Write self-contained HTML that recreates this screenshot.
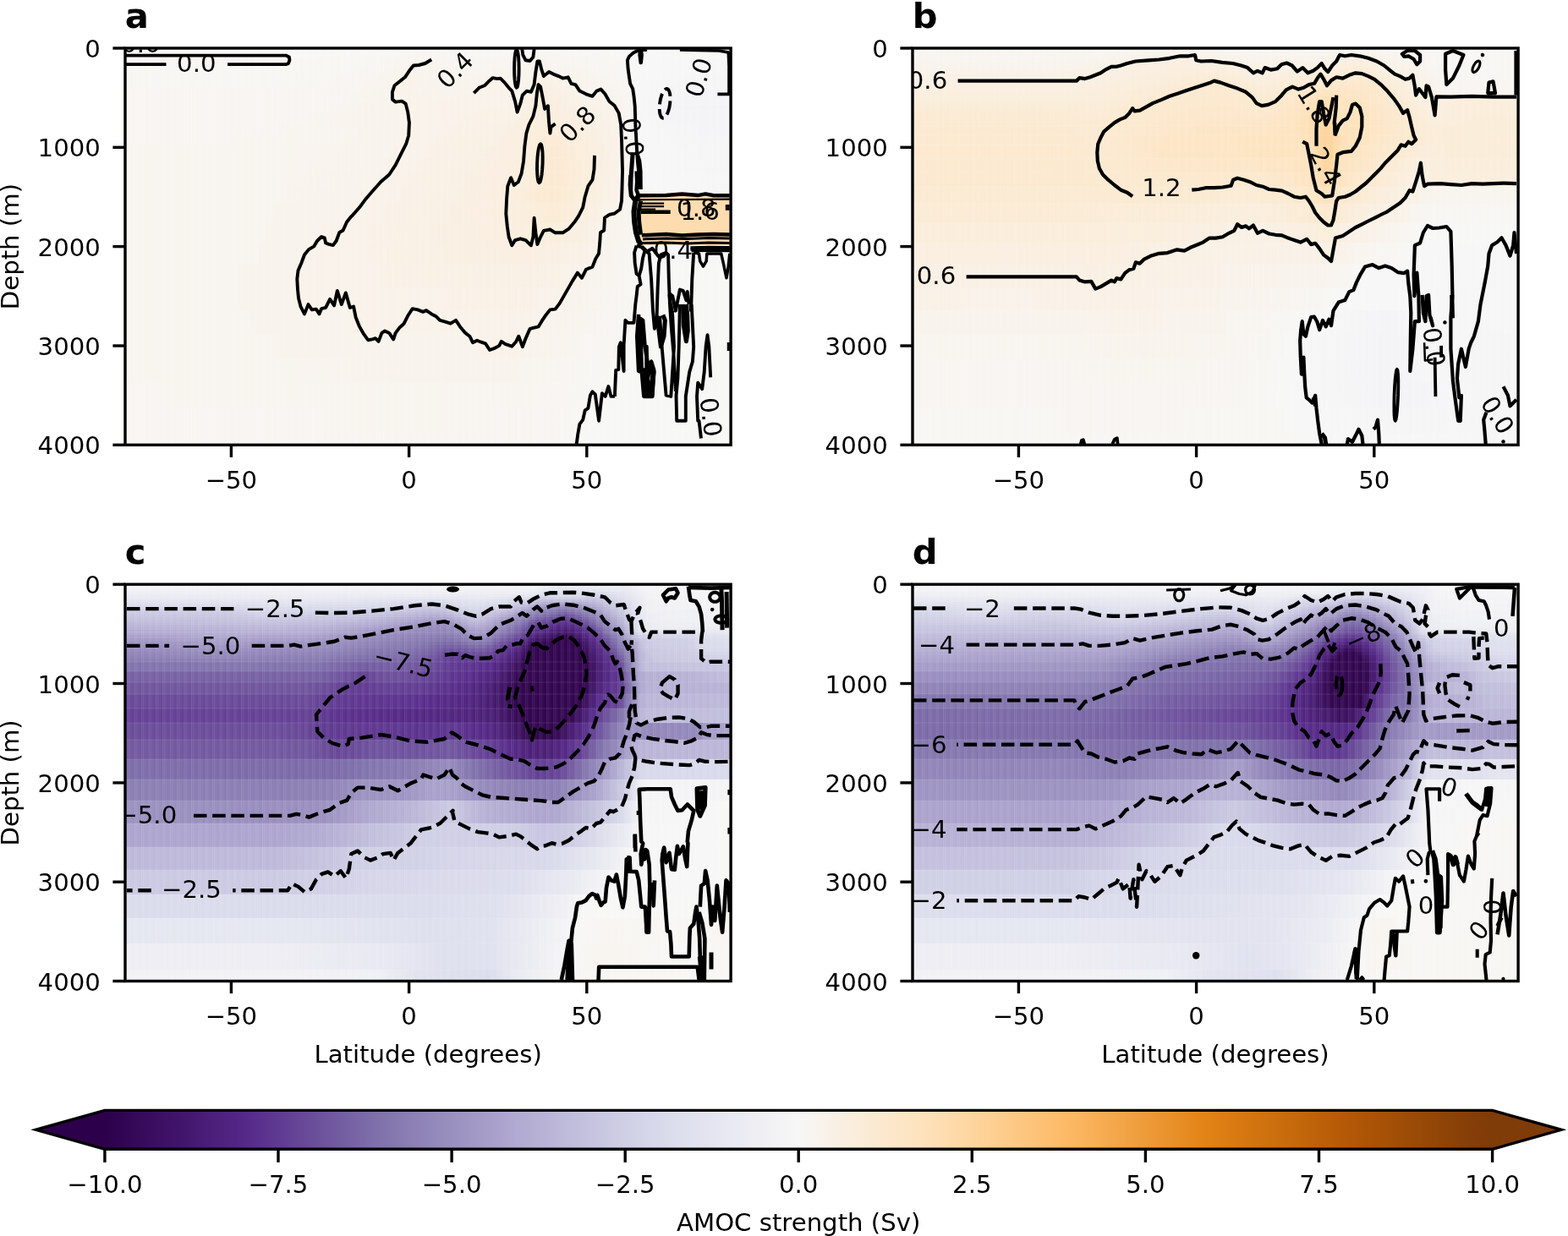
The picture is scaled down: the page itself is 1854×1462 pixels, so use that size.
<!DOCTYPE html>
<html lang="en"><head><meta charset="utf-8"><title>AMOC strength</title>
<style>html,body{margin:0;padding:0;background:#fff;}body{width:1854px;height:1462px;overflow:hidden;}svg{display:block;}svg text{font-family:'DejaVu Sans','Liberation Sans',sans-serif;fill:#000;}</style>
</head><body>
<svg width="1854" height="1462" viewBox="0 0 1854 1462">
<rect x="0" y="0" width="1854" height="1462" fill="#fff"/>
<g id="panel-a">
<clipPath id="clip-a"><rect x="148" y="57" width="716.1" height="469.3"/></clipPath>
<g clip-path="url(#clip-a)">
<defs><linearGradient id="ga0" gradientUnits="userSpaceOnUse" x1="148" y1="0" x2="864.1" y2="0"><stop offset=".000" stop-color="#f7f7f6"/><stop offset=".251" stop-color="#f7f7f6"/><stop offset=".457" stop-color="#f7f7f6"/><stop offset=".461" stop-color="#f7f6f3"/><stop offset=".524" stop-color="#f7f6f3"/><stop offset=".528" stop-color="#f7f7f6"/><stop offset=".654" stop-color="#f7f7f6"/><stop offset=".658" stop-color="#f7f6f3"/><stop offset=".712" stop-color="#f7f6f3"/><stop offset=".716" stop-color="#f7f7f6"/><stop offset=".968" stop-color="#f7f7f6"/><stop offset="1.000" stop-color="#f7f7f6"/></linearGradient><linearGradient id="ga1" gradientUnits="userSpaceOnUse" x1="148" y1="0" x2="864.1" y2="0"><stop offset=".000" stop-color="#f7f7f6"/><stop offset=".251" stop-color="#f7f7f6"/><stop offset=".415" stop-color="#f7f7f6"/><stop offset=".419" stop-color="#f7f6f3"/><stop offset=".670" stop-color="#f7f6f3"/><stop offset=".775" stop-color="#f7f6f3"/><stop offset=".779" stop-color="#f7f7f6"/><stop offset="1.000" stop-color="#f7f7f6"/></linearGradient><linearGradient id="ga2" gradientUnits="userSpaceOnUse" x1="148" y1="0" x2="864.1" y2="0"><stop offset=".000" stop-color="#f7f7f6"/><stop offset=".251" stop-color="#f7f7f6"/><stop offset=".369" stop-color="#f7f7f6"/><stop offset=".373" stop-color="#f7f6f3"/><stop offset=".469" stop-color="#f7f6f3"/><stop offset=".478" stop-color="#f8f5f1"/><stop offset=".582" stop-color="#f7f6f3"/><stop offset=".662" stop-color="#f7f6f3"/><stop offset=".670" stop-color="#f8f5f1"/><stop offset=".754" stop-color="#f7f6f3"/><stop offset=".800" stop-color="#f7f6f3"/><stop offset=".804" stop-color="#f7f7f6"/><stop offset="1.000" stop-color="#f7f7f6"/></linearGradient><linearGradient id="ga3" gradientUnits="userSpaceOnUse" x1="148" y1="0" x2="864.1" y2="0"><stop offset=".000" stop-color="#f7f7f6"/><stop offset=".251" stop-color="#f7f7f6"/><stop offset=".318" stop-color="#f7f7f6"/><stop offset=".323" stop-color="#f7f6f3"/><stop offset=".448" stop-color="#f7f6f3"/><stop offset=".457" stop-color="#f8f5f1"/><stop offset=".482" stop-color="#f8f5f1"/><stop offset=".486" stop-color="#f8f4ee"/><stop offset=".507" stop-color="#f8f4ee"/><stop offset=".511" stop-color="#f8f5f1"/><stop offset=".561" stop-color="#f7f6f3"/><stop offset=".641" stop-color="#f7f6f3"/><stop offset=".649" stop-color="#f8f5f1"/><stop offset=".670" stop-color="#f8f5f1"/><stop offset=".674" stop-color="#f8f4ee"/><stop offset=".687" stop-color="#f8f4ee"/><stop offset=".691" stop-color="#f8f5f1"/><stop offset=".783" stop-color="#f7f6f3"/><stop offset=".809" stop-color="#f7f6f3"/><stop offset=".813" stop-color="#f7f7f6"/><stop offset="1.000" stop-color="#f7f7f6"/></linearGradient><linearGradient id="ga4" gradientUnits="userSpaceOnUse" x1="148" y1="0" x2="864.1" y2="0"><stop offset=".000" stop-color="#f7f6f3"/><stop offset=".251" stop-color="#f7f6f3"/><stop offset=".432" stop-color="#f7f6f3"/><stop offset=".440" stop-color="#f8f5f1"/><stop offset=".465" stop-color="#f8f5f1"/><stop offset=".469" stop-color="#f8f4ee"/><stop offset=".490" stop-color="#f8f4ee"/><stop offset=".499" stop-color="#f8f3ec"/><stop offset=".515" stop-color="#f8f4ee"/><stop offset=".519" stop-color="#f8f5f1"/><stop offset=".561" stop-color="#f8f5f1"/><stop offset=".566" stop-color="#f7f6f3"/><stop offset=".574" stop-color="#f8f5f1"/><stop offset=".662" stop-color="#f8f5f1"/><stop offset=".666" stop-color="#f8f4ee"/><stop offset=".679" stop-color="#f8f4ee"/><stop offset=".683" stop-color="#f8f3ec"/><stop offset=".691" stop-color="#f8f4ee"/><stop offset=".712" stop-color="#f8f5f1"/><stop offset=".813" stop-color="#f7f6f3"/><stop offset=".817" stop-color="#f7f7f6"/><stop offset="1.000" stop-color="#f6f6f7"/></linearGradient><linearGradient id="ga5" gradientUnits="userSpaceOnUse" x1="148" y1="0" x2="864.1" y2="0"><stop offset=".000" stop-color="#f7f6f3"/><stop offset=".251" stop-color="#f7f6f3"/><stop offset=".419" stop-color="#f7f6f3"/><stop offset=".427" stop-color="#f8f5f1"/><stop offset=".452" stop-color="#f8f5f1"/><stop offset=".457" stop-color="#f8f4ee"/><stop offset=".507" stop-color="#f8f3ec"/><stop offset=".515" stop-color="#f8f4ee"/><stop offset=".536" stop-color="#f8f5f1"/><stop offset=".654" stop-color="#f8f5f1"/><stop offset=".658" stop-color="#f8f4ee"/><stop offset=".691" stop-color="#f8f3ec"/><stop offset=".700" stop-color="#f8f4ee"/><stop offset=".716" stop-color="#f8f4ee"/><stop offset=".721" stop-color="#f8f5f1"/><stop offset=".817" stop-color="#f7f6f3"/><stop offset=".821" stop-color="#f7f7f6"/><stop offset="1.000" stop-color="#f6f6f7"/></linearGradient><linearGradient id="ga6" gradientUnits="userSpaceOnUse" x1="148" y1="0" x2="864.1" y2="0"><stop offset=".000" stop-color="#f7f6f3"/><stop offset=".251" stop-color="#f7f6f3"/><stop offset=".406" stop-color="#f7f6f3"/><stop offset=".415" stop-color="#f8f5f1"/><stop offset=".444" stop-color="#f8f5f1"/><stop offset=".448" stop-color="#f8f4ee"/><stop offset=".499" stop-color="#f8f3ec"/><stop offset=".528" stop-color="#f8f4ee"/><stop offset=".532" stop-color="#f8f5f1"/><stop offset=".637" stop-color="#f8f5f1"/><stop offset=".641" stop-color="#f8f4ee"/><stop offset=".700" stop-color="#f8f3ec"/><stop offset=".708" stop-color="#f8f4ee"/><stop offset=".733" stop-color="#f8f4ee"/><stop offset=".737" stop-color="#f8f5f1"/><stop offset=".821" stop-color="#f7f6f3"/><stop offset=".825" stop-color="#f7f7f6"/><stop offset="1.000" stop-color="#f6f6f7"/></linearGradient><linearGradient id="ga7" gradientUnits="userSpaceOnUse" x1="148" y1="0" x2="864.1" y2="0"><stop offset=".000" stop-color="#f7f6f3"/><stop offset=".251" stop-color="#f7f6f3"/><stop offset=".394" stop-color="#f7f6f3"/><stop offset=".402" stop-color="#f8f5f1"/><stop offset=".436" stop-color="#f8f5f1"/><stop offset=".440" stop-color="#f8f4ee"/><stop offset=".490" stop-color="#f8f3ec"/><stop offset=".540" stop-color="#f8f4ee"/><stop offset=".545" stop-color="#f8f5f1"/><stop offset=".582" stop-color="#f8f5f1"/><stop offset=".587" stop-color="#f8f4ee"/><stop offset=".662" stop-color="#f8f4ee"/><stop offset=".670" stop-color="#f8f3ec"/><stop offset=".679" stop-color="#f8f3ec"/><stop offset=".683" stop-color="#f9f2e9"/><stop offset=".687" stop-color="#f8f3ec"/><stop offset=".750" stop-color="#f8f4ee"/><stop offset=".754" stop-color="#f8f5f1"/><stop offset=".821" stop-color="#f7f6f3"/><stop offset=".825" stop-color="#f7f7f6"/><stop offset="1.000" stop-color="#f6f6f7"/></linearGradient><linearGradient id="ga8" gradientUnits="userSpaceOnUse" x1="148" y1="0" x2="864.1" y2="0"><stop offset=".000" stop-color="#f7f6f3"/><stop offset=".251" stop-color="#f7f6f3"/><stop offset=".385" stop-color="#f7f6f3"/><stop offset=".394" stop-color="#f8f5f1"/><stop offset=".427" stop-color="#f8f5f1"/><stop offset=".432" stop-color="#f8f4ee"/><stop offset=".473" stop-color="#f8f3ec"/><stop offset=".478" stop-color="#f9f2e9"/><stop offset=".490" stop-color="#f8f3ec"/><stop offset=".561" stop-color="#f8f4ee"/><stop offset=".658" stop-color="#f8f4ee"/><stop offset=".666" stop-color="#f8f3ec"/><stop offset=".679" stop-color="#f8f3ec"/><stop offset=".683" stop-color="#f9f2e9"/><stop offset=".695" stop-color="#f8f3ec"/><stop offset=".762" stop-color="#f8f4ee"/><stop offset=".767" stop-color="#f8f5f1"/><stop offset=".825" stop-color="#f7f6f3"/><stop offset=".829" stop-color="#f7f7f6"/><stop offset="1.000" stop-color="#f6f6f7"/></linearGradient><linearGradient id="ga9" gradientUnits="userSpaceOnUse" x1="148" y1="0" x2="864.1" y2="0"><stop offset=".000" stop-color="#f7f6f3"/><stop offset=".251" stop-color="#f7f6f3"/><stop offset=".373" stop-color="#f7f6f3"/><stop offset=".381" stop-color="#f8f5f1"/><stop offset=".423" stop-color="#f8f5f1"/><stop offset=".427" stop-color="#f8f4ee"/><stop offset=".469" stop-color="#f8f3ec"/><stop offset=".473" stop-color="#f9f2e9"/><stop offset=".494" stop-color="#f8f3ec"/><stop offset=".566" stop-color="#f8f4ee"/><stop offset=".607" stop-color="#f8f4ee"/><stop offset=".616" stop-color="#f8f3ec"/><stop offset=".637" stop-color="#f8f4ee"/><stop offset=".674" stop-color="#f8f3ec"/><stop offset=".679" stop-color="#f9f2e9"/><stop offset=".700" stop-color="#f9f2e9"/><stop offset=".704" stop-color="#f8f3ec"/><stop offset=".771" stop-color="#f8f4ee"/><stop offset=".775" stop-color="#f8f5f1"/><stop offset=".825" stop-color="#f7f6f3"/><stop offset=".829" stop-color="#f7f7f6"/><stop offset="1.000" stop-color="#f6f6f7"/></linearGradient><linearGradient id="ga10" gradientUnits="userSpaceOnUse" x1="148" y1="0" x2="864.1" y2="0"><stop offset=".000" stop-color="#f7f6f3"/><stop offset=".251" stop-color="#f7f6f3"/><stop offset=".360" stop-color="#f7f6f3"/><stop offset=".369" stop-color="#f8f5f1"/><stop offset=".415" stop-color="#f8f5f1"/><stop offset=".419" stop-color="#f8f4ee"/><stop offset=".465" stop-color="#f8f3ec"/><stop offset=".469" stop-color="#f9f2e9"/><stop offset=".482" stop-color="#f9f2e9"/><stop offset=".486" stop-color="#f8f3ec"/><stop offset=".587" stop-color="#f8f4ee"/><stop offset=".595" stop-color="#f8f3ec"/><stop offset=".670" stop-color="#f8f3ec"/><stop offset=".674" stop-color="#f9f2e9"/><stop offset=".712" stop-color="#f9f2e9"/><stop offset=".716" stop-color="#f8f3ec"/><stop offset=".783" stop-color="#f8f4ee"/><stop offset=".788" stop-color="#f8f5f1"/><stop offset=".825" stop-color="#f7f6f3"/><stop offset=".829" stop-color="#f7f7f6"/><stop offset="1.000" stop-color="#f5f5f6"/></linearGradient><linearGradient id="ga11" gradientUnits="userSpaceOnUse" x1="148" y1="0" x2="864.1" y2="0"><stop offset=".000" stop-color="#f7f6f3"/><stop offset=".251" stop-color="#f7f6f3"/><stop offset=".348" stop-color="#f7f6f3"/><stop offset=".356" stop-color="#f8f5f1"/><stop offset=".411" stop-color="#f8f5f1"/><stop offset=".415" stop-color="#f8f4ee"/><stop offset=".461" stop-color="#f8f3ec"/><stop offset=".465" stop-color="#f9f2e9"/><stop offset=".478" stop-color="#f9f2e9"/><stop offset=".482" stop-color="#f8f3ec"/><stop offset=".574" stop-color="#f8f4ee"/><stop offset=".582" stop-color="#f8f3ec"/><stop offset=".670" stop-color="#f8f3ec"/><stop offset=".674" stop-color="#f9f2e9"/><stop offset=".683" stop-color="#f9f2e9"/><stop offset=".687" stop-color="#f9f1e6"/><stop offset=".700" stop-color="#f9f2e9"/><stop offset=".725" stop-color="#f9f2e9"/><stop offset=".729" stop-color="#f8f3ec"/><stop offset=".792" stop-color="#f8f4ee"/><stop offset=".796" stop-color="#f8f5f1"/><stop offset=".829" stop-color="#f7f6f3"/><stop offset=".834" stop-color="#f7f7f6"/><stop offset="1.000" stop-color="#f5f5f6"/></linearGradient><linearGradient id="ga12" gradientUnits="userSpaceOnUse" x1="148" y1="0" x2="864.1" y2="0"><stop offset=".000" stop-color="#f7f6f3"/><stop offset=".251" stop-color="#f7f6f3"/><stop offset=".406" stop-color="#f8f5f1"/><stop offset=".411" stop-color="#f8f4ee"/><stop offset=".457" stop-color="#f8f3ec"/><stop offset=".461" stop-color="#f9f2e9"/><stop offset=".478" stop-color="#f9f2e9"/><stop offset=".482" stop-color="#f8f3ec"/><stop offset=".545" stop-color="#f8f3ec"/><stop offset=".553" stop-color="#f8f4ee"/><stop offset=".561" stop-color="#f8f3ec"/><stop offset=".666" stop-color="#f8f3ec"/><stop offset=".679" stop-color="#f9f1e6"/><stop offset=".708" stop-color="#f9f1e6"/><stop offset=".712" stop-color="#f9f2e9"/><stop offset=".733" stop-color="#f9f2e9"/><stop offset=".737" stop-color="#f8f3ec"/><stop offset=".796" stop-color="#f8f4ee"/><stop offset=".800" stop-color="#f8f5f1"/><stop offset=".829" stop-color="#f7f6f3"/><stop offset=".834" stop-color="#f7f7f6"/><stop offset=".980" stop-color="#f5f5f6"/><stop offset="1.000" stop-color="#f5f5f6"/></linearGradient><linearGradient id="ga13" gradientUnits="userSpaceOnUse" x1="148" y1="0" x2="864.1" y2="0"><stop offset=".000" stop-color="#f7f6f3"/><stop offset=".251" stop-color="#f7f6f3"/><stop offset=".398" stop-color="#f8f5f1"/><stop offset=".402" stop-color="#f8f4ee"/><stop offset=".452" stop-color="#f8f3ec"/><stop offset=".457" stop-color="#f9f2e9"/><stop offset=".478" stop-color="#f9f2e9"/><stop offset=".482" stop-color="#f8f3ec"/><stop offset=".595" stop-color="#f8f3ec"/><stop offset=".599" stop-color="#f9f2e9"/><stop offset=".624" stop-color="#f9f2e9"/><stop offset=".628" stop-color="#f8f3ec"/><stop offset=".666" stop-color="#f8f3ec"/><stop offset=".683" stop-color="#f9f0e4"/><stop offset=".716" stop-color="#f9f1e6"/><stop offset=".721" stop-color="#f9f2e9"/><stop offset=".737" stop-color="#f9f2e9"/><stop offset=".742" stop-color="#f8f3ec"/><stop offset=".779" stop-color="#f8f3ec"/><stop offset=".788" stop-color="#f8f4ee"/><stop offset=".800" stop-color="#f8f4ee"/><stop offset=".804" stop-color="#f8f5f1"/><stop offset=".829" stop-color="#f7f6f3"/><stop offset=".834" stop-color="#f7f7f6"/><stop offset=".959" stop-color="#f5f5f6"/><stop offset="1.000" stop-color="#f5f5f6"/></linearGradient><linearGradient id="ga14" gradientUnits="userSpaceOnUse" x1="148" y1="0" x2="864.1" y2="0"><stop offset=".000" stop-color="#f7f6f3"/><stop offset=".251" stop-color="#f7f6f3"/><stop offset=".394" stop-color="#f8f5f1"/><stop offset=".398" stop-color="#f8f4ee"/><stop offset=".448" stop-color="#f8f3ec"/><stop offset=".452" stop-color="#f9f2e9"/><stop offset=".478" stop-color="#f9f2e9"/><stop offset=".482" stop-color="#f8f3ec"/><stop offset=".591" stop-color="#f8f3ec"/><stop offset=".595" stop-color="#f9f2e9"/><stop offset=".633" stop-color="#f9f2e9"/><stop offset=".637" stop-color="#f8f3ec"/><stop offset=".662" stop-color="#f8f3ec"/><stop offset=".679" stop-color="#f9f0e4"/><stop offset=".683" stop-color="#f9efe1"/><stop offset=".695" stop-color="#f9efe1"/><stop offset=".700" stop-color="#f9f0e4"/><stop offset=".721" stop-color="#f9f1e6"/><stop offset=".725" stop-color="#f9f2e9"/><stop offset=".746" stop-color="#f9f2e9"/><stop offset=".750" stop-color="#f8f3ec"/><stop offset=".788" stop-color="#f8f3ec"/><stop offset=".796" stop-color="#f8f4ee"/><stop offset=".817" stop-color="#f8f5f1"/><stop offset=".838" stop-color="#f7f7f6"/><stop offset=".930" stop-color="#f5f5f6"/><stop offset="1.000" stop-color="#f5f5f6"/></linearGradient><linearGradient id="ga15" gradientUnits="userSpaceOnUse" x1="148" y1="0" x2="864.1" y2="0"><stop offset=".000" stop-color="#f7f6f3"/><stop offset=".251" stop-color="#f7f6f3"/><stop offset=".344" stop-color="#f8f5f1"/><stop offset=".390" stop-color="#f8f5f1"/><stop offset=".394" stop-color="#f8f4ee"/><stop offset=".444" stop-color="#f8f3ec"/><stop offset=".448" stop-color="#f9f2e9"/><stop offset=".482" stop-color="#f9f2e9"/><stop offset=".486" stop-color="#f8f3ec"/><stop offset=".582" stop-color="#f8f3ec"/><stop offset=".587" stop-color="#f9f2e9"/><stop offset=".637" stop-color="#f9f2e9"/><stop offset=".641" stop-color="#f8f3ec"/><stop offset=".658" stop-color="#f8f3ec"/><stop offset=".662" stop-color="#f9f2e9"/><stop offset=".670" stop-color="#f9f2e9"/><stop offset=".679" stop-color="#f9f0e4"/><stop offset=".683" stop-color="#faeedf"/><stop offset=".700" stop-color="#f9efe1"/><stop offset=".704" stop-color="#f9f0e4"/><stop offset=".729" stop-color="#f9f1e6"/><stop offset=".733" stop-color="#f9f2e9"/><stop offset=".750" stop-color="#f9f2e9"/><stop offset=".754" stop-color="#f8f3ec"/><stop offset=".792" stop-color="#f8f3ec"/><stop offset=".800" stop-color="#f8f4ee"/><stop offset=".821" stop-color="#f8f5f1"/><stop offset=".842" stop-color="#f7f7f6"/><stop offset=".913" stop-color="#f5f5f6"/><stop offset="1.000" stop-color="#f5f5f6"/></linearGradient><linearGradient id="ga16" gradientUnits="userSpaceOnUse" x1="148" y1="0" x2="864.1" y2="0"><stop offset=".000" stop-color="#f8f5f1"/><stop offset=".251" stop-color="#f8f5f1"/><stop offset=".385" stop-color="#f8f5f1"/><stop offset=".390" stop-color="#f8f4ee"/><stop offset=".440" stop-color="#f8f3ec"/><stop offset=".444" stop-color="#f9f2e9"/><stop offset=".482" stop-color="#f9f2e9"/><stop offset=".486" stop-color="#f8f3ec"/><stop offset=".574" stop-color="#f8f3ec"/><stop offset=".578" stop-color="#f9f2e9"/><stop offset=".670" stop-color="#f9f2e9"/><stop offset=".679" stop-color="#f9efe1"/><stop offset=".687" stop-color="#faeedf"/><stop offset=".725" stop-color="#f9f1e6"/><stop offset=".767" stop-color="#f8f3ec"/><stop offset=".796" stop-color="#f8f3ec"/><stop offset=".825" stop-color="#f7f6f3"/><stop offset=".846" stop-color="#f7f7f6"/><stop offset=".897" stop-color="#f5f5f6"/><stop offset="1.000" stop-color="#f4f4f6"/></linearGradient><linearGradient id="ga17" gradientUnits="userSpaceOnUse" x1="148" y1="0" x2="864.1" y2="0"><stop offset=".000" stop-color="#f8f5f1"/><stop offset=".251" stop-color="#f8f5f1"/><stop offset=".377" stop-color="#f8f5f1"/><stop offset=".381" stop-color="#f8f4ee"/><stop offset=".440" stop-color="#f8f3ec"/><stop offset=".444" stop-color="#f9f2e9"/><stop offset=".486" stop-color="#f9f2e9"/><stop offset=".490" stop-color="#f8f3ec"/><stop offset=".570" stop-color="#f8f3ec"/><stop offset=".574" stop-color="#f9f2e9"/><stop offset=".666" stop-color="#f9f2e9"/><stop offset=".683" stop-color="#faeedf"/><stop offset=".708" stop-color="#f9efe1"/><stop offset=".712" stop-color="#f9f0e4"/><stop offset=".737" stop-color="#f9f1e6"/><stop offset=".742" stop-color="#f9f2e9"/><stop offset=".783" stop-color="#f9f2e9"/><stop offset=".788" stop-color="#f8f3ec"/><stop offset=".813" stop-color="#f8f4ee"/><stop offset=".817" stop-color="#f8f5f1"/><stop offset=".834" stop-color="#f7f6f3"/><stop offset=".838" stop-color="#f7f7f6"/><stop offset=".943" stop-color="#f4f4f6"/><stop offset="1.000" stop-color="#f4f4f6"/></linearGradient><linearGradient id="ga18" gradientUnits="userSpaceOnUse" x1="148" y1="0" x2="864.1" y2="0"><stop offset=".000" stop-color="#f8f5f1"/><stop offset=".251" stop-color="#f8f5f1"/><stop offset=".373" stop-color="#f8f5f1"/><stop offset=".377" stop-color="#f8f4ee"/><stop offset=".440" stop-color="#f8f3ec"/><stop offset=".444" stop-color="#f9f2e9"/><stop offset=".494" stop-color="#f9f2e9"/><stop offset=".499" stop-color="#f8f3ec"/><stop offset=".561" stop-color="#f8f3ec"/><stop offset=".566" stop-color="#f9f2e9"/><stop offset=".662" stop-color="#f9f2e9"/><stop offset=".679" stop-color="#faeedf"/><stop offset=".683" stop-color="#faeedf"/><stop offset=".687" stop-color="#faeedc"/><stop offset=".691" stop-color="#faeedf"/><stop offset=".712" stop-color="#f9efe1"/><stop offset=".716" stop-color="#f9f0e4"/><stop offset=".742" stop-color="#f9f1e6"/><stop offset=".746" stop-color="#f9f2e9"/><stop offset=".788" stop-color="#f9f2e9"/><stop offset=".792" stop-color="#f8f3ec"/><stop offset=".813" stop-color="#f8f4ee"/><stop offset=".817" stop-color="#f8f5f1"/><stop offset=".834" stop-color="#f7f6f3"/><stop offset=".838" stop-color="#f7f7f6"/><stop offset=".922" stop-color="#f4f4f6"/><stop offset="1.000" stop-color="#f4f4f6"/></linearGradient><linearGradient id="ga19" gradientUnits="userSpaceOnUse" x1="148" y1="0" x2="864.1" y2="0"><stop offset=".000" stop-color="#f8f5f1"/><stop offset=".251" stop-color="#f8f5f1"/><stop offset=".369" stop-color="#f8f5f1"/><stop offset=".373" stop-color="#f8f4ee"/><stop offset=".440" stop-color="#f8f3ec"/><stop offset=".444" stop-color="#f9f2e9"/><stop offset=".507" stop-color="#f9f2e9"/><stop offset=".511" stop-color="#f8f3ec"/><stop offset=".545" stop-color="#f8f3ec"/><stop offset=".549" stop-color="#f9f2e9"/><stop offset=".658" stop-color="#f9f2e9"/><stop offset=".679" stop-color="#faeedf"/><stop offset=".683" stop-color="#faeedc"/><stop offset=".704" stop-color="#f9efe1"/><stop offset=".725" stop-color="#f9f0e4"/><stop offset=".746" stop-color="#f9f1e6"/><stop offset=".758" stop-color="#f9f2e9"/><stop offset=".792" stop-color="#f9f2e9"/><stop offset=".796" stop-color="#f8f3ec"/><stop offset=".817" stop-color="#f8f4ee"/><stop offset=".821" stop-color="#f8f5f1"/><stop offset=".842" stop-color="#f7f7f6"/><stop offset=".905" stop-color="#f4f4f6"/><stop offset="1.000" stop-color="#f4f4f6"/></linearGradient><linearGradient id="ga20" gradientUnits="userSpaceOnUse" x1="148" y1="0" x2="864.1" y2="0"><stop offset=".000" stop-color="#f8f5f1"/><stop offset=".251" stop-color="#f8f5f1"/><stop offset=".360" stop-color="#f8f5f1"/><stop offset=".364" stop-color="#f8f4ee"/><stop offset=".411" stop-color="#f8f4ee"/><stop offset=".419" stop-color="#f8f3ec"/><stop offset=".440" stop-color="#f8f3ec"/><stop offset=".444" stop-color="#f9f2e9"/><stop offset=".658" stop-color="#f9f2e9"/><stop offset=".674" stop-color="#faeedf"/><stop offset=".687" stop-color="#faeedc"/><stop offset=".708" stop-color="#f9efe1"/><stop offset=".721" stop-color="#f9efe1"/><stop offset=".725" stop-color="#f9f0e4"/><stop offset=".758" stop-color="#f9f1e6"/><stop offset=".762" stop-color="#f9f2e9"/><stop offset=".796" stop-color="#f9f2e9"/><stop offset=".800" stop-color="#f8f3ec"/><stop offset=".817" stop-color="#f8f4ee"/><stop offset=".821" stop-color="#f8f5f1"/><stop offset=".838" stop-color="#f7f6f3"/><stop offset=".842" stop-color="#f7f7f6"/><stop offset=".888" stop-color="#f4f4f6"/><stop offset="1.000" stop-color="#f4f4f6"/></linearGradient><linearGradient id="ga21" gradientUnits="userSpaceOnUse" x1="148" y1="0" x2="864.1" y2="0"><stop offset=".000" stop-color="#f8f5f1"/><stop offset=".251" stop-color="#f8f5f1"/><stop offset=".352" stop-color="#f8f5f1"/><stop offset=".356" stop-color="#f8f4ee"/><stop offset=".444" stop-color="#f8f3ec"/><stop offset=".448" stop-color="#f9f2e9"/><stop offset=".654" stop-color="#f9f2e9"/><stop offset=".683" stop-color="#faeedc"/><stop offset=".695" stop-color="#faeedc"/><stop offset=".700" stop-color="#faeedf"/><stop offset=".725" stop-color="#f9efe1"/><stop offset=".729" stop-color="#f9f0e4"/><stop offset=".767" stop-color="#f9f1e6"/><stop offset=".771" stop-color="#f9f2e9"/><stop offset=".800" stop-color="#f9f2e9"/><stop offset=".804" stop-color="#f8f3ec"/><stop offset=".821" stop-color="#f8f4ee"/><stop offset=".825" stop-color="#f8f5f1"/><stop offset=".846" stop-color="#f7f7f6"/><stop offset=".880" stop-color="#f4f4f6"/><stop offset="1.000" stop-color="#f4f4f6"/></linearGradient><linearGradient id="ga22" gradientUnits="userSpaceOnUse" x1="148" y1="0" x2="864.1" y2="0"><stop offset=".000" stop-color="#f8f5f1"/><stop offset=".251" stop-color="#f8f5f1"/><stop offset=".344" stop-color="#f8f5f1"/><stop offset=".348" stop-color="#f8f4ee"/><stop offset=".448" stop-color="#f8f3ec"/><stop offset=".452" stop-color="#f9f2e9"/><stop offset=".654" stop-color="#f9f2e9"/><stop offset=".666" stop-color="#f9efe1"/><stop offset=".674" stop-color="#faeedf"/><stop offset=".679" stop-color="#faeedc"/><stop offset=".700" stop-color="#faeedc"/><stop offset=".704" stop-color="#faeedf"/><stop offset=".733" stop-color="#f9efe1"/><stop offset=".737" stop-color="#f9f0e4"/><stop offset=".779" stop-color="#f9f1e6"/><stop offset=".783" stop-color="#f9f2e9"/><stop offset=".804" stop-color="#f9f2e9"/><stop offset=".809" stop-color="#f8f3ec"/><stop offset=".817" stop-color="#f8f3ec"/><stop offset=".825" stop-color="#f8f5f1"/><stop offset=".846" stop-color="#f7f7f6"/><stop offset=".880" stop-color="#f4f4f6"/><stop offset="1.000" stop-color="#f3f3f5"/></linearGradient><linearGradient id="ga23" gradientUnits="userSpaceOnUse" x1="148" y1="0" x2="864.1" y2="0"><stop offset=".000" stop-color="#f8f5f1"/><stop offset=".251" stop-color="#f8f5f1"/><stop offset=".335" stop-color="#f8f5f1"/><stop offset=".339" stop-color="#f8f4ee"/><stop offset=".452" stop-color="#f8f3ec"/><stop offset=".457" stop-color="#f9f2e9"/><stop offset=".587" stop-color="#f9f2e9"/><stop offset=".591" stop-color="#f9f1e6"/><stop offset=".628" stop-color="#f9f1e6"/><stop offset=".633" stop-color="#f9f2e9"/><stop offset=".649" stop-color="#f9f2e9"/><stop offset=".670" stop-color="#faeedf"/><stop offset=".683" stop-color="#faeedc"/><stop offset=".700" stop-color="#faeedc"/><stop offset=".704" stop-color="#faeedf"/><stop offset=".737" stop-color="#f9efe1"/><stop offset=".742" stop-color="#f9f0e4"/><stop offset=".783" stop-color="#f9f1e6"/><stop offset=".788" stop-color="#f9f2e9"/><stop offset=".809" stop-color="#f9f2e9"/><stop offset=".813" stop-color="#f8f3ec"/><stop offset=".825" stop-color="#f8f4ee"/><stop offset=".842" stop-color="#f7f7f6"/><stop offset=".884" stop-color="#f4f4f6"/><stop offset="1.000" stop-color="#f4f4f6"/></linearGradient><linearGradient id="ga24" gradientUnits="userSpaceOnUse" x1="148" y1="0" x2="864.1" y2="0"><stop offset=".000" stop-color="#f8f5f1"/><stop offset=".251" stop-color="#f8f5f1"/><stop offset=".323" stop-color="#f8f5f1"/><stop offset=".327" stop-color="#f8f4ee"/><stop offset=".452" stop-color="#f8f3ec"/><stop offset=".457" stop-color="#f9f2e9"/><stop offset=".574" stop-color="#f9f2e9"/><stop offset=".578" stop-color="#f9f1e6"/><stop offset=".654" stop-color="#f9f1e6"/><stop offset=".662" stop-color="#f9efe1"/><stop offset=".683" stop-color="#faeedc"/><stop offset=".704" stop-color="#faeedc"/><stop offset=".708" stop-color="#faeedf"/><stop offset=".746" stop-color="#f9efe1"/><stop offset=".750" stop-color="#f9f0e4"/><stop offset=".788" stop-color="#f9f1e6"/><stop offset=".792" stop-color="#f9f2e9"/><stop offset=".813" stop-color="#f9f2e9"/><stop offset=".829" stop-color="#f8f5f1"/><stop offset=".838" stop-color="#f7f6f3"/><stop offset=".842" stop-color="#f7f7f6"/><stop offset=".888" stop-color="#f4f4f6"/><stop offset="1.000" stop-color="#f4f4f6"/></linearGradient><linearGradient id="ga25" gradientUnits="userSpaceOnUse" x1="148" y1="0" x2="864.1" y2="0"><stop offset=".000" stop-color="#f8f5f1"/><stop offset=".251" stop-color="#f8f5f1"/><stop offset=".314" stop-color="#f8f5f1"/><stop offset=".318" stop-color="#f8f4ee"/><stop offset=".452" stop-color="#f8f3ec"/><stop offset=".457" stop-color="#f9f2e9"/><stop offset=".561" stop-color="#f9f2e9"/><stop offset=".566" stop-color="#f9f1e6"/><stop offset=".645" stop-color="#f9f1e6"/><stop offset=".666" stop-color="#faeedf"/><stop offset=".679" stop-color="#faeedc"/><stop offset=".704" stop-color="#faeedc"/><stop offset=".708" stop-color="#faeedf"/><stop offset=".750" stop-color="#f9efe1"/><stop offset=".754" stop-color="#f9f0e4"/><stop offset=".792" stop-color="#f9f1e6"/><stop offset=".796" stop-color="#f9f2e9"/><stop offset=".813" stop-color="#f9f2e9"/><stop offset=".829" stop-color="#f8f5f1"/><stop offset=".838" stop-color="#f7f6f3"/><stop offset=".842" stop-color="#f7f7f6"/><stop offset=".905" stop-color="#f4f4f6"/><stop offset="1.000" stop-color="#f4f4f6"/></linearGradient><linearGradient id="ga26" gradientUnits="userSpaceOnUse" x1="148" y1="0" x2="864.1" y2="0"><stop offset=".000" stop-color="#f8f5f1"/><stop offset=".251" stop-color="#f8f5f1"/><stop offset=".302" stop-color="#f8f5f1"/><stop offset=".306" stop-color="#f8f4ee"/><stop offset=".457" stop-color="#f8f3ec"/><stop offset=".461" stop-color="#f9f2e9"/><stop offset=".553" stop-color="#f9f2e9"/><stop offset=".557" stop-color="#f9f1e6"/><stop offset=".624" stop-color="#f9f1e6"/><stop offset=".633" stop-color="#f9f0e4"/><stop offset=".649" stop-color="#f9f0e4"/><stop offset=".654" stop-color="#f9efe1"/><stop offset=".674" stop-color="#faeedc"/><stop offset=".712" stop-color="#faeedc"/><stop offset=".716" stop-color="#faeedf"/><stop offset=".758" stop-color="#f9efe1"/><stop offset=".762" stop-color="#f9f0e4"/><stop offset=".796" stop-color="#f9f1e6"/><stop offset=".800" stop-color="#f9f2e9"/><stop offset=".813" stop-color="#f9f2e9"/><stop offset=".829" stop-color="#f8f5f1"/><stop offset=".838" stop-color="#f7f6f3"/><stop offset=".842" stop-color="#f7f7f6"/><stop offset=".917" stop-color="#f4f4f6"/><stop offset="1.000" stop-color="#f4f4f6"/></linearGradient><linearGradient id="ga27" gradientUnits="userSpaceOnUse" x1="148" y1="0" x2="864.1" y2="0"><stop offset=".000" stop-color="#f8f5f1"/><stop offset=".251" stop-color="#f8f5f1"/><stop offset=".285" stop-color="#f8f5f1"/><stop offset=".289" stop-color="#f8f4ee"/><stop offset=".457" stop-color="#f8f3ec"/><stop offset=".461" stop-color="#f9f2e9"/><stop offset=".545" stop-color="#f9f2e9"/><stop offset=".549" stop-color="#f9f1e6"/><stop offset=".607" stop-color="#f9f1e6"/><stop offset=".616" stop-color="#f9f0e4"/><stop offset=".641" stop-color="#f9f0e4"/><stop offset=".645" stop-color="#f9efe1"/><stop offset=".666" stop-color="#faeedf"/><stop offset=".670" stop-color="#faeedc"/><stop offset=".725" stop-color="#faeedc"/><stop offset=".729" stop-color="#faeedf"/><stop offset=".762" stop-color="#f9efe1"/><stop offset=".767" stop-color="#f9f0e4"/><stop offset=".800" stop-color="#f9f1e6"/><stop offset=".804" stop-color="#f9f2e9"/><stop offset=".813" stop-color="#f9f2e9"/><stop offset=".817" stop-color="#f8f3ec"/><stop offset=".829" stop-color="#f8f4ee"/><stop offset=".842" stop-color="#f7f7f6"/><stop offset=".934" stop-color="#f4f4f6"/><stop offset="1.000" stop-color="#f4f4f6"/></linearGradient><linearGradient id="ga28" gradientUnits="userSpaceOnUse" x1="148" y1="0" x2="864.1" y2="0"><stop offset=".000" stop-color="#f8f5f1"/><stop offset=".251" stop-color="#f8f5f1"/><stop offset=".256" stop-color="#f8f4ee"/><stop offset=".381" stop-color="#f8f4ee"/><stop offset=".390" stop-color="#f8f3ec"/><stop offset=".452" stop-color="#f8f3ec"/><stop offset=".457" stop-color="#f9f2e9"/><stop offset=".528" stop-color="#f9f2e9"/><stop offset=".532" stop-color="#f9f1e6"/><stop offset=".591" stop-color="#f9f1e6"/><stop offset=".599" stop-color="#f9f0e4"/><stop offset=".628" stop-color="#f9f0e4"/><stop offset=".633" stop-color="#f9efe1"/><stop offset=".658" stop-color="#faeedf"/><stop offset=".662" stop-color="#faeedc"/><stop offset=".704" stop-color="#faedda"/><stop offset=".742" stop-color="#faeedc"/><stop offset=".746" stop-color="#faeedf"/><stop offset=".771" stop-color="#f9efe1"/><stop offset=".775" stop-color="#f9f0e4"/><stop offset=".804" stop-color="#f9f1e6"/><stop offset=".809" stop-color="#f9f2e9"/><stop offset=".817" stop-color="#f9f2e9"/><stop offset=".838" stop-color="#f7f6f3"/><stop offset=".842" stop-color="#f7f7f6"/><stop offset=".968" stop-color="#f4f4f6"/><stop offset="1.000" stop-color="#f4f4f6"/></linearGradient><linearGradient id="ga29" gradientUnits="userSpaceOnUse" x1="148" y1="0" x2="864.1" y2="0"><stop offset=".000" stop-color="#f8f5f1"/><stop offset=".176" stop-color="#f8f5f1"/><stop offset=".180" stop-color="#f8f4ee"/><stop offset=".364" stop-color="#f8f4ee"/><stop offset=".373" stop-color="#f8f3ec"/><stop offset=".448" stop-color="#f8f3ec"/><stop offset=".452" stop-color="#f9f2e9"/><stop offset=".511" stop-color="#f9f2e9"/><stop offset=".515" stop-color="#f9f1e6"/><stop offset=".612" stop-color="#f9f0e4"/><stop offset=".616" stop-color="#f9efe1"/><stop offset=".654" stop-color="#faeedf"/><stop offset=".658" stop-color="#faeedc"/><stop offset=".679" stop-color="#faedda"/><stop offset=".687" stop-color="#fbebd5"/><stop offset=".704" stop-color="#fbebd5"/><stop offset=".708" stop-color="#fbead2"/><stop offset=".712" stop-color="#fbebd5"/><stop offset=".729" stop-color="#faecd7"/><stop offset=".733" stop-color="#faedda"/><stop offset=".754" stop-color="#faeedc"/><stop offset=".758" stop-color="#faeedf"/><stop offset=".779" stop-color="#f9efe1"/><stop offset=".783" stop-color="#f9f0e4"/><stop offset=".809" stop-color="#f9f1e6"/><stop offset=".821" stop-color="#f8f3ec"/><stop offset=".829" stop-color="#f8f4ee"/><stop offset=".842" stop-color="#f7f7f6"/><stop offset=".955" stop-color="#f5f5f6"/><stop offset="1.000" stop-color="#f5f5f6"/></linearGradient><linearGradient id="ga30" gradientUnits="userSpaceOnUse" x1="148" y1="0" x2="864.1" y2="0"><stop offset=".000" stop-color="#f8f4ee"/><stop offset=".251" stop-color="#f8f4ee"/><stop offset=".440" stop-color="#f8f3ec"/><stop offset=".444" stop-color="#f9f2e9"/><stop offset=".499" stop-color="#f9f2e9"/><stop offset=".503" stop-color="#f9f1e6"/><stop offset=".595" stop-color="#f9f0e4"/><stop offset=".599" stop-color="#f9efe1"/><stop offset=".649" stop-color="#faeedf"/><stop offset=".654" stop-color="#faeedc"/><stop offset=".674" stop-color="#faedda"/><stop offset=".679" stop-color="#faecd7"/><stop offset=".695" stop-color="#fbebd5"/><stop offset=".700" stop-color="#fbead2"/><stop offset=".716" stop-color="#fbead2"/><stop offset=".721" stop-color="#fbebd5"/><stop offset=".742" stop-color="#faecd7"/><stop offset=".746" stop-color="#faedda"/><stop offset=".767" stop-color="#faeedc"/><stop offset=".771" stop-color="#faeedf"/><stop offset=".788" stop-color="#f9efe1"/><stop offset=".792" stop-color="#f9f0e4"/><stop offset=".809" stop-color="#f9f1e6"/><stop offset=".821" stop-color="#f8f3ec"/><stop offset=".829" stop-color="#f8f4ee"/><stop offset=".842" stop-color="#f7f7f6"/><stop offset="1.000" stop-color="#f5f5f6"/></linearGradient><linearGradient id="ga31" gradientUnits="userSpaceOnUse" x1="148" y1="0" x2="864.1" y2="0"><stop offset=".000" stop-color="#f8f4ee"/><stop offset=".251" stop-color="#f8f4ee"/><stop offset=".427" stop-color="#f8f3ec"/><stop offset=".432" stop-color="#f9f2e9"/><stop offset=".486" stop-color="#f9f2e9"/><stop offset=".490" stop-color="#f9f1e6"/><stop offset=".578" stop-color="#f9f0e4"/><stop offset=".582" stop-color="#f9efe1"/><stop offset=".645" stop-color="#faeedf"/><stop offset=".649" stop-color="#faeedc"/><stop offset=".670" stop-color="#faedda"/><stop offset=".674" stop-color="#faecd7"/><stop offset=".695" stop-color="#fbebd5"/><stop offset=".700" stop-color="#fbead2"/><stop offset=".721" stop-color="#fbead2"/><stop offset=".725" stop-color="#fbebd5"/><stop offset=".746" stop-color="#faecd7"/><stop offset=".750" stop-color="#faedda"/><stop offset=".775" stop-color="#faeedc"/><stop offset=".779" stop-color="#faeedf"/><stop offset=".809" stop-color="#f9f1e6"/><stop offset=".821" stop-color="#f8f3ec"/><stop offset=".829" stop-color="#f8f4ee"/><stop offset=".842" stop-color="#f7f7f6"/><stop offset="1.000" stop-color="#f5f5f6"/></linearGradient><linearGradient id="ga32" gradientUnits="userSpaceOnUse" x1="148" y1="0" x2="864.1" y2="0"><stop offset=".000" stop-color="#f8f4ee"/><stop offset=".251" stop-color="#f8f4ee"/><stop offset=".364" stop-color="#f8f3ec"/><stop offset=".411" stop-color="#f8f3ec"/><stop offset=".415" stop-color="#f9f2e9"/><stop offset=".469" stop-color="#f9f2e9"/><stop offset=".473" stop-color="#f9f1e6"/><stop offset=".561" stop-color="#f9f0e4"/><stop offset=".566" stop-color="#f9efe1"/><stop offset=".628" stop-color="#faeedf"/><stop offset=".633" stop-color="#faeedc"/><stop offset=".658" stop-color="#faeedc"/><stop offset=".666" stop-color="#faedda"/><stop offset=".670" stop-color="#faecd7"/><stop offset=".691" stop-color="#fbebd5"/><stop offset=".695" stop-color="#fbead2"/><stop offset=".721" stop-color="#fbead2"/><stop offset=".725" stop-color="#fbebd5"/><stop offset=".746" stop-color="#faecd7"/><stop offset=".750" stop-color="#faedda"/><stop offset=".771" stop-color="#faeedc"/><stop offset=".775" stop-color="#faeedf"/><stop offset=".817" stop-color="#f9f2e9"/><stop offset=".846" stop-color="#f7f7f6"/><stop offset="1.000" stop-color="#f6f6f7"/></linearGradient><linearGradient id="ga33" gradientUnits="userSpaceOnUse" x1="148" y1="0" x2="864.1" y2="0"><stop offset=".000" stop-color="#f8f4ee"/><stop offset=".251" stop-color="#f8f4ee"/><stop offset=".293" stop-color="#f8f3ec"/><stop offset=".385" stop-color="#f8f3ec"/><stop offset=".390" stop-color="#f9f2e9"/><stop offset=".448" stop-color="#f9f2e9"/><stop offset=".452" stop-color="#f9f1e6"/><stop offset=".549" stop-color="#f9f0e4"/><stop offset=".553" stop-color="#f9efe1"/><stop offset=".620" stop-color="#faeedf"/><stop offset=".624" stop-color="#faeedc"/><stop offset=".649" stop-color="#faeedc"/><stop offset=".679" stop-color="#fbebd5"/><stop offset=".700" stop-color="#fbead2"/><stop offset=".716" stop-color="#fbead2"/><stop offset=".721" stop-color="#fbebd5"/><stop offset=".737" stop-color="#faecd7"/><stop offset=".742" stop-color="#faedda"/><stop offset=".762" stop-color="#faeedc"/><stop offset=".767" stop-color="#faeedf"/><stop offset=".783" stop-color="#f9efe1"/><stop offset=".788" stop-color="#f9f0e4"/><stop offset=".804" stop-color="#f9f1e6"/><stop offset=".809" stop-color="#f9f2e9"/><stop offset=".817" stop-color="#f9f2e9"/><stop offset=".821" stop-color="#f8f3ec"/><stop offset=".850" stop-color="#f7f6f3"/><stop offset=".867" stop-color="#f7f6f3"/><stop offset=".871" stop-color="#f7f7f6"/><stop offset="1.000" stop-color="#f6f6f7"/></linearGradient><linearGradient id="ga34" gradientUnits="userSpaceOnUse" x1="148" y1="0" x2="864.1" y2="0"><stop offset=".000" stop-color="#f8f4ee"/><stop offset=".239" stop-color="#f8f4ee"/><stop offset=".247" stop-color="#f8f3ec"/><stop offset=".360" stop-color="#f8f3ec"/><stop offset=".364" stop-color="#f9f2e9"/><stop offset=".423" stop-color="#f9f2e9"/><stop offset=".427" stop-color="#f9f1e6"/><stop offset=".536" stop-color="#f9f0e4"/><stop offset=".540" stop-color="#f9efe1"/><stop offset=".620" stop-color="#faeedf"/><stop offset=".624" stop-color="#faeedc"/><stop offset=".662" stop-color="#faeedc"/><stop offset=".670" stop-color="#faedda"/><stop offset=".683" stop-color="#faedda"/><stop offset=".687" stop-color="#faecd7"/><stop offset=".708" stop-color="#fbebd5"/><stop offset=".716" stop-color="#faecd7"/><stop offset=".737" stop-color="#faedda"/><stop offset=".788" stop-color="#f9f1e6"/><stop offset=".792" stop-color="#f9f2e9"/><stop offset=".809" stop-color="#f9f2e9"/><stop offset=".813" stop-color="#f8f3ec"/><stop offset=".838" stop-color="#f8f4ee"/><stop offset=".842" stop-color="#f8f5f1"/><stop offset=".884" stop-color="#f7f6f3"/><stop offset=".888" stop-color="#f7f7f6"/><stop offset="1.000" stop-color="#f6f6f7"/></linearGradient><linearGradient id="ga35" gradientUnits="userSpaceOnUse" x1="148" y1="0" x2="864.1" y2="0"><stop offset=".000" stop-color="#f8f4ee"/><stop offset=".230" stop-color="#f8f4ee"/><stop offset=".239" stop-color="#f8f3ec"/><stop offset=".318" stop-color="#f8f3ec"/><stop offset=".323" stop-color="#f9f2e9"/><stop offset=".406" stop-color="#f9f2e9"/><stop offset=".411" stop-color="#f9f1e6"/><stop offset=".503" stop-color="#f9f0e4"/><stop offset=".515" stop-color="#f9f0e4"/><stop offset=".519" stop-color="#f9efe1"/><stop offset=".587" stop-color="#f9efe1"/><stop offset=".595" stop-color="#faeedf"/><stop offset=".624" stop-color="#faeedf"/><stop offset=".628" stop-color="#faeedc"/><stop offset=".721" stop-color="#faeedc"/><stop offset=".725" stop-color="#faeedf"/><stop offset=".754" stop-color="#f9efe1"/><stop offset=".758" stop-color="#f9f0e4"/><stop offset=".775" stop-color="#f9f1e6"/><stop offset=".779" stop-color="#f9f2e9"/><stop offset=".800" stop-color="#f8f3ec"/><stop offset=".829" stop-color="#f8f4ee"/><stop offset=".834" stop-color="#f8f5f1"/><stop offset=".880" stop-color="#f7f6f3"/><stop offset=".884" stop-color="#f7f7f6"/><stop offset="1.000" stop-color="#f6f6f7"/></linearGradient><linearGradient id="ga36" gradientUnits="userSpaceOnUse" x1="148" y1="0" x2="864.1" y2="0"><stop offset=".000" stop-color="#f8f4ee"/><stop offset=".218" stop-color="#f8f4ee"/><stop offset=".226" stop-color="#f8f3ec"/><stop offset=".289" stop-color="#f8f3ec"/><stop offset=".293" stop-color="#f9f2e9"/><stop offset=".398" stop-color="#f9f2e9"/><stop offset=".402" stop-color="#f9f1e6"/><stop offset=".494" stop-color="#f9f0e4"/><stop offset=".528" stop-color="#f9f0e4"/><stop offset=".532" stop-color="#f9efe1"/><stop offset=".624" stop-color="#f9efe1"/><stop offset=".633" stop-color="#faeedf"/><stop offset=".716" stop-color="#f9efe1"/><stop offset=".721" stop-color="#f9f0e4"/><stop offset=".762" stop-color="#f9f1e6"/><stop offset=".767" stop-color="#f9f2e9"/><stop offset=".783" stop-color="#f9f2e9"/><stop offset=".788" stop-color="#f8f3ec"/><stop offset=".817" stop-color="#f8f4ee"/><stop offset=".821" stop-color="#f8f5f1"/><stop offset=".846" stop-color="#f7f6f3"/><stop offset=".850" stop-color="#f7f7f6"/><stop offset="1.000" stop-color="#f6f6f7"/></linearGradient><linearGradient id="ga37" gradientUnits="userSpaceOnUse" x1="148" y1="0" x2="864.1" y2="0"><stop offset=".000" stop-color="#f8f4ee"/><stop offset=".184" stop-color="#f8f4ee"/><stop offset=".193" stop-color="#f8f3ec"/><stop offset=".276" stop-color="#f8f3ec"/><stop offset=".281" stop-color="#f9f2e9"/><stop offset=".419" stop-color="#f9f2e9"/><stop offset=".423" stop-color="#f9f1e6"/><stop offset=".674" stop-color="#f9f0e4"/><stop offset=".721" stop-color="#f9f1e6"/><stop offset=".725" stop-color="#f9f2e9"/><stop offset=".754" stop-color="#f9f2e9"/><stop offset=".758" stop-color="#f8f3ec"/><stop offset=".804" stop-color="#f8f4ee"/><stop offset=".809" stop-color="#f8f5f1"/><stop offset=".850" stop-color="#f7f6f3"/><stop offset=".855" stop-color="#f7f7f6"/><stop offset="1.000" stop-color="#f7f7f6"/></linearGradient><linearGradient id="ga38" gradientUnits="userSpaceOnUse" x1="148" y1="0" x2="864.1" y2="0"><stop offset=".000" stop-color="#f8f4ee"/><stop offset=".184" stop-color="#f8f4ee"/><stop offset=".193" stop-color="#f8f3ec"/><stop offset=".276" stop-color="#f8f3ec"/><stop offset=".281" stop-color="#f9f2e9"/><stop offset=".528" stop-color="#f9f2e9"/><stop offset=".532" stop-color="#f9f1e6"/><stop offset=".674" stop-color="#f9f1e6"/><stop offset=".679" stop-color="#f9f2e9"/><stop offset=".725" stop-color="#f9f2e9"/><stop offset=".729" stop-color="#f8f3ec"/><stop offset=".792" stop-color="#f8f4ee"/><stop offset=".796" stop-color="#f8f5f1"/><stop offset=".867" stop-color="#f7f6f3"/><stop offset=".871" stop-color="#f7f7f6"/><stop offset="1.000" stop-color="#f7f7f6"/></linearGradient><linearGradient id="ga39" gradientUnits="userSpaceOnUse" x1="148" y1="0" x2="864.1" y2="0"><stop offset=".000" stop-color="#f8f4ee"/><stop offset=".205" stop-color="#f8f4ee"/><stop offset=".214" stop-color="#f8f3ec"/><stop offset=".364" stop-color="#f8f3ec"/><stop offset=".369" stop-color="#f9f2e9"/><stop offset=".620" stop-color="#f9f2e9"/><stop offset=".691" stop-color="#f9f2e9"/><stop offset=".695" stop-color="#f8f3ec"/><stop offset=".771" stop-color="#f8f4ee"/><stop offset=".775" stop-color="#f8f5f1"/><stop offset=".859" stop-color="#f7f6f3"/><stop offset=".863" stop-color="#f7f7f6"/><stop offset="1.000" stop-color="#f7f7f6"/></linearGradient><linearGradient id="ga40" gradientUnits="userSpaceOnUse" x1="148" y1="0" x2="864.1" y2="0"><stop offset=".000" stop-color="#f8f4ee"/><stop offset=".247" stop-color="#f8f4ee"/><stop offset=".256" stop-color="#f8f3ec"/><stop offset=".507" stop-color="#f8f3ec"/><stop offset=".578" stop-color="#f8f3ec"/><stop offset=".582" stop-color="#f9f2e9"/><stop offset=".654" stop-color="#f9f2e9"/><stop offset=".658" stop-color="#f8f3ec"/><stop offset=".746" stop-color="#f8f4ee"/><stop offset=".750" stop-color="#f8f5f1"/><stop offset=".825" stop-color="#f7f6f3"/><stop offset=".829" stop-color="#f7f7f6"/><stop offset="1.000" stop-color="#f7f7f6"/></linearGradient><linearGradient id="ga41" gradientUnits="userSpaceOnUse" x1="148" y1="0" x2="864.1" y2="0"><stop offset=".000" stop-color="#f8f4ee"/><stop offset=".251" stop-color="#f8f4ee"/><stop offset=".482" stop-color="#f8f3ec"/><stop offset=".649" stop-color="#f8f3ec"/><stop offset=".658" stop-color="#f8f4ee"/><stop offset=".712" stop-color="#f8f4ee"/><stop offset=".716" stop-color="#f8f5f1"/><stop offset=".800" stop-color="#f7f6f3"/><stop offset=".804" stop-color="#f7f7f6"/><stop offset="1.000" stop-color="#f7f7f6"/></linearGradient><linearGradient id="ga42" gradientUnits="userSpaceOnUse" x1="148" y1="0" x2="864.1" y2="0"><stop offset=".000" stop-color="#f8f5f1"/><stop offset=".067" stop-color="#f8f5f1"/><stop offset=".071" stop-color="#f8f4ee"/><stop offset=".323" stop-color="#f8f4ee"/><stop offset=".574" stop-color="#f8f4ee"/><stop offset=".674" stop-color="#f8f4ee"/><stop offset=".679" stop-color="#f8f5f1"/><stop offset=".792" stop-color="#f7f6f3"/><stop offset=".796" stop-color="#f7f7f6"/><stop offset="1.000" stop-color="#f7f7f6"/></linearGradient><linearGradient id="ga43" gradientUnits="userSpaceOnUse" x1="148" y1="0" x2="864.1" y2="0"><stop offset=".000" stop-color="#f8f5f1"/><stop offset=".251" stop-color="#f8f5f1"/><stop offset=".327" stop-color="#f8f5f1"/><stop offset=".331" stop-color="#f8f4ee"/><stop offset=".582" stop-color="#f8f4ee"/><stop offset=".603" stop-color="#f8f4ee"/><stop offset=".607" stop-color="#f8f5f1"/><stop offset=".712" stop-color="#f8f5f1"/><stop offset=".721" stop-color="#f7f6f3"/><stop offset=".762" stop-color="#f7f6f3"/><stop offset=".767" stop-color="#f7f7f6"/><stop offset="1.000" stop-color="#f7f7f6"/></linearGradient><linearGradient id="ga44" gradientUnits="userSpaceOnUse" x1="148" y1="0" x2="864.1" y2="0"><stop offset=".000" stop-color="#f8f5f1"/><stop offset=".251" stop-color="#f8f5f1"/><stop offset=".503" stop-color="#f8f5f1"/><stop offset=".712" stop-color="#f8f5f1"/><stop offset=".721" stop-color="#f7f6f3"/><stop offset=".737" stop-color="#f7f6f3"/><stop offset=".742" stop-color="#f7f7f6"/><stop offset=".993" stop-color="#f7f7f6"/><stop offset="1.000" stop-color="#f7f7f6"/></linearGradient><pattern id="hla" patternUnits="userSpaceOnUse" x="150.4" y="0" width="8.4" height="16"><rect x="0" y="0" width="1" height="16" fill="#fff" opacity=".15"/><rect x="2.1" y="0" width="1" height="16" fill="#fff" opacity=".15"/><rect x="4.2" y="0" width="1" height="16" fill="#fff" opacity=".07"/><rect x="6.3" y="0" width="1" height="16" fill="#fff" opacity=".04"/></pattern></defs>
<rect x="148" y="57" width="716.1" height="3" fill="url(#ga0)"/>
<rect x="148" y="60" width="716.1" height="3" fill="url(#ga1)"/>
<rect x="148" y="63" width="716.1" height="3" fill="url(#ga2)"/>
<rect x="148" y="66" width="716.1" height="3" fill="url(#ga3)"/>
<rect x="148" y="69" width="716.1" height="3" fill="url(#ga4)"/>
<rect x="148" y="72" width="716.1" height="3" fill="url(#ga5)"/>
<rect x="148" y="75" width="716.1" height="3" fill="url(#ga6)"/>
<rect x="148" y="78" width="716.1" height="3" fill="url(#ga7)"/>
<rect x="148" y="81" width="716.1" height="3" fill="url(#ga8)"/>
<rect x="148" y="84" width="716.1" height="3" fill="url(#ga9)"/>
<rect x="148" y="87" width="716.1" height="3" fill="url(#ga10)"/>
<rect x="148" y="90" width="716.1" height="3" fill="url(#ga11)"/>
<rect x="148" y="93" width="716.1" height="3" fill="url(#ga12)"/>
<rect x="148" y="96" width="716.1" height="3" fill="url(#ga13)"/>
<rect x="148" y="99" width="716.1" height="3" fill="url(#ga14)"/>
<rect x="148" y="102" width="716.1" height="3" fill="url(#ga15)"/>
<rect x="148" y="105" width="716.1" height="3" fill="url(#ga16)"/>
<rect x="148" y="108" width="716.1" height="3" fill="url(#ga17)"/>
<rect x="148" y="111" width="716.1" height="2" fill="url(#ga18)"/>
<rect x="148" y="113" width="716.1" height="4" fill="url(#ga19)"/>
<rect x="148" y="117" width="716.1" height="4" fill="url(#ga20)"/>
<rect x="148" y="121" width="716.1" height="4" fill="url(#ga21)"/>
<rect x="148" y="125" width="716.1" height="4" fill="url(#ga22)"/>
<rect x="148" y="129" width="716.1" height="4" fill="url(#ga23)"/>
<rect x="148" y="133" width="716.1" height="4" fill="url(#ga24)"/>
<rect x="148" y="137" width="716.1" height="4" fill="url(#ga25)"/>
<rect x="148" y="141" width="716.1" height="4" fill="url(#ga26)"/>
<rect x="148" y="145" width="716.1" height="4" fill="url(#ga27)"/>
<rect x="148" y="149" width="716.1" height="11" fill="url(#ga28)"/>
<rect x="148" y="160" width="716.1" height="12" fill="url(#ga29)"/>
<rect x="148" y="172" width="716.1" height="15" fill="url(#ga30)"/>
<rect x="148" y="187" width="716.1" height="17" fill="url(#ga31)"/>
<rect x="148" y="204" width="716.1" height="17" fill="url(#ga32)"/>
<rect x="148" y="221" width="716.1" height="20" fill="url(#ga33)"/>
<rect x="148" y="241" width="716.1" height="23" fill="url(#ga34)"/>
<rect x="148" y="264" width="716.1" height="23" fill="url(#ga35)"/>
<rect x="148" y="287" width="716.1" height="25" fill="url(#ga36)"/>
<rect x="148" y="312" width="716.1" height="28" fill="url(#ga37)"/>
<rect x="148" y="340" width="716.1" height="27" fill="url(#ga38)"/>
<rect x="148" y="367" width="716.1" height="28" fill="url(#ga39)"/>
<rect x="148" y="395" width="716.1" height="29" fill="url(#ga40)"/>
<rect x="148" y="424" width="716.1" height="28" fill="url(#ga41)"/>
<rect x="148" y="452" width="716.1" height="30" fill="url(#ga42)"/>
<rect x="148" y="482" width="716.1" height="30" fill="url(#ga43)"/>
<rect x="148" y="512" width="716.1" height="15" fill="url(#ga44)"/>
<rect x="148" y="57" width="716.1" height="469.3" fill="url(#hla)"/>
<path d="M148 113 h716.1 M148 149 h716.1 M148 160 h716.1 M148 172 h716.1 M148 187 h716.1 M148 204 h716.1 M148 221 h716.1 M148 241 h716.1 M148 264 h716.1 M148 287 h716.1 M148 312 h716.1 M148 340 h716.1 M148 367 h716.1 M148 395 h716.1 M148 424 h716.1 M148 452 h716.1 M148 482 h716.1 M148 512 h716.1" stroke="#fff" stroke-opacity=".1" stroke-width="1" fill="none"/>
<rect x="755.1" y="230" width="110" height="60" fill="#fddcb0"/>
<path d="M757.8 58.8 758.6 65 757.8 74.1 756.6 65 757 58.8" fill="none" stroke="#000" stroke-width="4.5" stroke-linejoin="round" stroke-linecap="butt"/>
<path d="M748.2 180.2 747 196.5 746.1 209 745.7 224" fill="none" stroke="#000" stroke-width="5" stroke-linejoin="round" stroke-linecap="butt"/>
<path d="M752.6 179 756.3 190.2 757.6 202.8 757.8 224" fill="none" stroke="#000" stroke-width="4" stroke-linejoin="round" stroke-linecap="butt"/>
<path d="M803.9 59 825.2 59.5 850.2 60 861.3 61.9 862 77.6 862 102.6 862 111.4 848.4 111.4" fill="none" stroke="#000" stroke-width="3.6" stroke-linejoin="round" stroke-linecap="butt"/>
<path d="M745.7 207.5 745.1 218.8 746.3 231.3 750.1 236.3" fill="none" stroke="#000" stroke-width="5" stroke-linejoin="round" stroke-linecap="butt"/>
<path d="M752.6 202.5 753.2 215 752.6 225 755.1 231.3 787.6 231.1 806.4 229.4 825.2 231.1 834 229.4 844 231.3 862.8 231.3" fill="none" stroke="#000" stroke-width="4.5" stroke-linejoin="round" stroke-linecap="butt"/>
<path d="M755.1 236.3 862.8 235.7" fill="none" stroke="#000" stroke-width="2.2" stroke-linejoin="round" stroke-linecap="butt"/>
<path d="M756.3 240.7 785.1 240.7" fill="none" stroke="#000" stroke-width="2.2" stroke-linejoin="round" stroke-linecap="butt"/>
<path d="M756.3 244.1 785.1 244.1" fill="none" stroke="#000" stroke-width="2.2" stroke-linejoin="round" stroke-linecap="butt"/>
<path d="M757 247.6 775.1 247.6" fill="none" stroke="#000" stroke-width="2.2" stroke-linejoin="round" stroke-linecap="butt"/>
<path d="M757.6 250.7 792.7 250.7" fill="none" stroke="#000" stroke-width="4.5" stroke-linejoin="round" stroke-linecap="butt"/>
<path d="M857.8 243.8 862.8 243.8" fill="none" stroke="#000" stroke-width="3.5" stroke-linejoin="round" stroke-linecap="butt"/>
<path d="M857.8 247 862.8 247" fill="none" stroke="#000" stroke-width="3.5" stroke-linejoin="round" stroke-linecap="butt"/>
<path d="M755.1 231.3 751.3 237.6 749.5 250.1 750.1 262.6 752 275.1 755.1 285.1 758.8 290.1" fill="none" stroke="#000" stroke-width="6" stroke-linejoin="round" stroke-linecap="butt"/>
<path d="M757.6 237.6 755.1 250.1 755.7 262.6 757.6 277.6" fill="none" stroke="#000" stroke-width="5" stroke-linejoin="round" stroke-linecap="butt"/>
<path d="M758.8 278.3 787.6 277 806.4 278.6 825.2 277.4 844 277 862.8 277.6" fill="none" stroke="#000" stroke-width="4.5" stroke-linejoin="round" stroke-linecap="butt"/>
<path d="M760.1 282.9 787.6 282 812.7 282.6 837.7 281.6 862.8 282" fill="none" stroke="#000" stroke-width="3.0" stroke-linejoin="round" stroke-linecap="butt"/>
<path d="M760.1 287.6 787.6 287 812.7 287.9 837.7 287.1 862.8 287.6" fill="none" stroke="#000" stroke-width="3.0" stroke-linejoin="round" stroke-linecap="butt"/>
<path d="M816.4 292.9 837.7 292.4 862.8 292.7" fill="none" stroke="#000" stroke-width="3.5" stroke-linejoin="round" stroke-linecap="butt"/>
<path d="M817.7 296.4 837.7 296.2 862.8 296.4" fill="none" stroke="#000" stroke-width="3.5" stroke-linejoin="round" stroke-linecap="butt"/>
<path d="M755.1 371.9 753.2 397.6 755.1 438.9 758.8 440.1 761.3 468.9 764.5 468.9 764.5 410.1 765.7 468.9 771.4 468.9 773.2 437.6 770.1 427.6 767.6 440.1 762.6 410.1 760.1 378.8 756.3 376.3 757.6 398.8 758.8 440.1" fill="none" stroke="#000" stroke-width="4.5" stroke-linejoin="round" stroke-linecap="butt"/>
<path d="M762.6 435.1 765.1 467.7 770.1 467.7 772.6 440.1 768.9 430.1 765.1 447.6 767.6 466.4" fill="none" stroke="#000" stroke-width="6" stroke-linejoin="round" stroke-linecap="butt"/>
<path d="M780.1 373.8 778.3 385 781.4 410.1 785.1 397.6 786.4 378.8 783.9 372.5" fill="none" stroke="#000" stroke-width="5" stroke-linejoin="round" stroke-linecap="butt"/>
<path d="M807.7 360 808.3 385 811.4 403.8 813.3 391.3 812.7 372.5 811.4 360" fill="none" stroke="#000" stroke-width="5" stroke-linejoin="round" stroke-linecap="butt"/>
<path d="M861.5 405.1 861.5 415.1" fill="none" stroke="#000" stroke-width="3.5" stroke-linejoin="round" stroke-linecap="butt"/>
<path d="M816.4 295 837.7 294.8 862.8 295" fill="none" stroke="#000" stroke-width="3.5" stroke-linejoin="round" stroke-linecap="butt"/>
<path d="M820.2 298.8 826.5 300 827.7 308.8 831.5 315.1 835.2 308.8 835.8 300 852.7 300 855.3 311.3 859 328.8 860.9 317.6 862.8 300" fill="none" stroke="#000" stroke-width="3.5" stroke-linejoin="round" stroke-linecap="butt"/>
<path d="M792 347.6 795.2 350.1 798.9 367.6 803.9 342.6 807.7 343.9 811.4 355.1 812.7 345.1 814.6 360" fill="none" stroke="#000" stroke-width="4" stroke-linejoin="round" stroke-linecap="butt"/>
<path d="M791.4 348.2 793.9 367.6 796.4 370.1" fill="none" stroke="#000" stroke-width="4" stroke-linejoin="round" stroke-linecap="butt"/>
<path d="M148.2 65.6 337.9 65.6 341.9 67.6 342.4 71.3 340.9 75.1 337.9 76.1 269.1 76.1 M196.5 76.1 148.2 76.1 M510.2 70.5 502.7 75 495.2 77 488.9 77.5 483.9 83.8 478.9 91.3 472.7 96.3 466.4 101.3 463.9 108.8 463.9 117.6 467.7 120.6 475.2 119.6 479.7 122.6 482.2 132.6 483.9 145.1 483.2 160.2 480.2 170.2 473.9 182.7 467.7 195.2 460.2 206.5 450.1 215.2 440.1 226.5 432.6 235.2 425.1 245.3 416.3 255.3 415.1 256.3 410.1 262.5 405.6 272.5 401.3 275 397.6 285 393.8 290.1 388.8 288.8 385.1 287.5 383.8 281.3 380.1 280 375 285 371.3 291.3 365 295.1 360 301.3 356.3 311.3 352.5 320.1 351.3 330.1 352 342.6 353 352.6 355.5 362.6 360 371.4 364.5 360.1 368.8 366.4 373.8 365.6 377.5 371.4 380.1 365.1 385.1 363.9 390.1 353.9 395.1 361.4 398.8 343.9 403.8 360.1 408.8 346.4 413.8 363.9 418.1 362.6 420.6 375.2 425.1 386.4 430.1 395.2 435.1 402.2 440.1 401.4 443.9 400.2 447.6 403.9 451.4 393.9 455.1 391.4 460.2 393.9 465.2 401.4 467.7 393.9 472.7 387.2 477.7 382.7 482.7 372.7 487.7 365.1 493.9 366.4 500.2 368.9 504 367.1 510.2 371.4 515.2 373.9 520.2 378.9 526.5 380.7 532.7 382.7 539 378.9 544 386.4 550.3 393.9 555.3 397.7 559 405.2 564 402.7 569 404.7 574 406.4 579 414 584.1 412.2 590.3 408.9 592.8 403.9 597.8 407.2 605.3 409.7 610.3 403.9 613.3 397.7 617.8 410.2 621.6 400.2 626.6 388.9 631.6 387.7 636.6 386.4 640.4 380.2 645.4 372.7 650.4 366.4 656.6 365.6 661.7 358.9 666.7 350.1 671.7 341.4 676.7 332.6 682.9 322.6 687.9 328.8 692.9 318.8 700.5 315.6 704.2 306.3 708 300.1 709.2 287.5 710 275 714.2 272.5 715 257.5 720.5 253.8 726.7 252.5 733 247.8 735 237.7 735.5 222.7 736 202.7 735.5 182.7 735 165.2 734.2 147.6 731.7 133.9 726.7 125.1 720.5 120.1 715.5 111.3 710.5 105.6 705.5 107.6 700.5 113.8 692.9 111.3 685.4 107.6 680.4 100.1 675.4 98.8 671.7 91.3 665.4 92.6 660.4 90.1 654.1 87.6 649.1 85.1 642.9 90.1 640.4 82.6 637.9 72.5 635.4 72.5 633.4 85.1 631.6 100.1 627.9 108.8 622.9 107.6 617.8 112.6 615.3 122.6 611.6 132.6 609.1 120.1 605.3 107.6 601.6 103.8 596.6 97.6 591.6 92.6 587.8 93.1 582.8 92.1 577.8 96.3 572.8 101.3 566.5 103.8 560.3 110.1 M656.6 146.4 651.6 150.1 650.4 157.6 649.1 145.1 647.9 125.1 644.1 128.9 641.6 115.1 639.1 102.6 636.6 100.1 634.9 110.1 633.4 125.1 630.4 137.6 625.4 147.6 622.4 157.6 620.4 172.7 619.1 190.2 616.6 205.2 612.8 215.2 607.8 219 604.1 210.2 600.3 220.2 599.1 235.2 598.3 252.8 599.8 267.8 601.6 280.3 605.3 290.3 609.1 284.1 615.3 282.3 621.6 284.1 627.9 290.3 630.4 280.3 631.6 257.8 633.4 275.3 635.4 289.1 639.1 280.3 642.9 272.8 650.4 271.5 656.6 275.3 665.4 275.3 672.9 270.3 679.2 262.8 684.2 255.3 689.2 245.3 691.7 232.7 695.4 220.2 700.5 212.7 702.5 200.2 703 183.9 M641.6 193.3 641.2 200.4 640.5 206.8 639.6 211.9 638.6 215.1 637.6 216.2 636.6 215 635.8 211.7 635.3 206.6 635 200.2 635.1 193.1 635.5 186 636.2 179.6 637.1 174.5 638.1 171.3 639.2 170.2 640.1 171.3 640.9 174.6 641.5 179.8 641.7 186.2Z M613.6 81.3 613.5 88.3 613.1 94.5 612.5 99.5 611.7 102.7 610.8 103.8 610 102.7 609.2 99.5 608.6 94.5 608.2 88.3 608.1 81.3 608.2 74.3 608.6 68.1 609.2 63.1 610 59.9 610.8 58.8 611.7 59.9 612.5 63.1 613.1 68.1 613.5 74.3Z M617.3 58 618.3 65 621.6 71.3 626.6 72 630.4 67.5 631.6 58 M765.1 58.8 760.1 59 753.8 60 748.8 62.5 743.8 66.9 741.9 71.3 742.6 81.3 743.8 90.1 745.1 98.8 748.2 105.1 749.5 113.9 750.7 125.1 751.1 137.7 751.3 147.7 752 158.9 752.6 170.2 753.2 180.2 753.8 190.2 755.1 202.8 755.7 215.3 756.1 224 M752.6 290.6 750.1 298.8 750.7 311.3 752.6 323.8 755.7 326.3 758.2 317.6 760.1 305 762.6 296.3 758.8 292.5 752.6 290.6 M762.6 296.3 767.6 300 770.1 330.1 772 367.6 773.9 388.9 776.4 380.2 777.6 342.6 778.9 311.3 781.4 301.3 787.6 298.8 790.1 301.3 790.8 330.1 792 360.1 793.9 388.9 796.4 417.7 798.9 463 M758.8 291.3 765.1 297.5 771.4 293.8 775.1 298.8 780.1 305 785.1 300 M755.7 326.3 757.6 336.3 753.8 338.8 752.6 350.1 751.3 360 749.5 381.9 742.6 381.9 739.4 378.8 737.6 409 737.6 439 733.8 405.2 731.9 410.2 731.3 437.1 728.2 437.8 726.9 468.9 M681.7 525.3 683.4 512.8 685.4 501.6 689.2 496.6 691.7 485.3 695.4 482.8 697.9 467.8 700.5 463.3 703.8 466.4 708.1 497.7 711.9 465.2 715.7 468.9 719.4 457 722.5 468.9 726.9 468.9 M780.1 373.8 782.6 410.1 787.6 467.7 793.3 468.9 797 410.1 795.2 372.5 793.3 360 M803.9 360 802.7 410.1 801.4 447.6 799.5 467.7 800.2 497.7 810.8 497.7 810.8 468.9 815.2 440.1 818.9 427.6 820.2 410.1 818.3 372.5 817.7 360 M829 518.4 826.5 497.7 825.2 497.7 824 468.9 825.2 452.7 830.2 460.2 832.7 440.1 834.6 410.1 836.5 396.3 838.3 410.1 840.2 446.4 M820.2 298.8 818.3 330.1 817.1 367.6 816.4 360" fill="none" stroke="#000" stroke-width="3.9" stroke-linejoin="round" stroke-linecap="butt"/>
<path d="M792.1 123.2 791.3 127.7 790.1 131.8 788.6 135.2 787 137.8 785.3 139.4 783.7 139.7 782.2 138.9 781.1 137 780.2 134.1 779.8 130.3 779.8 126.1 780.2 121.5 781 117.1 782.2 113 783.7 109.5 785.3 106.9 787 105.4 788.6 105 790 105.8 791.2 107.8 792.1 110.7 792.5 114.4 792.5 118.7Z" fill="none" stroke="#000" stroke-width="3.9" stroke-linejoin="round" stroke-linecap="butt" stroke-dasharray="13 5.6"/>
<text transform="translate(232.3,74.8) rotate(0)" text-anchor="middle" font-size="29.17" y="10.6">0.0</text>
<text transform="translate(166.5,51.8) rotate(0)" text-anchor="middle" font-size="29.17" y="10.6">0.0</text>
<text transform="translate(537.7,82.6) rotate(-45)" text-anchor="middle" font-size="29.17" y="10.6">0.4</text>
<text transform="translate(682.4,146.4) rotate(-45)" text-anchor="middle" font-size="29.17" y="10.6">0.8</text>
<text transform="translate(748.6,162.1) rotate(83)" text-anchor="middle" font-size="29.17" y="10.6">0.0</text>
<text transform="translate(825.8,91.6) rotate(-74)" text-anchor="middle" font-size="29.17" y="10.6">0.0</text>
<text transform="translate(823.3,245.7) rotate(0)" text-anchor="middle" font-size="29.17" y="10.6">0.8</text>
<text transform="translate(827.7,249.5) rotate(0)" text-anchor="middle" font-size="29.17" y="10.6">1.6</text>
<text transform="translate(795.8,295.2) rotate(0)" text-anchor="middle" font-size="29.17" y="10.6">0.4</text>
<text transform="translate(840.9,493.3) rotate(83)" text-anchor="middle" font-size="29.17" y="10.6">0.0</text>
</g>
<rect x="148" y="57" width="716.1" height="469.3" fill="none" stroke="#000" stroke-width="3.4"/>
<line x1="133.4" y1="57" x2="148" y2="57" stroke="#000" stroke-width="3.4"/>
<text x="118.8" y="68.1" text-anchor="end" font-size="29.17">0</text>
<line x1="133.4" y1="174.3" x2="148" y2="174.3" stroke="#000" stroke-width="3.4"/>
<text x="118.8" y="185.4" text-anchor="end" font-size="29.17">1000</text>
<line x1="133.4" y1="291.6" x2="148" y2="291.6" stroke="#000" stroke-width="3.4"/>
<text x="118.8" y="302.8" text-anchor="end" font-size="29.17">2000</text>
<line x1="133.4" y1="409" x2="148" y2="409" stroke="#000" stroke-width="3.4"/>
<text x="118.8" y="420.1" text-anchor="end" font-size="29.17">3000</text>
<line x1="133.4" y1="526.3" x2="148" y2="526.3" stroke="#000" stroke-width="3.4"/>
<text x="118.8" y="537.4" text-anchor="end" font-size="29.17">4000</text>
<line x1="273.4" y1="526.3" x2="273.4" y2="540.9" stroke="#000" stroke-width="3.4"/>
<text x="273.4" y="577.6" text-anchor="middle" font-size="29.17">−50</text>
<line x1="483.6" y1="526.3" x2="483.6" y2="540.9" stroke="#000" stroke-width="3.4"/>
<text x="483.6" y="577.6" text-anchor="middle" font-size="29.17">0</text>
<line x1="693.8" y1="526.3" x2="693.8" y2="540.9" stroke="#000" stroke-width="3.4"/>
<text x="693.8" y="577.6" text-anchor="middle" font-size="29.17">50</text>
<text x="147.8" y="32.9" font-size="41.67" font-weight="bold">a</text>
<text transform="translate(21.6,291.6) rotate(-90)" text-anchor="middle" font-size="29.17">Depth (m)</text>
</g>
<g id="panel-b">
<clipPath id="clip-b"><rect x="1079" y="57" width="716.1" height="469.3"/></clipPath>
<g clip-path="url(#clip-b)">
<defs><linearGradient id="gb0" gradientUnits="userSpaceOnUse" x1="1079" y1="0" x2="1795.1" y2="0"><stop offset=".000" stop-color="#f7f6f3"/><stop offset=".251" stop-color="#f7f6f3"/><stop offset=".469" stop-color="#f8f5f1"/><stop offset=".603" stop-color="#f7f6f3"/><stop offset=".612" stop-color="#f8f5f1"/><stop offset=".662" stop-color="#f7f6f3"/><stop offset=".683" stop-color="#f8f5f1"/><stop offset=".934" stop-color="#f7f6f3"/><stop offset="1.000" stop-color="#f7f6f3"/></linearGradient><linearGradient id="gb1" gradientUnits="userSpaceOnUse" x1="1079" y1="0" x2="1795.1" y2="0"><stop offset=".000" stop-color="#f8f5f1"/><stop offset=".251" stop-color="#f8f5f1"/><stop offset=".356" stop-color="#f8f5f1"/><stop offset=".360" stop-color="#f8f4ee"/><stop offset=".427" stop-color="#f8f4ee"/><stop offset=".436" stop-color="#f8f3ec"/><stop offset=".511" stop-color="#f8f4ee"/><stop offset=".515" stop-color="#f8f5f1"/><stop offset=".683" stop-color="#f8f5f1"/><stop offset=".687" stop-color="#f8f4ee"/><stop offset=".729" stop-color="#f8f3ec"/><stop offset=".771" stop-color="#f8f4ee"/><stop offset=".775" stop-color="#f8f5f1"/><stop offset=".901" stop-color="#f7f6f3"/><stop offset="1.000" stop-color="#f7f6f3"/></linearGradient><linearGradient id="gb2" gradientUnits="userSpaceOnUse" x1="1079" y1="0" x2="1795.1" y2="0"><stop offset=".000" stop-color="#f8f5f1"/><stop offset=".251" stop-color="#f8f5f1"/><stop offset=".306" stop-color="#f8f5f1"/><stop offset=".310" stop-color="#f8f4ee"/><stop offset=".411" stop-color="#f8f3ec"/><stop offset=".415" stop-color="#f9f2e9"/><stop offset=".440" stop-color="#f9f2e9"/><stop offset=".444" stop-color="#f9f1e6"/><stop offset=".457" stop-color="#f9f1e6"/><stop offset=".461" stop-color="#f9f2e9"/><stop offset=".473" stop-color="#f9f2e9"/><stop offset=".478" stop-color="#f8f3ec"/><stop offset=".582" stop-color="#f8f4ee"/><stop offset=".683" stop-color="#f8f4ee"/><stop offset=".716" stop-color="#f9f1e6"/><stop offset=".737" stop-color="#f9f1e6"/><stop offset=".742" stop-color="#f9f2e9"/><stop offset=".754" stop-color="#f9f2e9"/><stop offset=".758" stop-color="#f8f3ec"/><stop offset=".796" stop-color="#f8f4ee"/><stop offset=".800" stop-color="#f8f5f1"/><stop offset=".905" stop-color="#f7f6f3"/><stop offset="1.000" stop-color="#f7f6f3"/></linearGradient><linearGradient id="gb3" gradientUnits="userSpaceOnUse" x1="1079" y1="0" x2="1795.1" y2="0"><stop offset=".000" stop-color="#f8f5f1"/><stop offset=".230" stop-color="#f8f5f1"/><stop offset=".235" stop-color="#f8f4ee"/><stop offset=".314" stop-color="#f8f4ee"/><stop offset=".323" stop-color="#f8f3ec"/><stop offset=".352" stop-color="#f8f3ec"/><stop offset=".356" stop-color="#f9f2e9"/><stop offset=".402" stop-color="#f9f2e9"/><stop offset=".406" stop-color="#f9f1e6"/><stop offset=".461" stop-color="#f9f0e4"/><stop offset=".482" stop-color="#f9f2e9"/><stop offset=".519" stop-color="#f9f2e9"/><stop offset=".524" stop-color="#f8f3ec"/><stop offset=".683" stop-color="#f8f3ec"/><stop offset=".687" stop-color="#f9f2e9"/><stop offset=".695" stop-color="#f9f2e9"/><stop offset=".700" stop-color="#f9f1e6"/><stop offset=".721" stop-color="#f9f0e4"/><stop offset=".746" stop-color="#f9f0e4"/><stop offset=".779" stop-color="#f8f3ec"/><stop offset=".821" stop-color="#f8f4ee"/><stop offset=".825" stop-color="#f8f5f1"/><stop offset=".888" stop-color="#f7f6f3"/><stop offset="1.000" stop-color="#f7f6f3"/></linearGradient><linearGradient id="gb4" gradientUnits="userSpaceOnUse" x1="1079" y1="0" x2="1795.1" y2="0"><stop offset=".000" stop-color="#f8f4ee"/><stop offset=".251" stop-color="#f8f4ee"/><stop offset=".323" stop-color="#f8f3ec"/><stop offset=".327" stop-color="#f9f2e9"/><stop offset=".352" stop-color="#f9f2e9"/><stop offset=".356" stop-color="#f9f1e6"/><stop offset=".436" stop-color="#f9f0e4"/><stop offset=".440" stop-color="#f9efe1"/><stop offset=".461" stop-color="#f9efe1"/><stop offset=".465" stop-color="#f9f0e4"/><stop offset=".507" stop-color="#f9f1e6"/><stop offset=".524" stop-color="#f9f1e6"/><stop offset=".528" stop-color="#f9f2e9"/><stop offset=".557" stop-color="#f9f2e9"/><stop offset=".561" stop-color="#f8f3ec"/><stop offset=".587" stop-color="#f8f3ec"/><stop offset=".591" stop-color="#f9f2e9"/><stop offset=".641" stop-color="#f9f2e9"/><stop offset=".645" stop-color="#f8f3ec"/><stop offset=".666" stop-color="#f9f2e9"/><stop offset=".687" stop-color="#f9f2e9"/><stop offset=".691" stop-color="#f9f1e6"/><stop offset=".712" stop-color="#f9efe1"/><stop offset=".750" stop-color="#f9efe1"/><stop offset=".754" stop-color="#f9f0e4"/><stop offset=".771" stop-color="#f9f1e6"/><stop offset=".775" stop-color="#f9f2e9"/><stop offset=".788" stop-color="#f9f2e9"/><stop offset=".792" stop-color="#f8f3ec"/><stop offset=".834" stop-color="#f8f4ee"/><stop offset=".838" stop-color="#f8f5f1"/><stop offset=".867" stop-color="#f7f6f3"/><stop offset="1.000" stop-color="#f7f6f3"/></linearGradient><linearGradient id="gb5" gradientUnits="userSpaceOnUse" x1="1079" y1="0" x2="1795.1" y2="0"><stop offset=".000" stop-color="#f8f4ee"/><stop offset=".235" stop-color="#f8f4ee"/><stop offset=".243" stop-color="#f8f3ec"/><stop offset=".302" stop-color="#f8f3ec"/><stop offset=".306" stop-color="#f9f2e9"/><stop offset=".327" stop-color="#f9f2e9"/><stop offset=".331" stop-color="#f9f1e6"/><stop offset=".402" stop-color="#f9f0e4"/><stop offset=".415" stop-color="#f9efe1"/><stop offset=".478" stop-color="#f9efe1"/><stop offset=".482" stop-color="#f9f0e4"/><stop offset=".524" stop-color="#f9f0e4"/><stop offset=".532" stop-color="#f9f1e6"/><stop offset=".549" stop-color="#f9f1e6"/><stop offset=".553" stop-color="#f9f2e9"/><stop offset=".595" stop-color="#f9f2e9"/><stop offset=".599" stop-color="#f9f1e6"/><stop offset=".633" stop-color="#f9f1e6"/><stop offset=".637" stop-color="#f9f2e9"/><stop offset=".662" stop-color="#f9f2e9"/><stop offset=".666" stop-color="#f9f1e6"/><stop offset=".691" stop-color="#f9f1e6"/><stop offset=".712" stop-color="#faeedf"/><stop offset=".750" stop-color="#faeedf"/><stop offset=".792" stop-color="#f9f2e9"/><stop offset=".813" stop-color="#f8f3ec"/><stop offset=".838" stop-color="#f8f4ee"/><stop offset=".842" stop-color="#f8f5f1"/><stop offset=".871" stop-color="#f7f6f3"/><stop offset="1.000" stop-color="#f7f6f3"/></linearGradient><linearGradient id="gb6" gradientUnits="userSpaceOnUse" x1="1079" y1="0" x2="1795.1" y2="0"><stop offset=".000" stop-color="#f8f3ec"/><stop offset=".251" stop-color="#f8f3ec"/><stop offset=".285" stop-color="#f8f3ec"/><stop offset=".289" stop-color="#f9f2e9"/><stop offset=".310" stop-color="#f9f2e9"/><stop offset=".314" stop-color="#f9f1e6"/><stop offset=".364" stop-color="#f9f0e4"/><stop offset=".369" stop-color="#f9efe1"/><stop offset=".469" stop-color="#faeedf"/><stop offset=".478" stop-color="#f9efe1"/><stop offset=".519" stop-color="#f9efe1"/><stop offset=".524" stop-color="#f9f0e4"/><stop offset=".587" stop-color="#f9f1e6"/><stop offset=".628" stop-color="#f9f0e4"/><stop offset=".637" stop-color="#f9f1e6"/><stop offset=".691" stop-color="#f9f0e4"/><stop offset=".695" stop-color="#f9efe1"/><stop offset=".716" stop-color="#faeedc"/><stop offset=".750" stop-color="#faeedc"/><stop offset=".754" stop-color="#faeedf"/><stop offset=".771" stop-color="#f9efe1"/><stop offset=".775" stop-color="#f9f0e4"/><stop offset=".792" stop-color="#f9f1e6"/><stop offset=".796" stop-color="#f9f2e9"/><stop offset=".813" stop-color="#f9f2e9"/><stop offset=".817" stop-color="#f8f3ec"/><stop offset=".842" stop-color="#f8f4ee"/><stop offset=".846" stop-color="#f8f5f1"/><stop offset=".876" stop-color="#f7f6f3"/><stop offset="1.000" stop-color="#f7f6f3"/></linearGradient><linearGradient id="gb7" gradientUnits="userSpaceOnUse" x1="1079" y1="0" x2="1795.1" y2="0"><stop offset=".000" stop-color="#f8f3ec"/><stop offset=".239" stop-color="#f8f3ec"/><stop offset=".243" stop-color="#f9f2e9"/><stop offset=".297" stop-color="#f9f2e9"/><stop offset=".302" stop-color="#f9f1e6"/><stop offset=".348" stop-color="#f9f0e4"/><stop offset=".352" stop-color="#f9efe1"/><stop offset=".486" stop-color="#faeedf"/><stop offset=".540" stop-color="#f9efe1"/><stop offset=".545" stop-color="#f9f0e4"/><stop offset=".578" stop-color="#f9f1e6"/><stop offset=".587" stop-color="#f9f0e4"/><stop offset=".607" stop-color="#f9f0e4"/><stop offset=".612" stop-color="#f9efe1"/><stop offset=".633" stop-color="#f9f0e4"/><stop offset=".649" stop-color="#f9f0e4"/><stop offset=".654" stop-color="#f9f1e6"/><stop offset=".674" stop-color="#f9efe1"/><stop offset=".687" stop-color="#f9f0e4"/><stop offset=".704" stop-color="#faeedc"/><stop offset=".725" stop-color="#faedda"/><stop offset=".729" stop-color="#faecd7"/><stop offset=".750" stop-color="#faedda"/><stop offset=".771" stop-color="#faeedf"/><stop offset=".779" stop-color="#f9f0e4"/><stop offset=".800" stop-color="#f9f1e6"/><stop offset=".804" stop-color="#f9f2e9"/><stop offset=".821" stop-color="#f9f2e9"/><stop offset=".825" stop-color="#f8f3ec"/><stop offset=".846" stop-color="#f8f4ee"/><stop offset=".850" stop-color="#f8f5f1"/><stop offset=".892" stop-color="#f7f6f3"/><stop offset="1.000" stop-color="#f7f6f3"/></linearGradient><linearGradient id="gb8" gradientUnits="userSpaceOnUse" x1="1079" y1="0" x2="1795.1" y2="0"><stop offset=".000" stop-color="#f9f2e9"/><stop offset=".251" stop-color="#f9f2e9"/><stop offset=".281" stop-color="#f9f2e9"/><stop offset=".285" stop-color="#f9f1e6"/><stop offset=".331" stop-color="#f9f0e4"/><stop offset=".335" stop-color="#f9efe1"/><stop offset=".423" stop-color="#faeedf"/><stop offset=".427" stop-color="#faeedc"/><stop offset=".515" stop-color="#faeedc"/><stop offset=".519" stop-color="#faeedf"/><stop offset=".553" stop-color="#f9efe1"/><stop offset=".557" stop-color="#f9f0e4"/><stop offset=".595" stop-color="#f9f0e4"/><stop offset=".599" stop-color="#f9efe1"/><stop offset=".633" stop-color="#f9efe1"/><stop offset=".637" stop-color="#f9f0e4"/><stop offset=".658" stop-color="#f9f0e4"/><stop offset=".662" stop-color="#f9efe1"/><stop offset=".679" stop-color="#faeedf"/><stop offset=".687" stop-color="#f9efe1"/><stop offset=".695" stop-color="#faeedf"/><stop offset=".712" stop-color="#faecd7"/><stop offset=".742" stop-color="#fbebd5"/><stop offset=".762" stop-color="#faedda"/><stop offset=".771" stop-color="#faeedf"/><stop offset=".800" stop-color="#f9f1e6"/><stop offset=".813" stop-color="#f9f1e6"/><stop offset=".817" stop-color="#f9f2e9"/><stop offset=".829" stop-color="#f9f2e9"/><stop offset=".834" stop-color="#f8f3ec"/><stop offset=".855" stop-color="#f8f4ee"/><stop offset=".859" stop-color="#f8f5f1"/><stop offset=".909" stop-color="#f7f6f3"/><stop offset="1.000" stop-color="#f7f6f3"/></linearGradient><linearGradient id="gb9" gradientUnits="userSpaceOnUse" x1="1079" y1="0" x2="1795.1" y2="0"><stop offset=".000" stop-color="#f9f2e9"/><stop offset=".247" stop-color="#f9f2e9"/><stop offset=".251" stop-color="#f9f1e6"/><stop offset=".297" stop-color="#f9f1e6"/><stop offset=".306" stop-color="#f9f0e4"/><stop offset=".318" stop-color="#f9f0e4"/><stop offset=".323" stop-color="#f9efe1"/><stop offset=".402" stop-color="#faeedf"/><stop offset=".406" stop-color="#faeedc"/><stop offset=".515" stop-color="#faedda"/><stop offset=".524" stop-color="#faeedc"/><stop offset=".545" stop-color="#faeedf"/><stop offset=".561" stop-color="#f9efe1"/><stop offset=".566" stop-color="#f9f0e4"/><stop offset=".578" stop-color="#f9f0e4"/><stop offset=".582" stop-color="#f9efe1"/><stop offset=".624" stop-color="#faeedf"/><stop offset=".633" stop-color="#f9efe1"/><stop offset=".658" stop-color="#f9efe1"/><stop offset=".670" stop-color="#faedda"/><stop offset=".691" stop-color="#faeedc"/><stop offset=".712" stop-color="#fbebd5"/><stop offset=".733" stop-color="#fbead2"/><stop offset=".746" stop-color="#fbead2"/><stop offset=".750" stop-color="#fbebd5"/><stop offset=".762" stop-color="#faecd7"/><stop offset=".779" stop-color="#faeedf"/><stop offset=".788" stop-color="#f9efe1"/><stop offset=".792" stop-color="#f9f0e4"/><stop offset=".825" stop-color="#f9f1e6"/><stop offset=".829" stop-color="#f9f2e9"/><stop offset=".850" stop-color="#f8f3ec"/><stop offset=".871" stop-color="#f8f5f1"/><stop offset=".922" stop-color="#f7f6f3"/><stop offset="1.000" stop-color="#f7f6f3"/></linearGradient><linearGradient id="gb10" gradientUnits="userSpaceOnUse" x1="1079" y1="0" x2="1795.1" y2="0"><stop offset=".000" stop-color="#f9f1e6"/><stop offset=".251" stop-color="#f9f1e6"/><stop offset=".310" stop-color="#f9f0e4"/><stop offset=".314" stop-color="#f9efe1"/><stop offset=".381" stop-color="#faeedf"/><stop offset=".385" stop-color="#faeedc"/><stop offset=".469" stop-color="#faedda"/><stop offset=".473" stop-color="#faecd7"/><stop offset=".511" stop-color="#faecd7"/><stop offset=".515" stop-color="#faedda"/><stop offset=".545" stop-color="#faeedc"/><stop offset=".549" stop-color="#faeedf"/><stop offset=".578" stop-color="#f9efe1"/><stop offset=".607" stop-color="#faeedf"/><stop offset=".620" stop-color="#faeedc"/><stop offset=".633" stop-color="#faeedf"/><stop offset=".654" stop-color="#faeedf"/><stop offset=".666" stop-color="#faecd7"/><stop offset=".674" stop-color="#fbebd5"/><stop offset=".683" stop-color="#faecd7"/><stop offset=".687" stop-color="#faedda"/><stop offset=".691" stop-color="#faecd7"/><stop offset=".708" stop-color="#fbebd5"/><stop offset=".712" stop-color="#fbead2"/><stop offset=".733" stop-color="#fbe9cf"/><stop offset=".754" stop-color="#fbead2"/><stop offset=".771" stop-color="#faedda"/><stop offset=".779" stop-color="#faeedc"/><stop offset=".783" stop-color="#faeedf"/><stop offset=".804" stop-color="#f9f0e4"/><stop offset=".834" stop-color="#f9f1e6"/><stop offset=".846" stop-color="#f8f3ec"/><stop offset=".867" stop-color="#f8f4ee"/><stop offset=".871" stop-color="#f8f5f1"/><stop offset=".943" stop-color="#f7f6f3"/><stop offset="1.000" stop-color="#f7f6f3"/></linearGradient><linearGradient id="gb11" gradientUnits="userSpaceOnUse" x1="1079" y1="0" x2="1795.1" y2="0"><stop offset=".000" stop-color="#f9f1e6"/><stop offset=".251" stop-color="#f9f1e6"/><stop offset=".272" stop-color="#f9f0e4"/><stop offset=".302" stop-color="#f9f0e4"/><stop offset=".306" stop-color="#f9efe1"/><stop offset=".364" stop-color="#faeedf"/><stop offset=".369" stop-color="#faeedc"/><stop offset=".440" stop-color="#faedda"/><stop offset=".444" stop-color="#faecd7"/><stop offset=".511" stop-color="#fbebd5"/><stop offset=".519" stop-color="#faecd7"/><stop offset=".540" stop-color="#faedda"/><stop offset=".561" stop-color="#faeedf"/><stop offset=".595" stop-color="#faeedf"/><stop offset=".599" stop-color="#faeedc"/><stop offset=".620" stop-color="#faeedc"/><stop offset=".624" stop-color="#faedda"/><stop offset=".633" stop-color="#faeedc"/><stop offset=".658" stop-color="#faedda"/><stop offset=".670" stop-color="#fbead2"/><stop offset=".691" stop-color="#fbebd5"/><stop offset=".695" stop-color="#fbead2"/><stop offset=".708" stop-color="#fbead2"/><stop offset=".712" stop-color="#fbe9cf"/><stop offset=".754" stop-color="#fbe9cf"/><stop offset=".767" stop-color="#fbebd5"/><stop offset=".775" stop-color="#faecd7"/><stop offset=".796" stop-color="#f9efe1"/><stop offset=".817" stop-color="#f9f0e4"/><stop offset=".838" stop-color="#f9f1e6"/><stop offset=".842" stop-color="#f9f2e9"/><stop offset=".850" stop-color="#f9f2e9"/><stop offset=".855" stop-color="#f8f3ec"/><stop offset=".871" stop-color="#f8f4ee"/><stop offset=".876" stop-color="#f8f5f1"/><stop offset=".968" stop-color="#f7f6f3"/><stop offset="1.000" stop-color="#f7f6f3"/></linearGradient><linearGradient id="gb12" gradientUnits="userSpaceOnUse" x1="1079" y1="0" x2="1795.1" y2="0"><stop offset=".000" stop-color="#f9f0e4"/><stop offset=".251" stop-color="#f9f0e4"/><stop offset=".285" stop-color="#f9f0e4"/><stop offset=".289" stop-color="#f9efe1"/><stop offset=".348" stop-color="#faeedf"/><stop offset=".352" stop-color="#faeedc"/><stop offset=".419" stop-color="#faedda"/><stop offset=".423" stop-color="#faecd7"/><stop offset=".482" stop-color="#fbebd5"/><stop offset=".486" stop-color="#fbead2"/><stop offset=".511" stop-color="#fbead2"/><stop offset=".515" stop-color="#fbebd5"/><stop offset=".540" stop-color="#faecd7"/><stop offset=".545" stop-color="#faedda"/><stop offset=".574" stop-color="#faeedc"/><stop offset=".620" stop-color="#faedda"/><stop offset=".624" stop-color="#faecd7"/><stop offset=".654" stop-color="#faecd7"/><stop offset=".670" stop-color="#fbe9cf"/><stop offset=".691" stop-color="#fbead2"/><stop offset=".695" stop-color="#fbe9cf"/><stop offset=".746" stop-color="#fce8cd"/><stop offset=".754" stop-color="#fbe9cf"/><stop offset=".762" stop-color="#fbe9cf"/><stop offset=".771" stop-color="#fbebd5"/><stop offset=".779" stop-color="#faecd7"/><stop offset=".796" stop-color="#faeedf"/><stop offset=".813" stop-color="#f9efe1"/><stop offset=".817" stop-color="#f9f0e4"/><stop offset=".842" stop-color="#f9f1e6"/><stop offset=".846" stop-color="#f9f2e9"/><stop offset=".855" stop-color="#f9f2e9"/><stop offset=".859" stop-color="#f8f3ec"/><stop offset=".876" stop-color="#f8f4ee"/><stop offset=".880" stop-color="#f8f5f1"/><stop offset=".934" stop-color="#f8f5f1"/><stop offset=".943" stop-color="#f7f6f3"/><stop offset="1.000" stop-color="#f8f5f1"/></linearGradient><linearGradient id="gb13" gradientUnits="userSpaceOnUse" x1="1079" y1="0" x2="1795.1" y2="0"><stop offset=".000" stop-color="#f9f0e4"/><stop offset=".251" stop-color="#f9f0e4"/><stop offset=".264" stop-color="#f9f0e4"/><stop offset=".268" stop-color="#f9efe1"/><stop offset=".335" stop-color="#faeedf"/><stop offset=".339" stop-color="#faeedc"/><stop offset=".406" stop-color="#faedda"/><stop offset=".411" stop-color="#faecd7"/><stop offset=".465" stop-color="#fbebd5"/><stop offset=".469" stop-color="#fbead2"/><stop offset=".494" stop-color="#fbead2"/><stop offset=".499" stop-color="#fbe9cf"/><stop offset=".511" stop-color="#fbead2"/><stop offset=".524" stop-color="#fbead2"/><stop offset=".528" stop-color="#fbebd5"/><stop offset=".549" stop-color="#faecd7"/><stop offset=".553" stop-color="#faedda"/><stop offset=".570" stop-color="#faedda"/><stop offset=".578" stop-color="#faeedc"/><stop offset=".587" stop-color="#faedda"/><stop offset=".603" stop-color="#faedda"/><stop offset=".607" stop-color="#faecd7"/><stop offset=".649" stop-color="#fbebd5"/><stop offset=".662" stop-color="#fbe9cf"/><stop offset=".746" stop-color="#fce8cd"/><stop offset=".767" stop-color="#fbe9cf"/><stop offset=".792" stop-color="#faedda"/><stop offset=".813" stop-color="#f9efe1"/><stop offset=".834" stop-color="#f9f0e4"/><stop offset=".842" stop-color="#f9f1e6"/><stop offset=".850" stop-color="#f9f1e6"/><stop offset=".867" stop-color="#f8f4ee"/><stop offset=".888" stop-color="#f8f5f1"/><stop offset="1.000" stop-color="#f8f5f1"/></linearGradient><linearGradient id="gb14" gradientUnits="userSpaceOnUse" x1="1079" y1="0" x2="1795.1" y2="0"><stop offset=".000" stop-color="#f9efe1"/><stop offset=".251" stop-color="#f9efe1"/><stop offset=".323" stop-color="#faeedf"/><stop offset=".327" stop-color="#faeedc"/><stop offset=".390" stop-color="#faedda"/><stop offset=".394" stop-color="#faecd7"/><stop offset=".448" stop-color="#fbebd5"/><stop offset=".452" stop-color="#fbead2"/><stop offset=".478" stop-color="#fbead2"/><stop offset=".482" stop-color="#fbe9cf"/><stop offset=".519" stop-color="#fbe9cf"/><stop offset=".524" stop-color="#fbead2"/><stop offset=".536" stop-color="#fbead2"/><stop offset=".540" stop-color="#fbebd5"/><stop offset=".566" stop-color="#faecd7"/><stop offset=".570" stop-color="#faedda"/><stop offset=".591" stop-color="#faedda"/><stop offset=".595" stop-color="#faecd7"/><stop offset=".620" stop-color="#fbebd5"/><stop offset=".624" stop-color="#fbead2"/><stop offset=".649" stop-color="#fbead2"/><stop offset=".654" stop-color="#fbe9cf"/><stop offset=".674" stop-color="#fce8cd"/><stop offset=".687" stop-color="#fce8cd"/><stop offset=".691" stop-color="#fce7ca"/><stop offset=".742" stop-color="#fce7ca"/><stop offset=".746" stop-color="#fce8cd"/><stop offset=".762" stop-color="#fce8cd"/><stop offset=".817" stop-color="#f9efe1"/><stop offset=".838" stop-color="#f9f0e4"/><stop offset=".855" stop-color="#f9f1e6"/><stop offset=".867" stop-color="#f8f4ee"/><stop offset=".888" stop-color="#f8f5f1"/><stop offset="1.000" stop-color="#f8f5f1"/></linearGradient><linearGradient id="gb15" gradientUnits="userSpaceOnUse" x1="1079" y1="0" x2="1795.1" y2="0"><stop offset=".000" stop-color="#f9efe1"/><stop offset=".251" stop-color="#f9efe1"/><stop offset=".302" stop-color="#faeedf"/><stop offset=".323" stop-color="#faeedc"/><stop offset=".377" stop-color="#faedda"/><stop offset=".381" stop-color="#faecd7"/><stop offset=".432" stop-color="#fbebd5"/><stop offset=".436" stop-color="#fbead2"/><stop offset=".461" stop-color="#fbead2"/><stop offset=".465" stop-color="#fbe9cf"/><stop offset=".532" stop-color="#fbe9cf"/><stop offset=".536" stop-color="#fbead2"/><stop offset=".557" stop-color="#fbebd5"/><stop offset=".578" stop-color="#faecd7"/><stop offset=".599" stop-color="#faecd7"/><stop offset=".633" stop-color="#fbe9cf"/><stop offset=".637" stop-color="#fbead2"/><stop offset=".641" stop-color="#fbe9cf"/><stop offset=".658" stop-color="#fce8cd"/><stop offset=".662" stop-color="#fce7ca"/><stop offset=".725" stop-color="#fce6c8"/><stop offset=".746" stop-color="#fce7ca"/><stop offset=".758" stop-color="#fce8cd"/><stop offset=".775" stop-color="#fbe9cf"/><stop offset=".800" stop-color="#faedda"/><stop offset=".821" stop-color="#f9efe1"/><stop offset=".834" stop-color="#f9f0e4"/><stop offset=".850" stop-color="#f9f0e4"/><stop offset=".867" stop-color="#f8f4ee"/><stop offset=".880" stop-color="#f8f4ee"/><stop offset=".884" stop-color="#f8f5f1"/><stop offset="1.000" stop-color="#f8f5f1"/></linearGradient><linearGradient id="gb16" gradientUnits="userSpaceOnUse" x1="1079" y1="0" x2="1795.1" y2="0"><stop offset=".000" stop-color="#faeedf"/><stop offset=".251" stop-color="#faeedf"/><stop offset=".297" stop-color="#faeedf"/><stop offset=".302" stop-color="#faeedc"/><stop offset=".360" stop-color="#faedda"/><stop offset=".364" stop-color="#faecd7"/><stop offset=".419" stop-color="#fbebd5"/><stop offset=".423" stop-color="#fbead2"/><stop offset=".448" stop-color="#fbead2"/><stop offset=".452" stop-color="#fbe9cf"/><stop offset=".540" stop-color="#fbe9cf"/><stop offset=".545" stop-color="#fbead2"/><stop offset=".557" stop-color="#fbead2"/><stop offset=".561" stop-color="#fbebd5"/><stop offset=".603" stop-color="#fbebd5"/><stop offset=".616" stop-color="#fbe9cf"/><stop offset=".641" stop-color="#fbe9cf"/><stop offset=".662" stop-color="#fce6c8"/><stop offset=".674" stop-color="#fce5c5"/><stop offset=".700" stop-color="#fde5c3"/><stop offset=".708" stop-color="#fce5c5"/><stop offset=".721" stop-color="#fce5c5"/><stop offset=".725" stop-color="#fce6c8"/><stop offset=".758" stop-color="#fce7ca"/><stop offset=".762" stop-color="#fce8cd"/><stop offset=".779" stop-color="#fbe9cf"/><stop offset=".804" stop-color="#faedda"/><stop offset=".825" stop-color="#f9efe1"/><stop offset=".838" stop-color="#f9f0e4"/><stop offset=".850" stop-color="#f9f0e4"/><stop offset=".867" stop-color="#f8f4ee"/><stop offset=".892" stop-color="#f8f4ee"/><stop offset=".897" stop-color="#f8f5f1"/><stop offset=".993" stop-color="#f8f5f1"/><stop offset=".997" stop-color="#f8f4ee"/><stop offset="1.000" stop-color="#f8f4ee"/></linearGradient><linearGradient id="gb17" gradientUnits="userSpaceOnUse" x1="1079" y1="0" x2="1795.1" y2="0"><stop offset=".000" stop-color="#faeedf"/><stop offset=".251" stop-color="#faeedf"/><stop offset=".272" stop-color="#faeedf"/><stop offset=".276" stop-color="#faeedc"/><stop offset=".348" stop-color="#faedda"/><stop offset=".352" stop-color="#faecd7"/><stop offset=".406" stop-color="#fbebd5"/><stop offset=".411" stop-color="#fbead2"/><stop offset=".436" stop-color="#fbead2"/><stop offset=".440" stop-color="#fbe9cf"/><stop offset=".549" stop-color="#fbe9cf"/><stop offset=".553" stop-color="#fbead2"/><stop offset=".566" stop-color="#fbead2"/><stop offset=".570" stop-color="#fbebd5"/><stop offset=".595" stop-color="#fbebd5"/><stop offset=".599" stop-color="#fbead2"/><stop offset=".620" stop-color="#fbe9cf"/><stop offset=".628" stop-color="#fce8cd"/><stop offset=".641" stop-color="#fce8cd"/><stop offset=".645" stop-color="#fce7ca"/><stop offset=".658" stop-color="#fce6c8"/><stop offset=".666" stop-color="#fde5c3"/><stop offset=".687" stop-color="#fde4c0"/><stop offset=".695" stop-color="#fde3be"/><stop offset=".704" stop-color="#fde5c3"/><stop offset=".733" stop-color="#fce5c5"/><stop offset=".737" stop-color="#fce6c8"/><stop offset=".762" stop-color="#fce7ca"/><stop offset=".767" stop-color="#fce8cd"/><stop offset=".783" stop-color="#fbe9cf"/><stop offset=".809" stop-color="#faedda"/><stop offset=".817" stop-color="#faeedc"/><stop offset=".834" stop-color="#f9f0e4"/><stop offset=".850" stop-color="#f9f0e4"/><stop offset=".863" stop-color="#f8f3ec"/><stop offset=".892" stop-color="#f8f4ee"/><stop offset=".997" stop-color="#f8f4ee"/><stop offset="1.000" stop-color="#f8f3ec"/></linearGradient><linearGradient id="gb18" gradientUnits="userSpaceOnUse" x1="1079" y1="0" x2="1795.1" y2="0"><stop offset=".000" stop-color="#faeedc"/><stop offset=".251" stop-color="#faeedc"/><stop offset=".306" stop-color="#faeedc"/><stop offset=".314" stop-color="#faedda"/><stop offset=".339" stop-color="#faedda"/><stop offset=".344" stop-color="#faecd7"/><stop offset=".398" stop-color="#fbebd5"/><stop offset=".402" stop-color="#fbead2"/><stop offset=".423" stop-color="#fbead2"/><stop offset=".427" stop-color="#fbe9cf"/><stop offset=".519" stop-color="#fce8cd"/><stop offset=".528" stop-color="#fbe9cf"/><stop offset=".557" stop-color="#fbe9cf"/><stop offset=".561" stop-color="#fbead2"/><stop offset=".603" stop-color="#fbead2"/><stop offset=".607" stop-color="#fbe9cf"/><stop offset=".628" stop-color="#fce8cd"/><stop offset=".633" stop-color="#fce7ca"/><stop offset=".649" stop-color="#fce6c8"/><stop offset=".670" stop-color="#fde3be"/><stop offset=".691" stop-color="#fde2bb"/><stop offset=".695" stop-color="#fde2bb"/><stop offset=".712" stop-color="#fde5c3"/><stop offset=".742" stop-color="#fce5c5"/><stop offset=".746" stop-color="#fce6c8"/><stop offset=".767" stop-color="#fce7ca"/><stop offset=".771" stop-color="#fce8cd"/><stop offset=".788" stop-color="#fbe9cf"/><stop offset=".813" stop-color="#faedda"/><stop offset=".821" stop-color="#faeedf"/><stop offset=".859" stop-color="#f9f1e6"/><stop offset=".863" stop-color="#f9f2e9"/><stop offset="1.000" stop-color="#f9f2e9"/></linearGradient><linearGradient id="gb19" gradientUnits="userSpaceOnUse" x1="1079" y1="0" x2="1795.1" y2="0"><stop offset=".000" stop-color="#faeedc"/><stop offset=".251" stop-color="#faeedc"/><stop offset=".327" stop-color="#faedda"/><stop offset=".331" stop-color="#faecd7"/><stop offset=".385" stop-color="#fbebd5"/><stop offset=".390" stop-color="#fbead2"/><stop offset=".411" stop-color="#fbead2"/><stop offset=".415" stop-color="#fbe9cf"/><stop offset=".536" stop-color="#fce8cd"/><stop offset=".545" stop-color="#fbe9cf"/><stop offset=".561" stop-color="#fbe9cf"/><stop offset=".566" stop-color="#fbead2"/><stop offset=".599" stop-color="#fbead2"/><stop offset=".603" stop-color="#fbe9cf"/><stop offset=".620" stop-color="#fce8cd"/><stop offset=".624" stop-color="#fce7ca"/><stop offset=".641" stop-color="#fce6c8"/><stop offset=".662" stop-color="#fde3be"/><stop offset=".666" stop-color="#fde2bb"/><stop offset=".683" stop-color="#fee1b9"/><stop offset=".687" stop-color="#fee0b6"/><stop offset=".691" stop-color="#fee0b6"/><stop offset=".708" stop-color="#fde4c0"/><stop offset=".721" stop-color="#fde4c0"/><stop offset=".725" stop-color="#fde5c3"/><stop offset=".750" stop-color="#fce5c5"/><stop offset=".754" stop-color="#fce6c8"/><stop offset=".792" stop-color="#fbe9cf"/><stop offset=".817" stop-color="#faedda"/><stop offset=".825" stop-color="#faeedf"/><stop offset=".846" stop-color="#f9efe1"/><stop offset=".859" stop-color="#f9f0e4"/><stop offset="1.000" stop-color="#f9f0e4"/></linearGradient><linearGradient id="gb20" gradientUnits="userSpaceOnUse" x1="1079" y1="0" x2="1795.1" y2="0"><stop offset=".000" stop-color="#faedda"/><stop offset=".251" stop-color="#faedda"/><stop offset=".314" stop-color="#faedda"/><stop offset=".318" stop-color="#faecd7"/><stop offset=".373" stop-color="#fbebd5"/><stop offset=".377" stop-color="#fbead2"/><stop offset=".398" stop-color="#fbead2"/><stop offset=".402" stop-color="#fbe9cf"/><stop offset=".515" stop-color="#fce8cd"/><stop offset=".574" stop-color="#fbe9cf"/><stop offset=".578" stop-color="#fbead2"/><stop offset=".599" stop-color="#fbe9cf"/><stop offset=".616" stop-color="#fce8cd"/><stop offset=".620" stop-color="#fce7ca"/><stop offset=".649" stop-color="#fde5c3"/><stop offset=".674" stop-color="#fedeb3"/><stop offset=".691" stop-color="#fedeb3"/><stop offset=".700" stop-color="#fee1b9"/><stop offset=".704" stop-color="#fde3be"/><stop offset=".725" stop-color="#fde4c0"/><stop offset=".737" stop-color="#fde4c0"/><stop offset=".742" stop-color="#fde5c3"/><stop offset=".804" stop-color="#fbead2"/><stop offset=".825" stop-color="#faeedc"/><stop offset=".838" stop-color="#faeedf"/><stop offset=".867" stop-color="#f9efe1"/><stop offset=".876" stop-color="#faeedf"/><stop offset=".905" stop-color="#faeedf"/><stop offset=".909" stop-color="#faeedc"/><stop offset=".984" stop-color="#faeedc"/><stop offset=".989" stop-color="#faeedf"/><stop offset="1.000" stop-color="#faeedf"/></linearGradient><linearGradient id="gb21" gradientUnits="userSpaceOnUse" x1="1079" y1="0" x2="1795.1" y2="0"><stop offset=".000" stop-color="#faecd7"/><stop offset=".251" stop-color="#faecd7"/><stop offset=".331" stop-color="#faecd7"/><stop offset=".339" stop-color="#fbebd5"/><stop offset=".352" stop-color="#fbebd5"/><stop offset=".356" stop-color="#fbead2"/><stop offset=".385" stop-color="#fbead2"/><stop offset=".390" stop-color="#fbe9cf"/><stop offset=".494" stop-color="#fce8cd"/><stop offset=".557" stop-color="#fce8cd"/><stop offset=".566" stop-color="#fbe9cf"/><stop offset=".595" stop-color="#fbe9cf"/><stop offset=".637" stop-color="#fce5c5"/><stop offset=".662" stop-color="#fee1b9"/><stop offset=".670" stop-color="#feddaf"/><stop offset=".691" stop-color="#feddaf"/><stop offset=".695" stop-color="#fee0b6"/><stop offset=".708" stop-color="#fde3be"/><stop offset=".733" stop-color="#fde3be"/><stop offset=".771" stop-color="#fce7ca"/><stop offset=".779" stop-color="#fce7ca"/><stop offset=".783" stop-color="#fce8cd"/><stop offset=".800" stop-color="#fbe9cf"/><stop offset=".813" stop-color="#fbebd5"/><stop offset=".821" stop-color="#faecd7"/><stop offset=".825" stop-color="#faedda"/><stop offset=".846" stop-color="#faeedf"/><stop offset=".863" stop-color="#f9efe1"/><stop offset=".871" stop-color="#faeedc"/><stop offset=".922" stop-color="#faedda"/><stop offset=".997" stop-color="#faedda"/><stop offset="1.000" stop-color="#faeedc"/></linearGradient><linearGradient id="gb22" gradientUnits="userSpaceOnUse" x1="1079" y1="0" x2="1795.1" y2="0"><stop offset=".000" stop-color="#faecd7"/><stop offset=".251" stop-color="#faecd7"/><stop offset=".314" stop-color="#faecd7"/><stop offset=".323" stop-color="#fbebd5"/><stop offset=".344" stop-color="#fbebd5"/><stop offset=".348" stop-color="#fbead2"/><stop offset=".373" stop-color="#fbead2"/><stop offset=".377" stop-color="#fbe9cf"/><stop offset=".469" stop-color="#fce8cd"/><stop offset=".482" stop-color="#fce7ca"/><stop offset=".532" stop-color="#fce7ca"/><stop offset=".536" stop-color="#fce8cd"/><stop offset=".570" stop-color="#fce8cd"/><stop offset=".578" stop-color="#fbe9cf"/><stop offset=".599" stop-color="#fce8cd"/><stop offset=".603" stop-color="#fce7ca"/><stop offset=".620" stop-color="#fce6c8"/><stop offset=".624" stop-color="#fce5c5"/><stop offset=".637" stop-color="#fde5c3"/><stop offset=".658" stop-color="#fee1b9"/><stop offset=".670" stop-color="#feddaf"/><stop offset=".691" stop-color="#feddaf"/><stop offset=".695" stop-color="#fee0b6"/><stop offset=".708" stop-color="#fde3be"/><stop offset=".742" stop-color="#fde3be"/><stop offset=".750" stop-color="#fde5c3"/><stop offset=".779" stop-color="#fce7ca"/><stop offset=".783" stop-color="#fce8cd"/><stop offset=".804" stop-color="#fbe9cf"/><stop offset=".809" stop-color="#fbead2"/><stop offset=".817" stop-color="#fbead2"/><stop offset=".838" stop-color="#faeedc"/><stop offset=".846" stop-color="#faeedc"/><stop offset=".855" stop-color="#f9efe1"/><stop offset=".871" stop-color="#faeedf"/><stop offset=".876" stop-color="#faeedc"/><stop offset=".905" stop-color="#faedda"/><stop offset="1.000" stop-color="#faedda"/></linearGradient><linearGradient id="gb23" gradientUnits="userSpaceOnUse" x1="1079" y1="0" x2="1795.1" y2="0"><stop offset=".000" stop-color="#fbebd5"/><stop offset=".251" stop-color="#fbebd5"/><stop offset=".281" stop-color="#fbebd5"/><stop offset=".289" stop-color="#faecd7"/><stop offset=".310" stop-color="#fbebd5"/><stop offset=".331" stop-color="#fbebd5"/><stop offset=".335" stop-color="#fbead2"/><stop offset=".356" stop-color="#fbead2"/><stop offset=".360" stop-color="#fbe9cf"/><stop offset=".452" stop-color="#fce8cd"/><stop offset=".457" stop-color="#fce7ca"/><stop offset=".557" stop-color="#fce7ca"/><stop offset=".561" stop-color="#fce8cd"/><stop offset=".591" stop-color="#fce8cd"/><stop offset=".595" stop-color="#fce7ca"/><stop offset=".616" stop-color="#fce6c8"/><stop offset=".620" stop-color="#fce5c5"/><stop offset=".633" stop-color="#fde5c3"/><stop offset=".654" stop-color="#fee1b9"/><stop offset=".666" stop-color="#feddaf"/><stop offset=".679" stop-color="#fedbac"/><stop offset=".683" stop-color="#fedbac"/><stop offset=".708" stop-color="#fde3be"/><stop offset=".725" stop-color="#fde3be"/><stop offset=".729" stop-color="#fde2bb"/><stop offset=".733" stop-color="#fde3be"/><stop offset=".750" stop-color="#fde4c0"/><stop offset=".767" stop-color="#fce6c8"/><stop offset=".804" stop-color="#fbe9cf"/><stop offset=".813" stop-color="#fbe9cf"/><stop offset=".838" stop-color="#faedda"/><stop offset=".846" stop-color="#faeedc"/><stop offset=".850" stop-color="#faeedf"/><stop offset=".867" stop-color="#f9efe1"/><stop offset=".876" stop-color="#faeedc"/><stop offset=".905" stop-color="#faedda"/><stop offset="1.000" stop-color="#faedda"/></linearGradient><linearGradient id="gb24" gradientUnits="userSpaceOnUse" x1="1079" y1="0" x2="1795.1" y2="0"><stop offset=".000" stop-color="#fbead2"/><stop offset=".251" stop-color="#fbead2"/><stop offset=".272" stop-color="#fbebd5"/><stop offset=".323" stop-color="#fbebd5"/><stop offset=".327" stop-color="#fbead2"/><stop offset=".348" stop-color="#fbead2"/><stop offset=".352" stop-color="#fbe9cf"/><stop offset=".436" stop-color="#fce8cd"/><stop offset=".440" stop-color="#fce7ca"/><stop offset=".595" stop-color="#fce7ca"/><stop offset=".637" stop-color="#fde4c0"/><stop offset=".658" stop-color="#fee0b6"/><stop offset=".666" stop-color="#feddaf"/><stop offset=".679" stop-color="#fedbac"/><stop offset=".683" stop-color="#fedbac"/><stop offset=".695" stop-color="#fee0b6"/><stop offset=".700" stop-color="#fde2bb"/><stop offset=".708" stop-color="#fde2bb"/><stop offset=".712" stop-color="#fde3be"/><stop offset=".725" stop-color="#fde2bb"/><stop offset=".746" stop-color="#fde3be"/><stop offset=".754" stop-color="#fde5c3"/><stop offset=".804" stop-color="#fbe9cf"/><stop offset=".817" stop-color="#fbe9cf"/><stop offset=".842" stop-color="#faedda"/><stop offset=".863" stop-color="#f9efe1"/><stop offset=".871" stop-color="#faeedf"/><stop offset=".876" stop-color="#faeedc"/><stop offset=".905" stop-color="#faedda"/><stop offset="1.000" stop-color="#faedda"/></linearGradient><linearGradient id="gb25" gradientUnits="userSpaceOnUse" x1="1079" y1="0" x2="1795.1" y2="0"><stop offset=".000" stop-color="#fbead2"/><stop offset=".251" stop-color="#fbead2"/><stop offset=".272" stop-color="#fbead2"/><stop offset=".276" stop-color="#fbebd5"/><stop offset=".306" stop-color="#fbebd5"/><stop offset=".310" stop-color="#fbead2"/><stop offset=".339" stop-color="#fbead2"/><stop offset=".344" stop-color="#fbe9cf"/><stop offset=".419" stop-color="#fce8cd"/><stop offset=".423" stop-color="#fce7ca"/><stop offset=".557" stop-color="#fce6c8"/><stop offset=".566" stop-color="#fce7ca"/><stop offset=".595" stop-color="#fce6c8"/><stop offset=".616" stop-color="#fde5c3"/><stop offset=".624" stop-color="#fde5c3"/><stop offset=".641" stop-color="#fde2bb"/><stop offset=".649" stop-color="#fee1b9"/><stop offset=".658" stop-color="#fedeb3"/><stop offset=".662" stop-color="#fedeb3"/><stop offset=".670" stop-color="#fedbac"/><stop offset=".687" stop-color="#fedbac"/><stop offset=".691" stop-color="#feddaf"/><stop offset=".700" stop-color="#fde2bb"/><stop offset=".733" stop-color="#fde2bb"/><stop offset=".737" stop-color="#fde3be"/><stop offset=".746" stop-color="#fde3be"/><stop offset=".754" stop-color="#fde5c3"/><stop offset=".804" stop-color="#fbe9cf"/><stop offset=".821" stop-color="#fbe9cf"/><stop offset=".829" stop-color="#fbebd5"/><stop offset=".842" stop-color="#faecd7"/><stop offset=".850" stop-color="#faeedc"/><stop offset=".859" stop-color="#faeedc"/><stop offset=".863" stop-color="#faeedf"/><stop offset=".884" stop-color="#faedda"/><stop offset=".926" stop-color="#faedda"/><stop offset=".930" stop-color="#faecd7"/><stop offset=".997" stop-color="#faecd7"/><stop offset="1.000" stop-color="#faedda"/></linearGradient><linearGradient id="gb26" gradientUnits="userSpaceOnUse" x1="1079" y1="0" x2="1795.1" y2="0"><stop offset=".000" stop-color="#fbead2"/><stop offset=".251" stop-color="#fbead2"/><stop offset=".327" stop-color="#fbead2"/><stop offset=".331" stop-color="#fbe9cf"/><stop offset=".406" stop-color="#fce8cd"/><stop offset=".411" stop-color="#fce7ca"/><stop offset=".545" stop-color="#fce6c8"/><stop offset=".587" stop-color="#fce6c8"/><stop offset=".591" stop-color="#fce5c5"/><stop offset=".620" stop-color="#fde5c3"/><stop offset=".624" stop-color="#fde4c0"/><stop offset=".637" stop-color="#fde3be"/><stop offset=".654" stop-color="#fee0b6"/><stop offset=".662" stop-color="#feddaf"/><stop offset=".683" stop-color="#fedaa9"/><stop offset=".687" stop-color="#fedaa9"/><stop offset=".691" stop-color="#fedbac"/><stop offset=".695" stop-color="#fee0b6"/><stop offset=".700" stop-color="#fde2bb"/><stop offset=".733" stop-color="#fde2bb"/><stop offset=".737" stop-color="#fde3be"/><stop offset=".754" stop-color="#fde4c0"/><stop offset=".771" stop-color="#fce6c8"/><stop offset=".788" stop-color="#fce7ca"/><stop offset=".792" stop-color="#fce8cd"/><stop offset=".821" stop-color="#fbe9cf"/><stop offset=".834" stop-color="#fbebd5"/><stop offset=".863" stop-color="#faeedc"/><stop offset=".892" stop-color="#faedda"/><stop offset=".909" stop-color="#faedda"/><stop offset=".913" stop-color="#faecd7"/><stop offset="1.000" stop-color="#faecd7"/></linearGradient><linearGradient id="gb27" gradientUnits="userSpaceOnUse" x1="1079" y1="0" x2="1795.1" y2="0"><stop offset=".000" stop-color="#fbe9cf"/><stop offset=".239" stop-color="#fbe9cf"/><stop offset=".243" stop-color="#fbead2"/><stop offset=".318" stop-color="#fbead2"/><stop offset=".323" stop-color="#fbe9cf"/><stop offset=".394" stop-color="#fce8cd"/><stop offset=".398" stop-color="#fce7ca"/><stop offset=".511" stop-color="#fce6c8"/><stop offset=".557" stop-color="#fce6c8"/><stop offset=".561" stop-color="#fce5c5"/><stop offset=".599" stop-color="#fce5c5"/><stop offset=".607" stop-color="#fde5c3"/><stop offset=".616" stop-color="#fde5c3"/><stop offset=".620" stop-color="#fde4c0"/><stop offset=".649" stop-color="#fee1b9"/><stop offset=".666" stop-color="#fedbac"/><stop offset=".670" stop-color="#fedbac"/><stop offset=".683" stop-color="#fed7a2"/><stop offset=".687" stop-color="#fed7a2"/><stop offset=".691" stop-color="#fedaa9"/><stop offset=".695" stop-color="#fedeb3"/><stop offset=".700" stop-color="#fee1b9"/><stop offset=".708" stop-color="#fde2bb"/><stop offset=".737" stop-color="#fde2bb"/><stop offset=".742" stop-color="#fde3be"/><stop offset=".771" stop-color="#fce5c5"/><stop offset=".775" stop-color="#fce6c8"/><stop offset=".813" stop-color="#fbe9cf"/><stop offset=".821" stop-color="#fbe9cf"/><stop offset=".834" stop-color="#fbebd5"/><stop offset=".850" stop-color="#faecd7"/><stop offset=".855" stop-color="#faedda"/><stop offset=".897" stop-color="#faedda"/><stop offset=".901" stop-color="#faecd7"/><stop offset="1.000" stop-color="#faecd7"/></linearGradient><linearGradient id="gb28" gradientUnits="userSpaceOnUse" x1="1079" y1="0" x2="1795.1" y2="0"><stop offset=".000" stop-color="#fbe9cf"/><stop offset=".251" stop-color="#fbe9cf"/><stop offset=".264" stop-color="#fbe9cf"/><stop offset=".268" stop-color="#fbead2"/><stop offset=".306" stop-color="#fbead2"/><stop offset=".310" stop-color="#fbe9cf"/><stop offset=".377" stop-color="#fce8cd"/><stop offset=".381" stop-color="#fce7ca"/><stop offset=".465" stop-color="#fce6c8"/><stop offset=".469" stop-color="#fce5c5"/><stop offset=".566" stop-color="#fce5c5"/><stop offset=".574" stop-color="#fde5c3"/><stop offset=".599" stop-color="#fde5c3"/><stop offset=".603" stop-color="#fde4c0"/><stop offset=".633" stop-color="#fde3be"/><stop offset=".637" stop-color="#fde2bb"/><stop offset=".649" stop-color="#fee1b9"/><stop offset=".670" stop-color="#fedaa9"/><stop offset=".674" stop-color="#fed7a2"/><stop offset=".683" stop-color="#fed39c"/><stop offset=".687" stop-color="#fed39c"/><stop offset=".691" stop-color="#fed7a2"/><stop offset=".695" stop-color="#feddaf"/><stop offset=".704" stop-color="#fde2bb"/><stop offset=".737" stop-color="#fde2bb"/><stop offset=".742" stop-color="#fde3be"/><stop offset=".754" stop-color="#fde4c0"/><stop offset=".771" stop-color="#fce6c8"/><stop offset=".792" stop-color="#fce7ca"/><stop offset=".796" stop-color="#fce8cd"/><stop offset=".825" stop-color="#fbe9cf"/><stop offset=".838" stop-color="#fbebd5"/><stop offset=".867" stop-color="#faecd7"/><stop offset="1.000" stop-color="#faecd7"/></linearGradient><linearGradient id="gb29" gradientUnits="userSpaceOnUse" x1="1079" y1="0" x2="1795.1" y2="0"><stop offset=".000" stop-color="#fbe9cf"/><stop offset=".251" stop-color="#fbe9cf"/><stop offset=".339" stop-color="#fbe9cf"/><stop offset=".348" stop-color="#fce8cd"/><stop offset=".360" stop-color="#fce8cd"/><stop offset=".364" stop-color="#fce7ca"/><stop offset=".406" stop-color="#fce6c8"/><stop offset=".419" stop-color="#fce5c5"/><stop offset=".536" stop-color="#fde5c3"/><stop offset=".540" stop-color="#fde4c0"/><stop offset=".633" stop-color="#fde3be"/><stop offset=".637" stop-color="#fde2bb"/><stop offset=".649" stop-color="#fde2bb"/><stop offset=".662" stop-color="#fedeb3"/><stop offset=".674" stop-color="#fed59f"/><stop offset=".683" stop-color="#fed299"/><stop offset=".687" stop-color="#fed299"/><stop offset=".695" stop-color="#fed59f"/><stop offset=".708" stop-color="#fedeb3"/><stop offset=".716" stop-color="#fee1b9"/><stop offset=".733" stop-color="#fde2bb"/><stop offset=".737" stop-color="#fde3be"/><stop offset=".750" stop-color="#fde4c0"/><stop offset=".767" stop-color="#fce6c8"/><stop offset=".783" stop-color="#fce7ca"/><stop offset=".788" stop-color="#fce8cd"/><stop offset=".825" stop-color="#fbe9cf"/><stop offset=".829" stop-color="#fbead2"/><stop offset=".838" stop-color="#fbead2"/><stop offset=".842" stop-color="#fbebd5"/><stop offset=".863" stop-color="#faecd7"/><stop offset="1.000" stop-color="#faecd7"/></linearGradient><linearGradient id="gb30" gradientUnits="userSpaceOnUse" x1="1079" y1="0" x2="1795.1" y2="0"><stop offset=".000" stop-color="#fce8cd"/><stop offset=".251" stop-color="#fce8cd"/><stop offset=".293" stop-color="#fbe9cf"/><stop offset=".335" stop-color="#fbe9cf"/><stop offset=".344" stop-color="#fce8cd"/><stop offset=".360" stop-color="#fce8cd"/><stop offset=".364" stop-color="#fce7ca"/><stop offset=".402" stop-color="#fce6c8"/><stop offset=".406" stop-color="#fce5c5"/><stop offset=".545" stop-color="#fde5c3"/><stop offset=".549" stop-color="#fde4c0"/><stop offset=".645" stop-color="#fde3be"/><stop offset=".649" stop-color="#fde2bb"/><stop offset=".658" stop-color="#fee1b9"/><stop offset=".674" stop-color="#fed59f"/><stop offset=".683" stop-color="#fed299"/><stop offset=".687" stop-color="#fed299"/><stop offset=".691" stop-color="#fed39c"/><stop offset=".700" stop-color="#fedaa9"/><stop offset=".704" stop-color="#fedeb3"/><stop offset=".708" stop-color="#fee1b9"/><stop offset=".737" stop-color="#fde4c0"/><stop offset=".742" stop-color="#fde5c3"/><stop offset=".792" stop-color="#fbe9cf"/><stop offset=".813" stop-color="#fbead2"/><stop offset=".817" stop-color="#fbebd5"/><stop offset=".838" stop-color="#faecd7"/><stop offset=".842" stop-color="#faedda"/><stop offset=".880" stop-color="#faedda"/><stop offset=".884" stop-color="#faecd7"/><stop offset="1.000" stop-color="#faecd7"/></linearGradient><linearGradient id="gb31" gradientUnits="userSpaceOnUse" x1="1079" y1="0" x2="1795.1" y2="0"><stop offset=".000" stop-color="#fbe9cf"/><stop offset=".251" stop-color="#fbe9cf"/><stop offset=".344" stop-color="#fbe9cf"/><stop offset=".352" stop-color="#fce8cd"/><stop offset=".377" stop-color="#fce8cd"/><stop offset=".381" stop-color="#fce7ca"/><stop offset=".528" stop-color="#fce6c8"/><stop offset=".566" stop-color="#fce6c8"/><stop offset=".570" stop-color="#fce5c5"/><stop offset=".603" stop-color="#fce5c5"/><stop offset=".612" stop-color="#fde5c3"/><stop offset=".624" stop-color="#fde5c3"/><stop offset=".628" stop-color="#fde4c0"/><stop offset=".654" stop-color="#fde3be"/><stop offset=".662" stop-color="#fee1b9"/><stop offset=".679" stop-color="#fed59f"/><stop offset=".683" stop-color="#fed39c"/><stop offset=".687" stop-color="#fed39c"/><stop offset=".691" stop-color="#fed59f"/><stop offset=".695" stop-color="#fedbac"/><stop offset=".700" stop-color="#fee0b6"/><stop offset=".708" stop-color="#fde3be"/><stop offset=".737" stop-color="#fce5c5"/><stop offset=".742" stop-color="#fce6c8"/><stop offset=".758" stop-color="#fce7ca"/><stop offset=".762" stop-color="#fce8cd"/><stop offset=".779" stop-color="#fbe9cf"/><stop offset=".783" stop-color="#fbead2"/><stop offset=".792" stop-color="#fbead2"/><stop offset=".796" stop-color="#fbebd5"/><stop offset=".825" stop-color="#faeedc"/><stop offset=".834" stop-color="#f9efe1"/><stop offset=".850" stop-color="#faeedf"/><stop offset=".855" stop-color="#faeedc"/><stop offset=".897" stop-color="#faedda"/><stop offset="1.000" stop-color="#faedda"/></linearGradient><linearGradient id="gb32" gradientUnits="userSpaceOnUse" x1="1079" y1="0" x2="1795.1" y2="0"><stop offset=".000" stop-color="#fbe9cf"/><stop offset=".251" stop-color="#fbe9cf"/><stop offset=".503" stop-color="#fce8cd"/><stop offset=".553" stop-color="#fbe9cf"/><stop offset=".582" stop-color="#fce8cd"/><stop offset=".595" stop-color="#fce7ca"/><stop offset=".628" stop-color="#fce6c8"/><stop offset=".633" stop-color="#fce5c5"/><stop offset=".654" stop-color="#fde4c0"/><stop offset=".674" stop-color="#fedeb3"/><stop offset=".679" stop-color="#feddaf"/><stop offset=".687" stop-color="#feddaf"/><stop offset=".691" stop-color="#fee0b6"/><stop offset=".700" stop-color="#fde3be"/><stop offset=".708" stop-color="#fde4c0"/><stop offset=".729" stop-color="#fce7ca"/><stop offset=".838" stop-color="#f9f0e4"/><stop offset=".842" stop-color="#f9f0e4"/><stop offset=".859" stop-color="#faeedc"/><stop offset="1.000" stop-color="#faeedc"/></linearGradient><linearGradient id="gb33" gradientUnits="userSpaceOnUse" x1="1079" y1="0" x2="1795.1" y2="0"><stop offset=".000" stop-color="#fbead2"/><stop offset=".251" stop-color="#fbead2"/><stop offset=".348" stop-color="#fbead2"/><stop offset=".352" stop-color="#fbe9cf"/><stop offset=".364" stop-color="#fbe9cf"/><stop offset=".369" stop-color="#fbead2"/><stop offset=".507" stop-color="#fbead2"/><stop offset=".511" stop-color="#fbebd5"/><stop offset=".574" stop-color="#fbebd5"/><stop offset=".578" stop-color="#fbead2"/><stop offset=".616" stop-color="#fbead2"/><stop offset=".620" stop-color="#fbe9cf"/><stop offset=".649" stop-color="#fce8cd"/><stop offset=".674" stop-color="#fde3be"/><stop offset=".687" stop-color="#fde3be"/><stop offset=".700" stop-color="#fce5c5"/><stop offset=".708" stop-color="#fce8cd"/><stop offset=".725" stop-color="#fbe9cf"/><stop offset=".729" stop-color="#fbead2"/><stop offset=".737" stop-color="#fbead2"/><stop offset=".742" stop-color="#fbebd5"/><stop offset=".804" stop-color="#f9efe1"/><stop offset=".825" stop-color="#f9f1e6"/><stop offset=".834" stop-color="#f9f1e6"/><stop offset=".846" stop-color="#f8f3ec"/><stop offset=".876" stop-color="#f8f4ee"/><stop offset="1.000" stop-color="#f8f4ee"/></linearGradient><linearGradient id="gb34" gradientUnits="userSpaceOnUse" x1="1079" y1="0" x2="1795.1" y2="0"><stop offset=".000" stop-color="#fbebd5"/><stop offset=".251" stop-color="#fbebd5"/><stop offset=".335" stop-color="#faecd7"/><stop offset=".448" stop-color="#faecd7"/><stop offset=".452" stop-color="#faedda"/><stop offset=".582" stop-color="#faeedc"/><stop offset=".591" stop-color="#faedda"/><stop offset=".612" stop-color="#faedda"/><stop offset=".616" stop-color="#faecd7"/><stop offset=".649" stop-color="#fbebd5"/><stop offset=".654" stop-color="#fbead2"/><stop offset=".674" stop-color="#fbe9cf"/><stop offset=".683" stop-color="#fce8cd"/><stop offset=".704" stop-color="#fbead2"/><stop offset=".708" stop-color="#fbebd5"/><stop offset=".758" stop-color="#f9efe1"/><stop offset=".771" stop-color="#f9efe1"/><stop offset=".775" stop-color="#f9f0e4"/><stop offset=".800" stop-color="#f9f1e6"/><stop offset=".804" stop-color="#f9f2e9"/><stop offset=".813" stop-color="#f9f2e9"/><stop offset=".817" stop-color="#f8f3ec"/><stop offset=".838" stop-color="#f8f5f1"/><stop offset=".867" stop-color="#f7f6f3"/><stop offset="1.000" stop-color="#f7f6f3"/></linearGradient><linearGradient id="gb35" gradientUnits="userSpaceOnUse" x1="1079" y1="0" x2="1795.1" y2="0"><stop offset=".000" stop-color="#faedda"/><stop offset=".251" stop-color="#faedda"/><stop offset=".415" stop-color="#faeedc"/><stop offset=".419" stop-color="#faeedf"/><stop offset=".511" stop-color="#f9efe1"/><stop offset=".515" stop-color="#f9f0e4"/><stop offset=".595" stop-color="#f9f0e4"/><stop offset=".599" stop-color="#f9efe1"/><stop offset=".654" stop-color="#faeedf"/><stop offset=".658" stop-color="#faeedc"/><stop offset=".687" stop-color="#faedda"/><stop offset=".708" stop-color="#f9efe1"/><stop offset=".721" stop-color="#f9f0e4"/><stop offset=".750" stop-color="#f9f1e6"/><stop offset=".754" stop-color="#f9f2e9"/><stop offset=".771" stop-color="#f9f2e9"/><stop offset=".775" stop-color="#f8f3ec"/><stop offset=".804" stop-color="#f8f4ee"/><stop offset=".809" stop-color="#f8f5f1"/><stop offset=".829" stop-color="#f7f6f3"/><stop offset=".834" stop-color="#f7f7f6"/><stop offset="1.000" stop-color="#f7f7f6"/></linearGradient><linearGradient id="gb36" gradientUnits="userSpaceOnUse" x1="1079" y1="0" x2="1795.1" y2="0"><stop offset=".000" stop-color="#faeedf"/><stop offset=".251" stop-color="#faeedf"/><stop offset=".348" stop-color="#faeedf"/><stop offset=".356" stop-color="#f9efe1"/><stop offset=".390" stop-color="#f9efe1"/><stop offset=".394" stop-color="#f9f0e4"/><stop offset=".645" stop-color="#f9f1e6"/><stop offset=".687" stop-color="#f9f0e4"/><stop offset=".708" stop-color="#f9f1e6"/><stop offset=".721" stop-color="#f8f3ec"/><stop offset=".746" stop-color="#f8f4ee"/><stop offset=".750" stop-color="#f8f5f1"/><stop offset=".804" stop-color="#f7f6f3"/><stop offset=".809" stop-color="#f7f7f6"/><stop offset="1.000" stop-color="#f6f6f7"/></linearGradient><linearGradient id="gb37" gradientUnits="userSpaceOnUse" x1="1079" y1="0" x2="1795.1" y2="0"><stop offset=".000" stop-color="#f9efe1"/><stop offset=".025" stop-color="#f9efe1"/><stop offset=".029" stop-color="#f9f0e4"/><stop offset=".281" stop-color="#f9f0e4"/><stop offset=".285" stop-color="#f9efe1"/><stop offset=".318" stop-color="#f9efe1"/><stop offset=".323" stop-color="#f9f0e4"/><stop offset=".507" stop-color="#f9f1e6"/><stop offset=".511" stop-color="#f9f2e9"/><stop offset=".607" stop-color="#f9f2e9"/><stop offset=".612" stop-color="#f8f3ec"/><stop offset=".683" stop-color="#f8f3ec"/><stop offset=".691" stop-color="#f8f4ee"/><stop offset=".704" stop-color="#f8f4ee"/><stop offset=".708" stop-color="#f8f5f1"/><stop offset=".725" stop-color="#f7f6f3"/><stop offset=".729" stop-color="#f7f7f6"/><stop offset=".980" stop-color="#f6f6f7"/><stop offset="1.000" stop-color="#f6f6f7"/></linearGradient><linearGradient id="gb38" gradientUnits="userSpaceOnUse" x1="1079" y1="0" x2="1795.1" y2="0"><stop offset=".000" stop-color="#f9f1e6"/><stop offset=".088" stop-color="#f9f1e6"/><stop offset=".092" stop-color="#f9f2e9"/><stop offset=".197" stop-color="#f9f2e9"/><stop offset=".201" stop-color="#f9f1e6"/><stop offset=".402" stop-color="#f9f1e6"/><stop offset=".406" stop-color="#f9f2e9"/><stop offset=".507" stop-color="#f9f2e9"/><stop offset=".511" stop-color="#f8f3ec"/><stop offset=".620" stop-color="#f8f4ee"/><stop offset=".624" stop-color="#f8f5f1"/><stop offset=".687" stop-color="#f7f6f3"/><stop offset=".691" stop-color="#f7f7f6"/><stop offset=".943" stop-color="#f6f6f7"/><stop offset="1.000" stop-color="#f6f6f7"/></linearGradient><linearGradient id="gb39" gradientUnits="userSpaceOnUse" x1="1079" y1="0" x2="1795.1" y2="0"><stop offset=".000" stop-color="#f8f3ec"/><stop offset=".251" stop-color="#f8f3ec"/><stop offset=".293" stop-color="#f8f3ec"/><stop offset=".297" stop-color="#f9f2e9"/><stop offset=".411" stop-color="#f9f2e9"/><stop offset=".415" stop-color="#f8f3ec"/><stop offset=".511" stop-color="#f8f3ec"/><stop offset=".519" stop-color="#f8f4ee"/><stop offset=".570" stop-color="#f8f4ee"/><stop offset=".574" stop-color="#f8f5f1"/><stop offset=".628" stop-color="#f7f6f3"/><stop offset=".633" stop-color="#f7f7f6"/><stop offset=".796" stop-color="#f4f4f6"/><stop offset=".838" stop-color="#f6f6f7"/><stop offset="1.000" stop-color="#f6f6f7"/></linearGradient><linearGradient id="gb40" gradientUnits="userSpaceOnUse" x1="1079" y1="0" x2="1795.1" y2="0"><stop offset=".000" stop-color="#f8f4ee"/><stop offset=".251" stop-color="#f8f4ee"/><stop offset=".385" stop-color="#f8f3ec"/><stop offset=".511" stop-color="#f8f4ee"/><stop offset=".528" stop-color="#f8f4ee"/><stop offset=".532" stop-color="#f8f5f1"/><stop offset=".612" stop-color="#f7f6f3"/><stop offset=".616" stop-color="#f7f7f6"/><stop offset=".762" stop-color="#f4f4f6"/><stop offset=".817" stop-color="#f4f4f6"/><stop offset=".838" stop-color="#f6f6f7"/><stop offset="1.000" stop-color="#f5f5f6"/></linearGradient><linearGradient id="gb41" gradientUnits="userSpaceOnUse" x1="1079" y1="0" x2="1795.1" y2="0"><stop offset=".000" stop-color="#f8f5f1"/><stop offset=".251" stop-color="#f8f5f1"/><stop offset=".272" stop-color="#f8f4ee"/><stop offset=".469" stop-color="#f8f4ee"/><stop offset=".473" stop-color="#f8f5f1"/><stop offset=".553" stop-color="#f8f5f1"/><stop offset=".561" stop-color="#f7f6f3"/><stop offset=".603" stop-color="#f7f6f3"/><stop offset=".607" stop-color="#f7f7f6"/><stop offset=".758" stop-color="#f4f4f6"/><stop offset=".817" stop-color="#f4f4f6"/><stop offset=".846" stop-color="#f6f6f7"/><stop offset="1.000" stop-color="#f5f5f6"/></linearGradient><linearGradient id="gb42" gradientUnits="userSpaceOnUse" x1="1079" y1="0" x2="1795.1" y2="0"><stop offset=".000" stop-color="#f8f5f1"/><stop offset=".251" stop-color="#f8f5f1"/><stop offset=".503" stop-color="#f8f5f1"/><stop offset=".566" stop-color="#f7f6f3"/><stop offset=".599" stop-color="#f7f6f3"/><stop offset=".603" stop-color="#f7f7f6"/><stop offset=".771" stop-color="#f4f4f6"/><stop offset=".829" stop-color="#f4f4f6"/><stop offset=".892" stop-color="#f6f6f7"/><stop offset="1.000" stop-color="#f5f5f6"/></linearGradient><linearGradient id="gb43" gradientUnits="userSpaceOnUse" x1="1079" y1="0" x2="1795.1" y2="0"><stop offset=".000" stop-color="#f7f6f3"/><stop offset=".251" stop-color="#f7f6f3"/><stop offset=".260" stop-color="#f8f5f1"/><stop offset=".444" stop-color="#f8f5f1"/><stop offset=".452" stop-color="#f7f6f3"/><stop offset=".612" stop-color="#f7f6f3"/><stop offset=".616" stop-color="#f7f7f6"/><stop offset=".825" stop-color="#f5f5f6"/><stop offset="1.000" stop-color="#f6f6f7"/></linearGradient><linearGradient id="gb44" gradientUnits="userSpaceOnUse" x1="1079" y1="0" x2="1795.1" y2="0"><stop offset=".000" stop-color="#f7f6f3"/><stop offset=".251" stop-color="#f7f6f3"/><stop offset=".503" stop-color="#f7f6f3"/><stop offset=".633" stop-color="#f7f6f3"/><stop offset=".637" stop-color="#f7f7f6"/><stop offset=".888" stop-color="#f6f6f7"/><stop offset="1.000" stop-color="#f6f6f7"/></linearGradient><pattern id="hlb" patternUnits="userSpaceOnUse" x="1081.4" y="0" width="8.4" height="16"><rect x="0" y="0" width="1" height="16" fill="#fff" opacity=".15"/><rect x="2.1" y="0" width="1" height="16" fill="#fff" opacity=".15"/><rect x="4.2" y="0" width="1" height="16" fill="#fff" opacity=".07"/><rect x="6.3" y="0" width="1" height="16" fill="#fff" opacity=".04"/></pattern></defs>
<rect x="1079" y="57" width="716.1" height="3" fill="url(#gb0)"/>
<rect x="1079" y="60" width="716.1" height="3" fill="url(#gb1)"/>
<rect x="1079" y="63" width="716.1" height="3" fill="url(#gb2)"/>
<rect x="1079" y="66" width="716.1" height="3" fill="url(#gb3)"/>
<rect x="1079" y="69" width="716.1" height="3" fill="url(#gb4)"/>
<rect x="1079" y="72" width="716.1" height="3" fill="url(#gb5)"/>
<rect x="1079" y="75" width="716.1" height="3" fill="url(#gb6)"/>
<rect x="1079" y="78" width="716.1" height="3" fill="url(#gb7)"/>
<rect x="1079" y="81" width="716.1" height="3" fill="url(#gb8)"/>
<rect x="1079" y="84" width="716.1" height="3" fill="url(#gb9)"/>
<rect x="1079" y="87" width="716.1" height="3" fill="url(#gb10)"/>
<rect x="1079" y="90" width="716.1" height="3" fill="url(#gb11)"/>
<rect x="1079" y="93" width="716.1" height="3" fill="url(#gb12)"/>
<rect x="1079" y="96" width="716.1" height="3" fill="url(#gb13)"/>
<rect x="1079" y="99" width="716.1" height="3" fill="url(#gb14)"/>
<rect x="1079" y="102" width="716.1" height="3" fill="url(#gb15)"/>
<rect x="1079" y="105" width="716.1" height="3" fill="url(#gb16)"/>
<rect x="1079" y="108" width="716.1" height="3" fill="url(#gb17)"/>
<rect x="1079" y="111" width="716.1" height="2" fill="url(#gb18)"/>
<rect x="1079" y="113" width="716.1" height="4" fill="url(#gb19)"/>
<rect x="1079" y="117" width="716.1" height="4" fill="url(#gb20)"/>
<rect x="1079" y="121" width="716.1" height="4" fill="url(#gb21)"/>
<rect x="1079" y="125" width="716.1" height="4" fill="url(#gb22)"/>
<rect x="1079" y="129" width="716.1" height="4" fill="url(#gb23)"/>
<rect x="1079" y="133" width="716.1" height="4" fill="url(#gb24)"/>
<rect x="1079" y="137" width="716.1" height="4" fill="url(#gb25)"/>
<rect x="1079" y="141" width="716.1" height="4" fill="url(#gb26)"/>
<rect x="1079" y="145" width="716.1" height="4" fill="url(#gb27)"/>
<rect x="1079" y="149" width="716.1" height="11" fill="url(#gb28)"/>
<rect x="1079" y="160" width="716.1" height="12" fill="url(#gb29)"/>
<rect x="1079" y="172" width="716.1" height="15" fill="url(#gb30)"/>
<rect x="1079" y="187" width="716.1" height="17" fill="url(#gb31)"/>
<rect x="1079" y="204" width="716.1" height="17" fill="url(#gb32)"/>
<rect x="1079" y="221" width="716.1" height="20" fill="url(#gb33)"/>
<rect x="1079" y="241" width="716.1" height="23" fill="url(#gb34)"/>
<rect x="1079" y="264" width="716.1" height="23" fill="url(#gb35)"/>
<rect x="1079" y="287" width="716.1" height="25" fill="url(#gb36)"/>
<rect x="1079" y="312" width="716.1" height="28" fill="url(#gb37)"/>
<rect x="1079" y="340" width="716.1" height="27" fill="url(#gb38)"/>
<rect x="1079" y="367" width="716.1" height="28" fill="url(#gb39)"/>
<rect x="1079" y="395" width="716.1" height="29" fill="url(#gb40)"/>
<rect x="1079" y="424" width="716.1" height="28" fill="url(#gb41)"/>
<rect x="1079" y="452" width="716.1" height="30" fill="url(#gb42)"/>
<rect x="1079" y="482" width="716.1" height="30" fill="url(#gb43)"/>
<rect x="1079" y="512" width="716.1" height="15" fill="url(#gb44)"/>
<rect x="1079" y="57" width="716.1" height="469.3" fill="url(#hlb)"/>
<path d="M1079 113 h716.1 M1079 149 h716.1 M1079 160 h716.1 M1079 172 h716.1 M1079 187 h716.1 M1079 204 h716.1 M1079 221 h716.1 M1079 241 h716.1 M1079 264 h716.1 M1079 287 h716.1 M1079 312 h716.1 M1079 340 h716.1 M1079 367 h716.1 M1079 395 h716.1 M1079 424 h716.1 M1079 452 h716.1 M1079 482 h716.1 M1079 512 h716.1" stroke="#fff" stroke-opacity=".1" stroke-width="1" fill="none"/>
<path d="M1576.5 115.1 1574 127.6 1571.5 140.1 1567.7 147.6 1565.2 135.1 1562.7 120.1 1560.2 120.1 1557.7 135.1 1556.5 152.6 1556.5 172.7" fill="none" stroke="#000" stroke-width="4.25" stroke-linejoin="round" stroke-linecap="butt"/>
<path d="M1578.2 145.1 1578.7 160.2" fill="none" stroke="#000" stroke-width="4.25" stroke-linejoin="round" stroke-linecap="butt"/>
<path d="M1748.3 80.3 1746.5 83.1 1744.5 84.9 1742.6 85.6 1741.4 84.9 1740.9 83 1741.3 80.3 1742.6 77.3 1744.4 74.5 1746.4 72.7 1748.2 72 1749.5 72.7 1750 74.6 1749.6 77.3Z" fill="none" stroke="#000" stroke-width="3.06" stroke-linejoin="round" stroke-linecap="butt"/>
<path d="M1754 65 1753.7 65.7 1753 66 1752.2 65.7 1752 65 1752.2 64.3 1753 64 1753.7 64.3Z" fill="none" stroke="#000" stroke-width="2.55" stroke-linejoin="round" stroke-linecap="butt"/>
<path d="M1792.5 60 1792.5 112.6" fill="none" stroke="#000" stroke-width="4.25" stroke-linejoin="round" stroke-linecap="butt"/>
<path d="M1681.6 348.9 1682.9 370.2 1685.4 380.2 1686.6 350.1 1689.1 348.9 1690.4 372.7 1694.1 385.2 1691.6 375.2" fill="none" stroke="#000" stroke-width="4.25" stroke-linejoin="round" stroke-linecap="butt"/>
<path d="M1716.7 348.9 1717.4 376.4" fill="none" stroke="#000" stroke-width="5.1" stroke-linejoin="round" stroke-linecap="butt"/>
<path d="M1540.2 422.7 1540.2 442.7" fill="none" stroke="#000" stroke-width="4.25" stroke-linejoin="round" stroke-linecap="butt"/>
<path d="M1552.7 470.3 1555.2 480.3" fill="none" stroke="#000" stroke-width="4.25" stroke-linejoin="round" stroke-linecap="butt"/>
<path d="M1696.6 422.7 1697.4 469" fill="none" stroke="#000" stroke-width="3.82" stroke-linejoin="round" stroke-linecap="butt"/>
<path d="M1704.1 408.9 1704.1 422.7" fill="none" stroke="#000" stroke-width="3.82" stroke-linejoin="round" stroke-linecap="butt"/>
<path d="M1684.1 405.2 1684.9 426.5 1694.1 425.2" fill="none" stroke="#000" stroke-width="2.55" stroke-linejoin="round" stroke-linecap="butt"/>
<path d="M1709.4 381.4 1709.1 382.1 1708.4 382.4 1707.7 382.1 1707.4 381.4 1707.7 380.7 1708.4 380.4 1709.1 380.7Z" fill="none" stroke="#000" stroke-width="2.55" stroke-linejoin="round" stroke-linecap="butt"/>
<path d="M1653.1 467.4 1652.6 476.8 1652 485.3 1651.3 492 1650.5 496.3 1649.8 497.8 1649.1 496.3 1648.6 491.9 1648.4 485.1 1648.4 476.6 1648.6 467.2 1649 457.8 1649.6 449.3 1650.4 442.5 1651.1 438.2 1651.9 436.8 1652.5 438.3 1653 442.6 1653.3 449.4 1653.3 457.9Z" fill="none" stroke="#000" stroke-width="3.82" stroke-linejoin="round" stroke-linecap="butt"/>
<path d="M1562.7 512.8 1566.5 517.8 1567.7 525.3" fill="none" stroke="#000" stroke-width="5.1" stroke-linejoin="round" stroke-linecap="butt"/>
<path d="M1778.5 522.3 1778.2 523 1777.5 523.3 1776.8 523 1776.5 522.3 1776.8 521.6 1777.5 521.3 1778.2 521.6Z" fill="none" stroke="#000" stroke-width="2.55" stroke-linejoin="round" stroke-linecap="butt"/>
<path d="M1277.8 525.3 1279 520.8 1280.8 520.3 1282.3 525.3" fill="none" stroke="#000" stroke-width="3.82" stroke-linejoin="round" stroke-linecap="butt"/>
<path d="M1315.3 525.3 1317.8 519.8 1320.8 518.3 1321.6 525.3" fill="none" stroke="#000" stroke-width="3.82" stroke-linejoin="round" stroke-linecap="butt"/>
<path d="M1132.6 95.6 1272.8 95.6 1276.5 92.1 1282.8 93.1 1289 91.3 1295.3 88.8 1301.5 86.3 1307.8 82.1 1314.1 78.8 1320.3 78.8 1325.3 77.5 1332.8 75 1342.8 72.5 1357.9 71.3 1370.4 70.5 1382.9 68.8 1395.4 66.3 1405.4 66.3 1413 65 1414.3 71.3 1420 72.5 1432.6 72 1445.1 73.8 1457.6 75 1467.6 77.5 1475.1 80.1 1481.9 86.3 1486.9 83.8 1492.6 86.3 1495.6 80.1 1502.6 82.6 1510.2 81.3 1515.2 76.3 1521.4 74.5 1527.7 77.5 1533.9 84.6 1540.2 80.1 1546.4 86.3 1552.7 83.8 1557.7 80.1 1562.7 75 1566.5 81.3 1570.2 85.1 1575.2 77.5 1580.2 72.5 1584 65 1590.3 66.3 1597.8 65 1607.8 66.3 1617.8 68.8 1627.8 72.5 1636.6 77.5 1642.8 82.6 1649.1 87.6 1655.3 90.1 1661.6 93.8 1666.6 92.6 1670.4 88.8 1672.9 102.6 1674.1 112.6 1677.9 105.1 1681.6 110.1 1685.4 115.1 1686.6 101.3 1689.1 102.6 1692.9 115.1 1696.6 136.4 1698.4 114.3 1715.4 114.6 1740.4 113.8 1765.5 114.6 1793 114.6 M1339.1 232.2 1332.8 227.7 1325.3 224.7 1317.8 219 1310.3 212.7 1304 206.5 1299.8 198.9 1297.8 190.2 1297.3 180.2 1298.3 170.2 1301.5 162.7 1305.3 155.6 1311.6 150.1 1317.8 145.1 1324.1 141.4 1330.3 138.9 1335.3 133.9 1339.1 128.1 1341.6 131.4 1347.8 130.6 1355.4 126.4 1362.9 122.1 1372.9 118.1 1382.9 113.8 1392.9 110.6 1402.9 107.1 1412.9 103.8 1422.9 100.6 1430.5 98.1 1435.6 95.6 1443.1 97.6 1453.1 101.3 1463.1 104.6 1473.1 108.8 1480.6 115.1 1485.6 122.1 1491.9 125.1 1499.4 123.9 1508.1 120.1 1514.4 113.8 1520.7 106.3 1528.2 102.6 1535.2 105.6 1541.4 103.8 1547.7 100.1 1554 98.8 1557.7 92.6 1561.5 87.6 1565.2 93.8 1569 101.3 1574 95.1 1580.2 91.3 1587.7 92.6 1595.3 88.8 1602.8 86.3 1610.3 87.1 1617.8 90.1 1625.3 93.8 1632.8 100.1 1640.3 107.6 1647.8 116.3 1654.1 125.1 1659.1 133.9 1664.1 130.1 1666.6 138.9 1669.1 150.1 1671.6 160.2 1674.1 165.2 1669.1 170.2 1665.3 167.7 1661.6 172.7 1656.6 171.4 1652.8 177.7 1647.8 182.7 1642.8 187.7 1637.8 192.7 1632.8 198.9 1627.8 204 1621.5 210.2 1615.3 216.5 1609 221.5 1602.8 226.5 1596.5 230.2 1590.3 232.7 1582.7 234 1580.2 237.7 1578.2 250.3 1576.5 260.3 1574 266.5 1570.2 266.5 1565.2 262.8 1560.2 257.8 1555.2 251.5 1551.5 244 1547.7 237.7 1543.9 232.7 1537.7 234 1530.2 232.7 1523.2 229 1515.7 225.7 1508.1 224.7 1500.6 224 1493.1 220.7 1485.6 219 1478.1 215.2 1470.6 212.7 1463.1 210.7 1458.1 212.7 1455.6 219.7 1445.6 221.5 1435.6 222.2 1425.5 222.2 1416.8 224 1409.3 224.7 M1540.2 167.7 1545.2 170.2 1547.7 182.7 1550.2 195.2 1552.7 210.2 1556.5 225.2 1562.7 229 1566.5 232.7 1575.2 231.5 1577.7 215.2 1580.2 195.2 1581.5 182.7 1587.7 180.2 1597.8 178.9 1602.8 172.7 1607.8 162.7 1610.3 150.1 1610.3 137.6 1607.8 127.6 1602.8 122.6 1599 123.9 1596.5 132.6 1592.8 140.1 1587.7 142.6 1582.7 148.9 1579 158.9 1577.7 145.1 1579.7 127.6 1580.2 112.6 M1657.8 63.8 1664.1 60 1672.9 60 1679.1 65 1679.1 72.5 1675.4 76.3 1671.6 70 1665.3 66.3 1660.3 67Z M1709.1 63.8 1717.9 60 1730.4 65 1725.4 77.5 1717.9 92.6 1710.4 100.1 1709.1 82.6Z M1759.2 110.1 1760.5 97.6 1765.5 96.3 1768 110.1Z M1142.6 327.4 1272.8 327.4 1276.5 331.6 1282.8 333.4 1290.3 332.9 1295.3 341.6 1301.5 339.1 1307.8 335.4 1314.1 331.6 1317.8 333.4 1320.3 329.1 1325.3 330.4 1330.3 322.9 1335.3 319.1 1340.3 317.8 1342.8 310.3 1347.8 311.6 1352.9 306.6 1360.4 302.8 1370.4 299.8 1380.4 299.1 1391.7 295.3 1400.4 296.6 1407.5 292.8 1415 289.8 1422.5 286.6 1430.1 281.6 1437.6 281.6 1445.6 280.3 1453.1 275.8 1459.3 272.8 1463.1 265.3 1468.1 269 1473.1 267.3 1476.9 270.3 1481.9 266.5 1486.9 275.8 1493.1 272.8 1500.6 276.5 1508.1 277.8 1515.7 278.3 1523.2 281.6 1530.2 284.1 1537.7 286.6 1545.2 282.8 1550.2 289.1 1555.2 287.8 1560.2 294.1 1565.2 301.6 1570.2 305.3 1574 309.1 1576.5 295.3 1579 281.6 1587.7 279 1595.3 274 1602.8 269 1610.3 265.3 1617.8 261.5 1625.3 257.8 1632.8 254 1640.3 250.3 1647.8 245.3 1655.3 240.3 1661.6 234 1666.6 225.2 1670.4 226.5 1674.1 215.2 1677.9 202.7 1679.9 192.7 1681.6 207.7 1684.1 220.2 1687.9 217.7 1702.9 217.2 1715.4 218.2 1727.9 219 1740.4 217.2 1753 217.7 1765.5 217.2 1778 216.7 1793 217.2 M1562.7 525.3 1560.2 512.8 1558.2 497.8 1556.5 482.8 1555.2 467.8 1551.5 476.5 1547.7 472.8 1544.7 470.3 1543.2 457.8 1542.2 440.2 1541.4 422.7 1538.9 442.7 1537.7 420.2 1537.2 402.7 1538.2 390.2 1539.7 380.2 1541.4 395.2 1543.9 397.7 1546.4 386.4 1550.2 375.2 1554 374.7 1557.2 380.2 1560.2 390.2 1564 378.9 1567.7 386.4 1571.5 377.7 1574 385.2 1576.5 367.6 1582.7 357.6 1590.3 355.1 1595.3 345.1 1600.3 343.1 1604 333.9 1609 323.8 1614 315.6 1622.8 313.1 1630.3 317.1 1637.8 314.6 1645.3 317.1 1652.8 322.1 1660.3 323.1 1664.1 320.6 1665.3 335.1 1667.3 350.1 1668.3 370.2 1667.8 400.2 1667.3 439 1670.4 412.7 1672.9 380.2 1677.9 380.2 1677.4 350.1 1675.4 322.6 1672.4 350.1 1671.6 325.1 1672.9 290.1 1679.1 287.5 1682.9 275 1687.9 267 1694.1 270 1701.6 269.5 1710.4 268 1715.4 273.8 1716.7 315.1 1717.4 350.1 1715.4 375.2 1715.4 412.7 1717.9 450.3 1720.4 470.3 1724.2 497.8 1726.7 497.8 1727.9 467.8 1725.4 470.3 1722.9 447.7 1724.2 430.2 1727.9 412.7 1732.9 434 1736.7 412.7 1739.2 405.2 1742.9 397.7 1747.9 380.2 1750.5 360.1 1755.5 335.1 1759.2 315.1 1760.5 300.1 1764.2 290.1 1770.5 286.3 1775.5 281.3 1780.5 290.1 1785.5 302.6 1789.2 290.1 1790.5 275 1793 300.1 M1592.8 525.3 1594 519.1 1599 522.8 1602.8 515.3 1606.5 507.8 1610.3 515.3 1611.5 525.3 M1624 507.8 1626.5 505.3 1629 496.6 1630.3 512.8 1630.8 525.3 M1756.7 525.3 1755.5 510.3 1754.2 496.6 1757.5 487.8 M1777.5 457.3 1783 467.8 1785.5 480.3 1790.5 475.3 1793 472.8" fill="none" stroke="#000" stroke-width="4.2" stroke-linejoin="round" stroke-linecap="butt"/>
<text transform="translate(1097,94.6) rotate(0)" text-anchor="middle" font-size="29.17" y="10.6">0.6</text>
<text transform="translate(1373.4,221.7) rotate(0)" text-anchor="middle" font-size="29.17" y="10.6">1.2</text>
<text transform="translate(1554,123.9) rotate(58)" text-anchor="middle" font-size="29.17" y="10.6">1.8</text>
<text transform="translate(1567.7,196.4) rotate(62)" text-anchor="middle" font-size="29.17" y="10.6">2.4</text>
<text transform="translate(1107,325.4) rotate(0)" text-anchor="middle" font-size="29.17" y="10.6">0.6</text>
<text transform="translate(1695.9,410.2) rotate(82)" text-anchor="middle" font-size="29.17" y="10.6">0.0</text>
<text transform="translate(1771,490.8) rotate(58)" text-anchor="middle" font-size="29.17" y="10.6">0.0</text>
</g>
<rect x="1079" y="57" width="716.1" height="469.3" fill="none" stroke="#000" stroke-width="3.4"/>
<line x1="1064.4" y1="57" x2="1079" y2="57" stroke="#000" stroke-width="3.4"/>
<text x="1049.8" y="68.1" text-anchor="end" font-size="29.17">0</text>
<line x1="1064.4" y1="174.3" x2="1079" y2="174.3" stroke="#000" stroke-width="3.4"/>
<text x="1049.8" y="185.4" text-anchor="end" font-size="29.17">1000</text>
<line x1="1064.4" y1="291.6" x2="1079" y2="291.6" stroke="#000" stroke-width="3.4"/>
<text x="1049.8" y="302.8" text-anchor="end" font-size="29.17">2000</text>
<line x1="1064.4" y1="409" x2="1079" y2="409" stroke="#000" stroke-width="3.4"/>
<text x="1049.8" y="420.1" text-anchor="end" font-size="29.17">3000</text>
<line x1="1064.4" y1="526.3" x2="1079" y2="526.3" stroke="#000" stroke-width="3.4"/>
<text x="1049.8" y="537.4" text-anchor="end" font-size="29.17">4000</text>
<line x1="1204.4" y1="526.3" x2="1204.4" y2="540.9" stroke="#000" stroke-width="3.4"/>
<text x="1204.4" y="577.6" text-anchor="middle" font-size="29.17">−50</text>
<line x1="1414.6" y1="526.3" x2="1414.6" y2="540.9" stroke="#000" stroke-width="3.4"/>
<text x="1414.6" y="577.6" text-anchor="middle" font-size="29.17">0</text>
<line x1="1624.8" y1="526.3" x2="1624.8" y2="540.9" stroke="#000" stroke-width="3.4"/>
<text x="1624.8" y="577.6" text-anchor="middle" font-size="29.17">50</text>
<text x="1078.8" y="32.9" font-size="41.67" font-weight="bold">b</text>
</g>
<g id="panel-c">
<clipPath id="clip-c"><rect x="148" y="691.2" width="716.1" height="469.3"/></clipPath>
<g clip-path="url(#clip-c)">
<defs><linearGradient id="gc0" gradientUnits="userSpaceOnUse" x1="148" y1="0" x2="864.1" y2="0"><stop offset=".000" stop-color="#f4f4f6"/><stop offset=".251" stop-color="#f4f4f6"/><stop offset=".503" stop-color="#f4f4f6"/><stop offset=".687" stop-color="#f2f2f5"/><stop offset=".716" stop-color="#ededf3"/><stop offset=".809" stop-color="#eff0f4"/><stop offset=".825" stop-color="#e9eaf2"/><stop offset=".855" stop-color="#f5f5f6"/><stop offset="1.000" stop-color="#f6f6f7"/></linearGradient><linearGradient id="gc1" gradientUnits="userSpaceOnUse" x1="148" y1="0" x2="864.1" y2="0"><stop offset=".000" stop-color="#f3f3f5"/><stop offset=".251" stop-color="#f3f3f5"/><stop offset=".503" stop-color="#f3f3f5"/><stop offset=".674" stop-color="#f2f2f5"/><stop offset=".708" stop-color="#e5e7f0"/><stop offset=".775" stop-color="#e8e9f1"/><stop offset=".809" stop-color="#eaebf2"/><stop offset=".834" stop-color="#eaebf2"/><stop offset=".855" stop-color="#f4f4f6"/><stop offset="1.000" stop-color="#f6f6f7"/></linearGradient><linearGradient id="gc2" gradientUnits="userSpaceOnUse" x1="148" y1="0" x2="864.1" y2="0"><stop offset=".000" stop-color="#f0f1f4"/><stop offset=".251" stop-color="#f0f1f4"/><stop offset=".503" stop-color="#f0f1f4"/><stop offset=".674" stop-color="#eff0f4"/><stop offset=".700" stop-color="#e1e2ee"/><stop offset=".779" stop-color="#e1e2ee"/><stop offset=".809" stop-color="#e7e8f1"/><stop offset=".829" stop-color="#e7e8f1"/><stop offset=".859" stop-color="#f3f3f5"/><stop offset="1.000" stop-color="#f5f5f6"/></linearGradient><linearGradient id="gc3" gradientUnits="userSpaceOnUse" x1="148" y1="0" x2="864.1" y2="0"><stop offset=".000" stop-color="#eeeef3"/><stop offset=".251" stop-color="#eeeef3"/><stop offset=".503" stop-color="#eeeef3"/><stop offset=".637" stop-color="#ededf3"/><stop offset=".679" stop-color="#e8e9f1"/><stop offset=".695" stop-color="#dddfed"/><stop offset=".746" stop-color="#dddfed"/><stop offset=".779" stop-color="#d8daeb"/><stop offset=".834" stop-color="#e7e8f1"/><stop offset=".859" stop-color="#f2f2f5"/><stop offset="1.000" stop-color="#f5f5f6"/></linearGradient><linearGradient id="gc4" gradientUnits="userSpaceOnUse" x1="148" y1="0" x2="864.1" y2="0"><stop offset=".000" stop-color="#eaebf2"/><stop offset=".251" stop-color="#ebecf3"/><stop offset=".503" stop-color="#e9eaf2"/><stop offset=".628" stop-color="#e9eaf2"/><stop offset=".654" stop-color="#e3e4ef"/><stop offset=".666" stop-color="#e5e7f0"/><stop offset=".691" stop-color="#d7d8ea"/><stop offset=".725" stop-color="#dcddec"/><stop offset=".750" stop-color="#d9dbeb"/><stop offset=".767" stop-color="#cfcfe5"/><stop offset=".788" stop-color="#d4d4e8"/><stop offset=".813" stop-color="#dee0ed"/><stop offset=".834" stop-color="#e4e5f0"/><stop offset=".863" stop-color="#f2f2f5"/><stop offset="1.000" stop-color="#f4f4f6"/></linearGradient><linearGradient id="gc5" gradientUnits="userSpaceOnUse" x1="148" y1="0" x2="864.1" y2="0"><stop offset=".000" stop-color="#e7e8f1"/><stop offset=".251" stop-color="#e9eaf2"/><stop offset=".473" stop-color="#e4e5f0"/><stop offset=".536" stop-color="#e4e5f0"/><stop offset=".582" stop-color="#e8e9f1"/><stop offset=".633" stop-color="#e2e3ef"/><stop offset=".649" stop-color="#d9dbeb"/><stop offset=".662" stop-color="#dddfed"/><stop offset=".674" stop-color="#d7d8ea"/><stop offset=".687" stop-color="#cccbe3"/><stop offset=".712" stop-color="#d1d1e6"/><stop offset=".750" stop-color="#cfcfe5"/><stop offset=".767" stop-color="#c8c6e0"/><stop offset=".783" stop-color="#cbc9e2"/><stop offset=".809" stop-color="#d8daeb"/><stop offset=".838" stop-color="#e4e5f0"/><stop offset=".867" stop-color="#f2f2f5"/><stop offset="1.000" stop-color="#f4f4f6"/></linearGradient><linearGradient id="gc6" gradientUnits="userSpaceOnUse" x1="148" y1="0" x2="864.1" y2="0"><stop offset=".000" stop-color="#e2e3ef"/><stop offset=".214" stop-color="#e4e5f0"/><stop offset=".323" stop-color="#e4e5f0"/><stop offset=".465" stop-color="#dfe1ee"/><stop offset=".511" stop-color="#dcddec"/><stop offset=".582" stop-color="#e3e4ef"/><stop offset=".628" stop-color="#dddfed"/><stop offset=".649" stop-color="#d1d1e6"/><stop offset=".662" stop-color="#d4d4e8"/><stop offset=".683" stop-color="#c2bedc"/><stop offset=".775" stop-color="#c0bddb"/><stop offset=".809" stop-color="#d4d4e8"/><stop offset=".829" stop-color="#dddfed"/><stop offset=".859" stop-color="#eeeef3"/><stop offset=".892" stop-color="#f3f3f5"/><stop offset="1.000" stop-color="#f3f3f5"/></linearGradient><linearGradient id="gc7" gradientUnits="userSpaceOnUse" x1="148" y1="0" x2="864.1" y2="0"><stop offset=".000" stop-color="#dddfed"/><stop offset=".193" stop-color="#dfe1ee"/><stop offset=".281" stop-color="#e2e3ef"/><stop offset=".444" stop-color="#dcddec"/><stop offset=".507" stop-color="#d4d4e8"/><stop offset=".570" stop-color="#dfe1ee"/><stop offset=".628" stop-color="#d8daeb"/><stop offset=".649" stop-color="#c9c8e1"/><stop offset=".662" stop-color="#c9c8e1"/><stop offset=".679" stop-color="#b9b3d6"/><stop offset=".712" stop-color="#ada6ce"/><stop offset=".746" stop-color="#afa8d0"/><stop offset=".775" stop-color="#b9b3d6"/><stop offset=".809" stop-color="#cfcfe5"/><stop offset=".829" stop-color="#d9dbeb"/><stop offset=".855" stop-color="#ededf3"/><stop offset=".884" stop-color="#f2f2f5"/><stop offset="1.000" stop-color="#f3f3f5"/></linearGradient><linearGradient id="gc8" gradientUnits="userSpaceOnUse" x1="148" y1="0" x2="864.1" y2="0"><stop offset=".000" stop-color="#d8daeb"/><stop offset=".189" stop-color="#dadcec"/><stop offset=".243" stop-color="#dee0ed"/><stop offset=".432" stop-color="#d8daeb"/><stop offset=".499" stop-color="#cccbe3"/><stop offset=".524" stop-color="#cecde4"/><stop offset=".561" stop-color="#dadcec"/><stop offset=".591" stop-color="#dadcec"/><stop offset=".633" stop-color="#cfcfe5"/><stop offset=".649" stop-color="#c2bedc"/><stop offset=".662" stop-color="#bfbbda"/><stop offset=".679" stop-color="#aba3cd"/><stop offset=".721" stop-color="#9990bf"/><stop offset=".742" stop-color="#9b92c1"/><stop offset=".783" stop-color="#b7b1d5"/><stop offset=".804" stop-color="#c9c8e1"/><stop offset=".825" stop-color="#d2d3e7"/><stop offset=".846" stop-color="#e7e8f1"/><stop offset=".863" stop-color="#eff0f4"/><stop offset=".909" stop-color="#f2f2f5"/><stop offset="1.000" stop-color="#f2f2f5"/></linearGradient><linearGradient id="gc9" gradientUnits="userSpaceOnUse" x1="148" y1="0" x2="864.1" y2="0"><stop offset=".000" stop-color="#d4d4e8"/><stop offset=".180" stop-color="#d4d4e8"/><stop offset=".201" stop-color="#d9dbeb"/><stop offset=".314" stop-color="#d8daeb"/><stop offset=".402" stop-color="#d5d6e9"/><stop offset=".465" stop-color="#cccbe3"/><stop offset=".499" stop-color="#c6c4df"/><stop offset=".524" stop-color="#c8c6e0"/><stop offset=".570" stop-color="#d8daeb"/><stop offset=".595" stop-color="#d5d6e9"/><stop offset=".637" stop-color="#c5c2de"/><stop offset=".666" stop-color="#afa8d0"/><stop offset=".679" stop-color="#9f96c4"/><stop offset=".691" stop-color="#9b92c1"/><stop offset=".716" stop-color="#8c80b5"/><stop offset=".733" stop-color="#8c80b5"/><stop offset=".762" stop-color="#9d94c2"/><stop offset=".783" stop-color="#afa8d0"/><stop offset=".804" stop-color="#c3c0dd"/><stop offset=".829" stop-color="#d5d6e9"/><stop offset=".855" stop-color="#ededf3"/><stop offset=".888" stop-color="#f2f2f5"/><stop offset="1.000" stop-color="#f2f2f5"/></linearGradient><linearGradient id="gc10" gradientUnits="userSpaceOnUse" x1="148" y1="0" x2="864.1" y2="0"><stop offset=".000" stop-color="#cecde4"/><stop offset=".180" stop-color="#cfcfe5"/><stop offset=".214" stop-color="#d7d8ea"/><stop offset=".302" stop-color="#d5d6e9"/><stop offset=".348" stop-color="#d2d3e7"/><stop offset=".402" stop-color="#cfcfe5"/><stop offset=".473" stop-color="#c5c2de"/><stop offset=".503" stop-color="#bfbbda"/><stop offset=".524" stop-color="#c2bedc"/><stop offset=".570" stop-color="#d4d4e8"/><stop offset=".595" stop-color="#d1d1e6"/><stop offset=".637" stop-color="#bdb9d9"/><stop offset=".658" stop-color="#a9a1cb"/><stop offset=".662" stop-color="#a79fca"/><stop offset=".679" stop-color="#9489bb"/><stop offset=".695" stop-color="#8e82b6"/><stop offset=".721" stop-color="#7e70ab"/><stop offset=".733" stop-color="#8073ac"/><stop offset=".758" stop-color="#9085b8"/><stop offset=".779" stop-color="#a198c5"/><stop offset=".792" stop-color="#b3acd2"/><stop offset=".829" stop-color="#d2d3e7"/><stop offset=".842" stop-color="#e1e2ee"/><stop offset=".863" stop-color="#eff0f4"/><stop offset="1.000" stop-color="#f0f1f4"/></linearGradient><linearGradient id="gc11" gradientUnits="userSpaceOnUse" x1="148" y1="0" x2="864.1" y2="0"><stop offset=".000" stop-color="#cbc9e2"/><stop offset=".172" stop-color="#cbc9e2"/><stop offset=".214" stop-color="#d2d3e7"/><stop offset=".302" stop-color="#d1d1e6"/><stop offset=".344" stop-color="#cccbe3"/><stop offset=".402" stop-color="#cbc9e2"/><stop offset=".507" stop-color="#b9b3d6"/><stop offset=".524" stop-color="#bab5d7"/><stop offset=".570" stop-color="#cfcfe5"/><stop offset=".587" stop-color="#cfcfe5"/><stop offset=".637" stop-color="#b4aed3"/><stop offset=".654" stop-color="#a198c5"/><stop offset=".683" stop-color="#887cb2"/><stop offset=".695" stop-color="#8477af"/><stop offset=".721" stop-color="#7661a4"/><stop offset=".729" stop-color="#745ea2"/><stop offset=".758" stop-color="#867ab0"/><stop offset=".783" stop-color="#9f96c4"/><stop offset=".796" stop-color="#b1aad1"/><stop offset=".825" stop-color="#cccbe3"/><stop offset=".846" stop-color="#e3e4ef"/><stop offset=".863" stop-color="#eeeef3"/><stop offset=".926" stop-color="#f0f1f4"/><stop offset="1.000" stop-color="#f0f1f4"/></linearGradient><linearGradient id="gc12" gradientUnits="userSpaceOnUse" x1="148" y1="0" x2="864.1" y2="0"><stop offset=".000" stop-color="#c6c4df"/><stop offset=".172" stop-color="#c8c6e0"/><stop offset=".230" stop-color="#cfcfe5"/><stop offset=".398" stop-color="#c6c4df"/><stop offset=".511" stop-color="#b1aad1"/><stop offset=".536" stop-color="#b7b1d5"/><stop offset=".570" stop-color="#c9c8e1"/><stop offset=".578" stop-color="#cccbe3"/><stop offset=".595" stop-color="#c6c4df"/><stop offset=".637" stop-color="#a9a1cb"/><stop offset=".654" stop-color="#988dbe"/><stop offset=".666" stop-color="#9085b8"/><stop offset=".679" stop-color="#8073ac"/><stop offset=".704" stop-color="#7661a4"/><stop offset=".721" stop-color="#6b4f9b"/><stop offset=".729" stop-color="#6a4c9a"/><stop offset=".746" stop-color="#745ea2"/><stop offset=".779" stop-color="#9489bb"/><stop offset=".804" stop-color="#b4aed3"/><stop offset=".829" stop-color="#cecde4"/><stop offset=".842" stop-color="#dddfed"/><stop offset=".859" stop-color="#ebecf3"/><stop offset=".905" stop-color="#f0f1f4"/><stop offset="1.000" stop-color="#eff0f4"/></linearGradient><linearGradient id="gc13" gradientUnits="userSpaceOnUse" x1="148" y1="0" x2="864.1" y2="0"><stop offset=".000" stop-color="#c3c0dd"/><stop offset=".172" stop-color="#c5c2de"/><stop offset=".222" stop-color="#cbc9e2"/><stop offset=".306" stop-color="#c8c6e0"/><stop offset=".406" stop-color="#bfbbda"/><stop offset=".511" stop-color="#a9a1cb"/><stop offset=".532" stop-color="#aba3cd"/><stop offset=".570" stop-color="#c3c0dd"/><stop offset=".582" stop-color="#c6c4df"/><stop offset=".603" stop-color="#bab5d7"/><stop offset=".654" stop-color="#9287b9"/><stop offset=".666" stop-color="#867ab0"/><stop offset=".683" stop-color="#745ea2"/><stop offset=".695" stop-color="#70589f"/><stop offset=".721" stop-color="#634094"/><stop offset=".733" stop-color="#634094"/><stop offset=".762" stop-color="#7967a6"/><stop offset=".775" stop-color="#887cb2"/><stop offset=".817" stop-color="#bcb7d8"/><stop offset=".838" stop-color="#d8daeb"/><stop offset=".859" stop-color="#eaebf2"/><stop offset=".892" stop-color="#eff0f4"/><stop offset="1.000" stop-color="#eff0f4"/></linearGradient><linearGradient id="gc14" gradientUnits="userSpaceOnUse" x1="148" y1="0" x2="864.1" y2="0"><stop offset=".000" stop-color="#c0bddb"/><stop offset=".121" stop-color="#c0bddb"/><stop offset=".247" stop-color="#c6c4df"/><stop offset=".369" stop-color="#bfbbda"/><stop offset=".465" stop-color="#ada6ce"/><stop offset=".511" stop-color="#9f96c4"/><stop offset=".536" stop-color="#a39bc7"/><stop offset=".574" stop-color="#bfbbda"/><stop offset=".591" stop-color="#bcb7d8"/><stop offset=".633" stop-color="#9b92c1"/><stop offset=".662" stop-color="#8275ad"/><stop offset=".670" stop-color="#7764a5"/><stop offset=".674" stop-color="#70589f"/><stop offset=".683" stop-color="#6b4f9b"/><stop offset=".695" stop-color="#6a4c9a"/><stop offset=".721" stop-color="#5c348e"/><stop offset=".733" stop-color="#5c348e"/><stop offset=".750" stop-color="#664697"/><stop offset=".767" stop-color="#7661a4"/><stop offset=".779" stop-color="#867ab0"/><stop offset=".813" stop-color="#b3acd2"/><stop offset=".825" stop-color="#c2bedc"/><stop offset=".838" stop-color="#d5d6e9"/><stop offset=".850" stop-color="#e4e5f0"/><stop offset=".867" stop-color="#ededf3"/><stop offset=".930" stop-color="#eff0f4"/><stop offset="1.000" stop-color="#eff0f4"/></linearGradient><linearGradient id="gc15" gradientUnits="userSpaceOnUse" x1="148" y1="0" x2="864.1" y2="0"><stop offset=".000" stop-color="#bcb7d8"/><stop offset=".251" stop-color="#c2bedc"/><stop offset=".331" stop-color="#bdb9d9"/><stop offset=".423" stop-color="#b1aad1"/><stop offset=".507" stop-color="#9990bf"/><stop offset=".536" stop-color="#9b92c1"/><stop offset=".549" stop-color="#a39bc7"/><stop offset=".566" stop-color="#b4aed3"/><stop offset=".582" stop-color="#b9b3d6"/><stop offset=".599" stop-color="#b1aad1"/><stop offset=".624" stop-color="#9990bf"/><stop offset=".645" stop-color="#8a7eb3"/><stop offset=".658" stop-color="#7e70ab"/><stop offset=".674" stop-color="#684998"/><stop offset=".683" stop-color="#634094"/><stop offset=".691" stop-color="#644395"/><stop offset=".721" stop-color="#552889"/><stop offset=".733" stop-color="#572b8a"/><stop offset=".750" stop-color="#5f3a91"/><stop offset=".762" stop-color="#6a4c9a"/><stop offset=".779" stop-color="#7e70ab"/><stop offset=".788" stop-color="#8c80b5"/><stop offset=".821" stop-color="#b9b3d6"/><stop offset=".846" stop-color="#e1e2ee"/><stop offset=".859" stop-color="#eaebf2"/><stop offset=".892" stop-color="#eeeef3"/><stop offset="1.000" stop-color="#eeeef3"/></linearGradient><linearGradient id="gc16" gradientUnits="userSpaceOnUse" x1="148" y1="0" x2="864.1" y2="0"><stop offset=".000" stop-color="#b9b3d6"/><stop offset=".251" stop-color="#bdb9d9"/><stop offset=".318" stop-color="#bab5d7"/><stop offset=".402" stop-color="#afa8d0"/><stop offset=".478" stop-color="#9b92c1"/><stop offset=".524" stop-color="#9489bb"/><stop offset=".545" stop-color="#9990bf"/><stop offset=".570" stop-color="#afa8d0"/><stop offset=".582" stop-color="#b3acd2"/><stop offset=".603" stop-color="#a79fca"/><stop offset=".649" stop-color="#7e70ab"/><stop offset=".662" stop-color="#725ba1"/><stop offset=".670" stop-color="#664697"/><stop offset=".683" stop-color="#5d3790"/><stop offset=".695" stop-color="#5d3790"/><stop offset=".708" stop-color="#552889"/><stop offset=".716" stop-color="#502382"/><stop offset=".733" stop-color="#502382"/><stop offset=".742" stop-color="#532687"/><stop offset=".762" stop-color="#634094"/><stop offset=".771" stop-color="#6b4f9b"/><stop offset=".783" stop-color="#7e70ab"/><stop offset=".796" stop-color="#9287b9"/><stop offset=".817" stop-color="#aba3cd"/><stop offset=".842" stop-color="#dadcec"/><stop offset=".855" stop-color="#e9eaf2"/><stop offset=".901" stop-color="#eeeef3"/><stop offset="1.000" stop-color="#ededf3"/></linearGradient><linearGradient id="gc17" gradientUnits="userSpaceOnUse" x1="148" y1="0" x2="864.1" y2="0"><stop offset=".000" stop-color="#b6b0d4"/><stop offset=".251" stop-color="#bab5d7"/><stop offset=".348" stop-color="#b3acd2"/><stop offset=".465" stop-color="#9990bf"/><stop offset=".511" stop-color="#9287b9"/><stop offset=".540" stop-color="#9489bb"/><stop offset=".557" stop-color="#9d94c2"/><stop offset=".570" stop-color="#a79fca"/><stop offset=".587" stop-color="#aba3cd"/><stop offset=".607" stop-color="#9d94c2"/><stop offset=".645" stop-color="#7d6da9"/><stop offset=".658" stop-color="#70589f"/><stop offset=".670" stop-color="#613d93"/><stop offset=".683" stop-color="#582e8c"/><stop offset=".695" stop-color="#572b8a"/><stop offset=".712" stop-color="#4c1f7b"/><stop offset=".725" stop-color="#491c76"/><stop offset=".742" stop-color="#4d207d"/><stop offset=".754" stop-color="#572b8a"/><stop offset=".767" stop-color="#613d93"/><stop offset=".788" stop-color="#7d6da9"/><stop offset=".800" stop-color="#9085b8"/><stop offset=".817" stop-color="#a59dc8"/><stop offset=".838" stop-color="#cfcfe5"/><stop offset=".842" stop-color="#d9dbeb"/><stop offset=".850" stop-color="#e5e7f0"/><stop offset=".876" stop-color="#eaebf2"/><stop offset="1.000" stop-color="#eaebf2"/></linearGradient><linearGradient id="gc18" gradientUnits="userSpaceOnUse" x1="148" y1="0" x2="864.1" y2="0"><stop offset=".000" stop-color="#b1aad1"/><stop offset=".189" stop-color="#b6b0d4"/><stop offset=".302" stop-color="#b4aed3"/><stop offset=".381" stop-color="#a79fca"/><stop offset=".457" stop-color="#968bbc"/><stop offset=".528" stop-color="#8e82b6"/><stop offset=".540" stop-color="#9085b8"/><stop offset=".557" stop-color="#988dbe"/><stop offset=".574" stop-color="#a39bc7"/><stop offset=".591" stop-color="#a39bc7"/><stop offset=".612" stop-color="#9489bb"/><stop offset=".641" stop-color="#7b6aa8"/><stop offset=".654" stop-color="#70589f"/><stop offset=".670" stop-color="#5c348e"/><stop offset=".679" stop-color="#552889"/><stop offset=".695" stop-color="#502382"/><stop offset=".712" stop-color="#451871"/><stop offset=".725" stop-color="#42156c"/><stop offset=".733" stop-color="#42156c"/><stop offset=".746" stop-color="#4a1d78"/><stop offset=".754" stop-color="#522584"/><stop offset=".767" stop-color="#5c348e"/><stop offset=".775" stop-color="#644395"/><stop offset=".796" stop-color="#8477af"/><stop offset=".817" stop-color="#9f96c4"/><stop offset=".838" stop-color="#cbc9e2"/><stop offset=".846" stop-color="#dddfed"/><stop offset=".859" stop-color="#e3e4ef"/><stop offset="1.000" stop-color="#e8e9f1"/></linearGradient><linearGradient id="gc19" gradientUnits="userSpaceOnUse" x1="148" y1="0" x2="864.1" y2="0"><stop offset=".000" stop-color="#ada6ce"/><stop offset=".189" stop-color="#b3acd2"/><stop offset=".310" stop-color="#afa8d0"/><stop offset=".448" stop-color="#9489bb"/><stop offset=".532" stop-color="#8a7eb3"/><stop offset=".553" stop-color="#9085b8"/><stop offset=".574" stop-color="#9f96c4"/><stop offset=".591" stop-color="#9d94c2"/><stop offset=".603" stop-color="#968bbc"/><stop offset=".633" stop-color="#7b6aa8"/><stop offset=".649" stop-color="#6f559e"/><stop offset=".666" stop-color="#5d3790"/><stop offset=".670" stop-color="#572b8a"/><stop offset=".687" stop-color="#4c1f7b"/><stop offset=".704" stop-color="#44176f"/><stop offset=".716" stop-color="#3c0f63"/><stop offset=".733" stop-color="#3b0e61"/><stop offset=".754" stop-color="#4c1f7b"/><stop offset=".762" stop-color="#532687"/><stop offset=".779" stop-color="#644395"/><stop offset=".796" stop-color="#7d6da9"/><stop offset=".804" stop-color="#8a7eb3"/><stop offset=".817" stop-color="#9990bf"/><stop offset=".825" stop-color="#a9a1cb"/><stop offset=".842" stop-color="#cecde4"/><stop offset=".850" stop-color="#d9dbeb"/><stop offset=".880" stop-color="#dcddec"/><stop offset=".934" stop-color="#dddfed"/><stop offset=".955" stop-color="#e2e3ef"/><stop offset="1.000" stop-color="#e3e4ef"/></linearGradient><linearGradient id="gc20" gradientUnits="userSpaceOnUse" x1="148" y1="0" x2="864.1" y2="0"><stop offset=".000" stop-color="#a79fca"/><stop offset=".096" stop-color="#aba3cd"/><stop offset=".109" stop-color="#ada6ce"/><stop offset=".205" stop-color="#ada6ce"/><stop offset=".218" stop-color="#aba3cd"/><stop offset=".306" stop-color="#a9a1cb"/><stop offset=".385" stop-color="#9990bf"/><stop offset=".532" stop-color="#8477af"/><stop offset=".553" stop-color="#8a7eb3"/><stop offset=".574" stop-color="#988dbe"/><stop offset=".582" stop-color="#9990bf"/><stop offset=".595" stop-color="#968bbc"/><stop offset=".624" stop-color="#7b6aa8"/><stop offset=".654" stop-color="#644395"/><stop offset=".662" stop-color="#5c348e"/><stop offset=".666" stop-color="#552889"/><stop offset=".674" stop-color="#4a1d78"/><stop offset=".704" stop-color="#3c0f63"/><stop offset=".721" stop-color="#320552"/><stop offset=".733" stop-color="#320552"/><stop offset=".750" stop-color="#41146a"/><stop offset=".762" stop-color="#4f2280"/><stop offset=".775" stop-color="#5a318d"/><stop offset=".800" stop-color="#7b6aa8"/><stop offset=".809" stop-color="#887cb2"/><stop offset=".821" stop-color="#9b92c1"/><stop offset=".842" stop-color="#c3c0dd"/><stop offset=".850" stop-color="#cecde4"/><stop offset=".867" stop-color="#d2d3e7"/><stop offset=".930" stop-color="#d4d4e8"/><stop offset=".955" stop-color="#dddfed"/><stop offset="1.000" stop-color="#dee0ed"/></linearGradient><linearGradient id="gc21" gradientUnits="userSpaceOnUse" x1="148" y1="0" x2="864.1" y2="0"><stop offset=".000" stop-color="#a198c5"/><stop offset=".063" stop-color="#a198c5"/><stop offset=".096" stop-color="#a79fca"/><stop offset=".197" stop-color="#a79fca"/><stop offset=".230" stop-color="#a39bc7"/><stop offset=".297" stop-color="#a39bc7"/><stop offset=".390" stop-color="#9489bb"/><stop offset=".494" stop-color="#867ab0"/><stop offset=".536" stop-color="#7e70ab"/><stop offset=".582" stop-color="#9085b8"/><stop offset=".599" stop-color="#887cb2"/><stop offset=".641" stop-color="#664697"/><stop offset=".654" stop-color="#5d3790"/><stop offset=".662" stop-color="#522584"/><stop offset=".674" stop-color="#3f1268"/><stop offset=".687" stop-color="#390c5e"/><stop offset=".700" stop-color="#360959"/><stop offset=".708" stop-color="#2f024d"/><stop offset=".737" stop-color="#2d004b"/><stop offset=".746" stop-color="#330655"/><stop offset=".771" stop-color="#522584"/><stop offset=".775" stop-color="#552889"/><stop offset=".792" stop-color="#684998"/><stop offset=".809" stop-color="#8073ac"/><stop offset=".846" stop-color="#c0bddb"/><stop offset=".863" stop-color="#cccbe3"/><stop offset=".930" stop-color="#cfcfe5"/><stop offset=".951" stop-color="#d9dbeb"/><stop offset="1.000" stop-color="#dcddec"/></linearGradient><linearGradient id="gc22" gradientUnits="userSpaceOnUse" x1="148" y1="0" x2="864.1" y2="0"><stop offset=".000" stop-color="#9b92c1"/><stop offset=".075" stop-color="#9d94c2"/><stop offset=".130" stop-color="#a39bc7"/><stop offset=".184" stop-color="#a39bc7"/><stop offset=".218" stop-color="#9d94c2"/><stop offset=".314" stop-color="#9b92c1"/><stop offset=".415" stop-color="#8c80b5"/><stop offset=".482" stop-color="#8477af"/><stop offset=".532" stop-color="#7967a6"/><stop offset=".553" stop-color="#7b6aa8"/><stop offset=".570" stop-color="#8275ad"/><stop offset=".591" stop-color="#8275ad"/><stop offset=".599" stop-color="#7e70ab"/><stop offset=".628" stop-color="#664697"/><stop offset=".641" stop-color="#613d93"/><stop offset=".654" stop-color="#552889"/><stop offset=".658" stop-color="#502382"/><stop offset=".670" stop-color="#390c5e"/><stop offset=".679" stop-color="#320552"/><stop offset=".708" stop-color="#2d004b"/><stop offset=".746" stop-color="#2d004b"/><stop offset=".775" stop-color="#502382"/><stop offset=".783" stop-color="#5a318d"/><stop offset=".796" stop-color="#684998"/><stop offset=".817" stop-color="#8a7eb3"/><stop offset=".838" stop-color="#a9a1cb"/><stop offset=".855" stop-color="#c6c4df"/><stop offset=".867" stop-color="#cccbe3"/><stop offset=".934" stop-color="#cfcfe5"/><stop offset=".955" stop-color="#d9dbeb"/><stop offset="1.000" stop-color="#dadcec"/></linearGradient><linearGradient id="gc23" gradientUnits="userSpaceOnUse" x1="148" y1="0" x2="864.1" y2="0"><stop offset=".000" stop-color="#988dbe"/><stop offset=".071" stop-color="#988dbe"/><stop offset=".101" stop-color="#9d94c2"/><stop offset=".189" stop-color="#9d94c2"/><stop offset=".222" stop-color="#988dbe"/><stop offset=".323" stop-color="#968bbc"/><stop offset=".415" stop-color="#887cb2"/><stop offset=".482" stop-color="#8073ac"/><stop offset=".532" stop-color="#725ba1"/><stop offset=".557" stop-color="#745ea2"/><stop offset=".574" stop-color="#7967a6"/><stop offset=".591" stop-color="#7967a6"/><stop offset=".603" stop-color="#725ba1"/><stop offset=".633" stop-color="#5d3790"/><stop offset=".645" stop-color="#572b8a"/><stop offset=".649" stop-color="#532687"/><stop offset=".662" stop-color="#3f1268"/><stop offset=".670" stop-color="#300350"/><stop offset=".674" stop-color="#2d004b"/><stop offset=".750" stop-color="#2d004b"/><stop offset=".775" stop-color="#4d207d"/><stop offset=".783" stop-color="#552889"/><stop offset=".800" stop-color="#684998"/><stop offset=".817" stop-color="#8477af"/><stop offset=".825" stop-color="#9287b9"/><stop offset=".838" stop-color="#a198c5"/><stop offset=".846" stop-color="#b6b0d4"/><stop offset=".855" stop-color="#c5c2de"/><stop offset=".863" stop-color="#cbc9e2"/><stop offset=".930" stop-color="#cecde4"/><stop offset=".959" stop-color="#d9dbeb"/><stop offset="1.000" stop-color="#dadcec"/></linearGradient><linearGradient id="gc24" gradientUnits="userSpaceOnUse" x1="148" y1="0" x2="864.1" y2="0"><stop offset=".000" stop-color="#9489bb"/><stop offset=".088" stop-color="#968bbc"/><stop offset=".130" stop-color="#9990bf"/><stop offset=".180" stop-color="#9990bf"/><stop offset=".214" stop-color="#9489bb"/><stop offset=".335" stop-color="#9085b8"/><stop offset=".406" stop-color="#8477af"/><stop offset=".461" stop-color="#8073ac"/><stop offset=".503" stop-color="#7764a5"/><stop offset=".532" stop-color="#6b4f9b"/><stop offset=".561" stop-color="#6d529c"/><stop offset=".578" stop-color="#70589f"/><stop offset=".591" stop-color="#70589f"/><stop offset=".603" stop-color="#6b4f9b"/><stop offset=".628" stop-color="#5a318d"/><stop offset=".641" stop-color="#532687"/><stop offset=".654" stop-color="#471a74"/><stop offset=".666" stop-color="#300350"/><stop offset=".670" stop-color="#2d004b"/><stop offset=".754" stop-color="#2f024d"/><stop offset=".771" stop-color="#44176f"/><stop offset=".788" stop-color="#552889"/><stop offset=".804" stop-color="#684998"/><stop offset=".821" stop-color="#8477af"/><stop offset=".838" stop-color="#9d94c2"/><stop offset=".846" stop-color="#b3acd2"/><stop offset=".855" stop-color="#c2bedc"/><stop offset=".863" stop-color="#c8c6e0"/><stop offset=".905" stop-color="#cccbe3"/><stop offset=".934" stop-color="#cecde4"/><stop offset=".964" stop-color="#d8daeb"/><stop offset="1.000" stop-color="#d8daeb"/></linearGradient><linearGradient id="gc25" gradientUnits="userSpaceOnUse" x1="148" y1="0" x2="864.1" y2="0"><stop offset=".000" stop-color="#8e82b6"/><stop offset=".147" stop-color="#9489bb"/><stop offset=".318" stop-color="#8c80b5"/><stop offset=".411" stop-color="#8073ac"/><stop offset=".461" stop-color="#7d6da9"/><stop offset=".503" stop-color="#745ea2"/><stop offset=".524" stop-color="#6a4c9a"/><stop offset=".532" stop-color="#644395"/><stop offset=".557" stop-color="#644395"/><stop offset=".574" stop-color="#684998"/><stop offset=".595" stop-color="#684998"/><stop offset=".616" stop-color="#5d3790"/><stop offset=".633" stop-color="#532687"/><stop offset=".649" stop-color="#451871"/><stop offset=".658" stop-color="#3b0e61"/><stop offset=".666" stop-color="#2d004b"/><stop offset=".754" stop-color="#2d004b"/><stop offset=".762" stop-color="#360959"/><stop offset=".783" stop-color="#4f2280"/><stop offset=".796" stop-color="#5a318d"/><stop offset=".804" stop-color="#634094"/><stop offset=".825" stop-color="#867ab0"/><stop offset=".838" stop-color="#9b92c1"/><stop offset=".850" stop-color="#b7b1d5"/><stop offset=".859" stop-color="#c2bedc"/><stop offset=".871" stop-color="#c9c8e1"/><stop offset=".934" stop-color="#cccbe3"/><stop offset=".959" stop-color="#d4d4e8"/><stop offset="1.000" stop-color="#d5d6e9"/></linearGradient><linearGradient id="gc26" gradientUnits="userSpaceOnUse" x1="148" y1="0" x2="864.1" y2="0"><stop offset=".000" stop-color="#8a7eb3"/><stop offset=".168" stop-color="#9085b8"/><stop offset=".239" stop-color="#8a7eb3"/><stop offset=".327" stop-color="#887cb2"/><stop offset=".394" stop-color="#7d6da9"/><stop offset=".448" stop-color="#7b6aa8"/><stop offset=".490" stop-color="#745ea2"/><stop offset=".515" stop-color="#6b4f9b"/><stop offset=".532" stop-color="#613d93"/><stop offset=".561" stop-color="#5f3a91"/><stop offset=".574" stop-color="#613d93"/><stop offset=".599" stop-color="#613d93"/><stop offset=".620" stop-color="#572b8a"/><stop offset=".641" stop-color="#491c76"/><stop offset=".654" stop-color="#3c0f63"/><stop offset=".662" stop-color="#300350"/><stop offset=".666" stop-color="#2d004b"/><stop offset=".758" stop-color="#2d004b"/><stop offset=".783" stop-color="#4c1f7b"/><stop offset=".796" stop-color="#572b8a"/><stop offset=".813" stop-color="#6a4c9a"/><stop offset=".825" stop-color="#8073ac"/><stop offset=".850" stop-color="#b6b0d4"/><stop offset=".859" stop-color="#c0bddb"/><stop offset=".871" stop-color="#c8c6e0"/><stop offset=".943" stop-color="#cccbe3"/><stop offset=".972" stop-color="#d1d1e6"/><stop offset="1.000" stop-color="#d1d1e6"/></linearGradient><linearGradient id="gc27" gradientUnits="userSpaceOnUse" x1="148" y1="0" x2="864.1" y2="0"><stop offset=".000" stop-color="#867ab0"/><stop offset=".193" stop-color="#8a7eb3"/><stop offset=".272" stop-color="#867ab0"/><stop offset=".327" stop-color="#8477af"/><stop offset=".394" stop-color="#7967a6"/><stop offset=".452" stop-color="#7764a5"/><stop offset=".494" stop-color="#70589f"/><stop offset=".524" stop-color="#644395"/><stop offset=".528" stop-color="#613d93"/><stop offset=".553" stop-color="#5d3790"/><stop offset=".599" stop-color="#5c348e"/><stop offset=".616" stop-color="#552889"/><stop offset=".645" stop-color="#41146a"/><stop offset=".658" stop-color="#330655"/><stop offset=".662" stop-color="#2d004b"/><stop offset=".758" stop-color="#2d004b"/><stop offset=".783" stop-color="#491c76"/><stop offset=".796" stop-color="#552889"/><stop offset=".813" stop-color="#644395"/><stop offset=".829" stop-color="#867ab0"/><stop offset=".850" stop-color="#b6b0d4"/><stop offset=".859" stop-color="#c0bddb"/><stop offset=".880" stop-color="#c8c6e0"/><stop offset="1.000" stop-color="#cecde4"/></linearGradient><linearGradient id="gc28" gradientUnits="userSpaceOnUse" x1="148" y1="0" x2="864.1" y2="0"><stop offset=".000" stop-color="#7e70ab"/><stop offset=".214" stop-color="#8073ac"/><stop offset=".226" stop-color="#7e70ab"/><stop offset=".310" stop-color="#7e70ab"/><stop offset=".364" stop-color="#7661a4"/><stop offset=".394" stop-color="#70589f"/><stop offset=".444" stop-color="#725ba1"/><stop offset=".494" stop-color="#6b4f9b"/><stop offset=".536" stop-color="#5d3790"/><stop offset=".599" stop-color="#552889"/><stop offset=".628" stop-color="#471a74"/><stop offset=".645" stop-color="#3b0e61"/><stop offset=".658" stop-color="#2d004b"/><stop offset=".762" stop-color="#2d004b"/><stop offset=".775" stop-color="#3c0f63"/><stop offset=".792" stop-color="#4f2280"/><stop offset=".804" stop-color="#582e8c"/><stop offset=".817" stop-color="#634094"/><stop offset=".829" stop-color="#8073ac"/><stop offset=".846" stop-color="#ada6ce"/><stop offset=".855" stop-color="#bcb7d8"/><stop offset=".859" stop-color="#c0bddb"/><stop offset=".934" stop-color="#c5c2de"/><stop offset="1.000" stop-color="#c6c4df"/></linearGradient><linearGradient id="gc29" gradientUnits="userSpaceOnUse" x1="148" y1="0" x2="864.1" y2="0"><stop offset=".000" stop-color="#745ea2"/><stop offset=".251" stop-color="#745ea2"/><stop offset=".318" stop-color="#745ea2"/><stop offset=".360" stop-color="#6b4f9b"/><stop offset=".390" stop-color="#634094"/><stop offset=".402" stop-color="#634094"/><stop offset=".415" stop-color="#684998"/><stop offset=".452" stop-color="#6a4c9a"/><stop offset=".511" stop-color="#613d93"/><stop offset=".536" stop-color="#5a318d"/><stop offset=".578" stop-color="#532687"/><stop offset=".612" stop-color="#491c76"/><stop offset=".637" stop-color="#390c5e"/><stop offset=".645" stop-color="#330655"/><stop offset=".649" stop-color="#2f024d"/><stop offset=".762" stop-color="#2d004b"/><stop offset=".783" stop-color="#451871"/><stop offset=".800" stop-color="#532687"/><stop offset=".809" stop-color="#582e8c"/><stop offset=".817" stop-color="#5d3790"/><stop offset=".821" stop-color="#644395"/><stop offset=".834" stop-color="#887cb2"/><stop offset=".846" stop-color="#a79fca"/><stop offset=".859" stop-color="#b4aed3"/><stop offset=".934" stop-color="#b7b1d5"/><stop offset="1.000" stop-color="#bfbbda"/></linearGradient><linearGradient id="gc30" gradientUnits="userSpaceOnUse" x1="148" y1="0" x2="864.1" y2="0"><stop offset=".000" stop-color="#6d529c"/><stop offset=".251" stop-color="#6d529c"/><stop offset=".297" stop-color="#6d529c"/><stop offset=".339" stop-color="#664697"/><stop offset=".364" stop-color="#5f3a91"/><stop offset=".394" stop-color="#5d3790"/><stop offset=".423" stop-color="#613d93"/><stop offset=".482" stop-color="#5f3a91"/><stop offset=".553" stop-color="#532687"/><stop offset=".595" stop-color="#4a1d78"/><stop offset=".624" stop-color="#3c0f63"/><stop offset=".637" stop-color="#350857"/><stop offset=".645" stop-color="#2d004b"/><stop offset=".758" stop-color="#2d004b"/><stop offset=".783" stop-color="#4a1d78"/><stop offset=".796" stop-color="#552889"/><stop offset=".813" stop-color="#5c348e"/><stop offset=".821" stop-color="#634094"/><stop offset=".829" stop-color="#7661a4"/><stop offset=".834" stop-color="#8275ad"/><stop offset=".846" stop-color="#a39bc7"/><stop offset=".855" stop-color="#b1aad1"/><stop offset=".867" stop-color="#b6b0d4"/><stop offset=".959" stop-color="#b6b0d4"/><stop offset="1.000" stop-color="#b7b1d5"/></linearGradient><linearGradient id="gc31" gradientUnits="userSpaceOnUse" x1="148" y1="0" x2="864.1" y2="0"><stop offset=".000" stop-color="#664697"/><stop offset=".251" stop-color="#664697"/><stop offset=".297" stop-color="#664697"/><stop offset=".356" stop-color="#5c348e"/><stop offset=".402" stop-color="#5a318d"/><stop offset=".469" stop-color="#582e8c"/><stop offset=".499" stop-color="#552889"/><stop offset=".578" stop-color="#4c1f7b"/><stop offset=".620" stop-color="#3e1165"/><stop offset=".645" stop-color="#2d004b"/><stop offset=".750" stop-color="#2d004b"/><stop offset=".758" stop-color="#360959"/><stop offset=".783" stop-color="#552889"/><stop offset=".796" stop-color="#5f3a91"/><stop offset=".813" stop-color="#613d93"/><stop offset=".821" stop-color="#6d529c"/><stop offset=".829" stop-color="#8073ac"/><stop offset=".850" stop-color="#b3acd2"/><stop offset=".863" stop-color="#bab5d7"/><stop offset=".922" stop-color="#bab5d7"/><stop offset="1.000" stop-color="#bcb7d8"/></linearGradient><linearGradient id="gc32" gradientUnits="userSpaceOnUse" x1="148" y1="0" x2="864.1" y2="0"><stop offset=".000" stop-color="#613d93"/><stop offset=".251" stop-color="#613d93"/><stop offset=".306" stop-color="#613d93"/><stop offset=".348" stop-color="#582e8c"/><stop offset=".423" stop-color="#532687"/><stop offset=".566" stop-color="#4c1f7b"/><stop offset=".591" stop-color="#491c76"/><stop offset=".612" stop-color="#451871"/><stop offset=".645" stop-color="#330655"/><stop offset=".654" stop-color="#2d004b"/><stop offset=".737" stop-color="#2f024d"/><stop offset=".746" stop-color="#390c5e"/><stop offset=".771" stop-color="#532687"/><stop offset=".783" stop-color="#613d93"/><stop offset=".813" stop-color="#7967a6"/><stop offset=".834" stop-color="#9990bf"/><stop offset=".850" stop-color="#b7b1d5"/><stop offset=".859" stop-color="#bdb9d9"/><stop offset=".997" stop-color="#c0bddb"/><stop offset="1.000" stop-color="#bfbbda"/></linearGradient><linearGradient id="gc33" gradientUnits="userSpaceOnUse" x1="148" y1="0" x2="864.1" y2="0"><stop offset=".000" stop-color="#684998"/><stop offset=".251" stop-color="#684998"/><stop offset=".297" stop-color="#644395"/><stop offset=".327" stop-color="#5d3790"/><stop offset=".385" stop-color="#5c348e"/><stop offset=".465" stop-color="#5a318d"/><stop offset=".478" stop-color="#582e8c"/><stop offset=".519" stop-color="#582e8c"/><stop offset=".545" stop-color="#5c348e"/><stop offset=".570" stop-color="#552889"/><stop offset=".599" stop-color="#502382"/><stop offset=".624" stop-color="#491c76"/><stop offset=".654" stop-color="#380b5c"/><stop offset=".666" stop-color="#2f024d"/><stop offset=".708" stop-color="#2d004b"/><stop offset=".758" stop-color="#552889"/><stop offset=".804" stop-color="#7e70ab"/><stop offset=".825" stop-color="#9489bb"/><stop offset=".838" stop-color="#9b92c1"/><stop offset=".867" stop-color="#9085b8"/><stop offset=".947" stop-color="#9287b9"/><stop offset=".959" stop-color="#a198c5"/><stop offset=".980" stop-color="#a79fca"/><stop offset="1.000" stop-color="#a9a1cb"/></linearGradient><linearGradient id="gc34" gradientUnits="userSpaceOnUse" x1="148" y1="0" x2="864.1" y2="0"><stop offset=".000" stop-color="#6f559e"/><stop offset=".251" stop-color="#6f559e"/><stop offset=".302" stop-color="#6d529c"/><stop offset=".348" stop-color="#644395"/><stop offset=".373" stop-color="#664697"/><stop offset=".411" stop-color="#6b4f9b"/><stop offset=".469" stop-color="#6b4f9b"/><stop offset=".473" stop-color="#6a4c9a"/><stop offset=".486" stop-color="#6b4f9b"/><stop offset=".524" stop-color="#6d529c"/><stop offset=".536" stop-color="#6f559e"/><stop offset=".603" stop-color="#5f3a91"/><stop offset=".637" stop-color="#532687"/><stop offset=".666" stop-color="#491c76"/><stop offset=".700" stop-color="#491c76"/><stop offset=".725" stop-color="#502382"/><stop offset=".733" stop-color="#552889"/><stop offset=".750" stop-color="#5f3a91"/><stop offset=".788" stop-color="#8073ac"/><stop offset=".817" stop-color="#988dbe"/><stop offset=".842" stop-color="#b6b0d4"/><stop offset=".871" stop-color="#b9b3d6"/><stop offset="1.000" stop-color="#bab5d7"/></linearGradient><linearGradient id="gc35" gradientUnits="userSpaceOnUse" x1="148" y1="0" x2="864.1" y2="0"><stop offset=".000" stop-color="#7b6aa8"/><stop offset=".251" stop-color="#7967a6"/><stop offset=".348" stop-color="#7967a6"/><stop offset=".406" stop-color="#8073ac"/><stop offset=".461" stop-color="#8477af"/><stop offset=".536" stop-color="#9489bb"/><stop offset=".570" stop-color="#8073ac"/><stop offset=".628" stop-color="#6f559e"/><stop offset=".658" stop-color="#684998"/><stop offset=".683" stop-color="#5f3a91"/><stop offset=".708" stop-color="#634094"/><stop offset=".721" stop-color="#664697"/><stop offset=".767" stop-color="#887cb2"/><stop offset=".796" stop-color="#a198c5"/><stop offset=".842" stop-color="#cfcfe5"/><stop offset=".855" stop-color="#d7d8ea"/><stop offset="1.000" stop-color="#d8daeb"/></linearGradient><linearGradient id="gc36" gradientUnits="userSpaceOnUse" x1="148" y1="0" x2="864.1" y2="0"><stop offset=".000" stop-color="#887cb2"/><stop offset=".251" stop-color="#887cb2"/><stop offset=".331" stop-color="#8a7eb3"/><stop offset=".369" stop-color="#9489bb"/><stop offset=".390" stop-color="#9990bf"/><stop offset=".461" stop-color="#9b92c1"/><stop offset=".507" stop-color="#a79fca"/><stop offset=".545" stop-color="#a59dc8"/><stop offset=".587" stop-color="#9489bb"/><stop offset=".654" stop-color="#887cb2"/><stop offset=".712" stop-color="#887cb2"/><stop offset=".779" stop-color="#aba3cd"/><stop offset=".829" stop-color="#d1d1e6"/><stop offset=".850" stop-color="#eff0f4"/><stop offset=".859" stop-color="#f4f4f6"/><stop offset="1.000" stop-color="#f4f4f6"/></linearGradient><linearGradient id="gc37" gradientUnits="userSpaceOnUse" x1="148" y1="0" x2="864.1" y2="0"><stop offset=".000" stop-color="#9990bf"/><stop offset=".209" stop-color="#968bbc"/><stop offset=".323" stop-color="#988dbe"/><stop offset=".402" stop-color="#ada6ce"/><stop offset=".473" stop-color="#b9b3d6"/><stop offset=".540" stop-color="#cbc9e2"/><stop offset=".570" stop-color="#bdb9d9"/><stop offset=".599" stop-color="#b4aed3"/><stop offset=".687" stop-color="#aba3cd"/><stop offset=".716" stop-color="#ada6ce"/><stop offset=".783" stop-color="#c6c4df"/><stop offset=".821" stop-color="#d8daeb"/><stop offset=".850" stop-color="#f5f5f6"/><stop offset="1.000" stop-color="#f7f7f6"/></linearGradient><linearGradient id="gc38" gradientUnits="userSpaceOnUse" x1="148" y1="0" x2="864.1" y2="0"><stop offset=".000" stop-color="#aba3cd"/><stop offset=".251" stop-color="#aba3cd"/><stop offset=".310" stop-color="#afa8d0"/><stop offset=".406" stop-color="#c0bddb"/><stop offset=".452" stop-color="#c6c4df"/><stop offset=".494" stop-color="#cfcfe5"/><stop offset=".633" stop-color="#cecde4"/><stop offset=".654" stop-color="#cccbe3"/><stop offset=".687" stop-color="#c6c4df"/><stop offset=".733" stop-color="#cbc9e2"/><stop offset=".825" stop-color="#eaebf2"/><stop offset=".850" stop-color="#f6f6f7"/><stop offset="1.000" stop-color="#f7f7f6"/></linearGradient><linearGradient id="gc39" gradientUnits="userSpaceOnUse" x1="148" y1="0" x2="864.1" y2="0"><stop offset=".000" stop-color="#bcb7d8"/><stop offset=".251" stop-color="#bcb7d8"/><stop offset=".344" stop-color="#c6c4df"/><stop offset=".385" stop-color="#cfcfe5"/><stop offset=".457" stop-color="#cfcfe5"/><stop offset=".536" stop-color="#d4d4e8"/><stop offset=".700" stop-color="#d7d8ea"/><stop offset=".775" stop-color="#e5e7f0"/><stop offset=".838" stop-color="#f6f6f7"/><stop offset="1.000" stop-color="#f7f7f6"/></linearGradient><linearGradient id="gc40" gradientUnits="userSpaceOnUse" x1="148" y1="0" x2="864.1" y2="0"><stop offset=".000" stop-color="#c9c8e1"/><stop offset=".251" stop-color="#cbc9e2"/><stop offset=".394" stop-color="#d4d4e8"/><stop offset=".645" stop-color="#dcddec"/><stop offset=".733" stop-color="#e8e9f1"/><stop offset=".804" stop-color="#f6f6f7"/><stop offset="1.000" stop-color="#f7f7f6"/></linearGradient><linearGradient id="gc41" gradientUnits="userSpaceOnUse" x1="148" y1="0" x2="864.1" y2="0"><stop offset=".000" stop-color="#d9dbeb"/><stop offset=".251" stop-color="#d9dbeb"/><stop offset=".503" stop-color="#dadcec"/><stop offset=".620" stop-color="#dee0ed"/><stop offset=".712" stop-color="#ededf3"/><stop offset=".758" stop-color="#f7f7f6"/><stop offset=".980" stop-color="#f7f7f6"/><stop offset=".993" stop-color="#f7f6f3"/><stop offset="1.000" stop-color="#f7f6f3"/></linearGradient><linearGradient id="gc42" gradientUnits="userSpaceOnUse" x1="148" y1="0" x2="864.1" y2="0"><stop offset=".000" stop-color="#e5e7f0"/><stop offset=".251" stop-color="#e5e7f0"/><stop offset=".503" stop-color="#dddfed"/><stop offset=".603" stop-color="#dfe1ee"/><stop offset=".750" stop-color="#f7f7f6"/><stop offset=".792" stop-color="#f8f5f1"/><stop offset=".892" stop-color="#f7f6f3"/><stop offset=".901" stop-color="#f7f7f6"/><stop offset=".913" stop-color="#f7f6f3"/><stop offset="1.000" stop-color="#f8f5f1"/></linearGradient><linearGradient id="gc43" gradientUnits="userSpaceOnUse" x1="148" y1="0" x2="864.1" y2="0"><stop offset=".000" stop-color="#ededf3"/><stop offset=".251" stop-color="#ededf3"/><stop offset=".427" stop-color="#e7e8f1"/><stop offset=".528" stop-color="#dddfed"/><stop offset=".607" stop-color="#dfe1ee"/><stop offset=".737" stop-color="#f7f7f6"/><stop offset=".783" stop-color="#f8f4ee"/><stop offset=".922" stop-color="#f7f7f6"/><stop offset="1.000" stop-color="#f7f6f3"/></linearGradient><linearGradient id="gc44" gradientUnits="userSpaceOnUse" x1="148" y1="0" x2="864.1" y2="0"><stop offset=".000" stop-color="#f2f2f5"/><stop offset=".251" stop-color="#f2f2f5"/><stop offset=".419" stop-color="#eff0f4"/><stop offset=".478" stop-color="#e1e2ee"/><stop offset=".603" stop-color="#dadcec"/><stop offset=".649" stop-color="#eaebf2"/><stop offset=".737" stop-color="#f7f7f6"/><stop offset=".750" stop-color="#f7f6f3"/><stop offset=".917" stop-color="#f7f6f3"/><stop offset=".930" stop-color="#f7f7f6"/><stop offset="1.000" stop-color="#f7f6f3"/></linearGradient><pattern id="hlc" patternUnits="userSpaceOnUse" x="150.4" y="0" width="8.4" height="16"><rect x="0" y="0" width="1" height="16" fill="#fff" opacity=".15"/><rect x="2.1" y="0" width="1" height="16" fill="#fff" opacity=".15"/><rect x="4.2" y="0" width="1" height="16" fill="#fff" opacity=".07"/><rect x="6.3" y="0" width="1" height="16" fill="#fff" opacity=".04"/></pattern></defs>
<rect x="148" y="691" width="716.1" height="3" fill="url(#gc0)"/>
<rect x="148" y="694" width="716.1" height="3" fill="url(#gc1)"/>
<rect x="148" y="697" width="716.1" height="3" fill="url(#gc2)"/>
<rect x="148" y="700" width="716.1" height="3" fill="url(#gc3)"/>
<rect x="148" y="703" width="716.1" height="3" fill="url(#gc4)"/>
<rect x="148" y="706" width="716.1" height="3" fill="url(#gc5)"/>
<rect x="148" y="709" width="716.1" height="3" fill="url(#gc6)"/>
<rect x="148" y="712" width="716.1" height="3" fill="url(#gc7)"/>
<rect x="148" y="715" width="716.1" height="3" fill="url(#gc8)"/>
<rect x="148" y="718" width="716.1" height="3" fill="url(#gc9)"/>
<rect x="148" y="721" width="716.1" height="3" fill="url(#gc10)"/>
<rect x="148" y="724" width="716.1" height="3" fill="url(#gc11)"/>
<rect x="148" y="727" width="716.1" height="3" fill="url(#gc12)"/>
<rect x="148" y="730" width="716.1" height="3" fill="url(#gc13)"/>
<rect x="148" y="733" width="716.1" height="3" fill="url(#gc14)"/>
<rect x="148" y="736" width="716.1" height="3" fill="url(#gc15)"/>
<rect x="148" y="739" width="716.1" height="3" fill="url(#gc16)"/>
<rect x="148" y="742" width="716.1" height="3" fill="url(#gc17)"/>
<rect x="148" y="745" width="716.1" height="3" fill="url(#gc18)"/>
<rect x="148" y="748" width="716.1" height="3" fill="url(#gc19)"/>
<rect x="148" y="751" width="716.1" height="4" fill="url(#gc20)"/>
<rect x="148" y="755" width="716.1" height="4" fill="url(#gc21)"/>
<rect x="148" y="759" width="716.1" height="4" fill="url(#gc22)"/>
<rect x="148" y="763" width="716.1" height="4" fill="url(#gc23)"/>
<rect x="148" y="767" width="716.1" height="4" fill="url(#gc24)"/>
<rect x="148" y="771" width="716.1" height="4" fill="url(#gc25)"/>
<rect x="148" y="775" width="716.1" height="4" fill="url(#gc26)"/>
<rect x="148" y="779" width="716.1" height="4" fill="url(#gc27)"/>
<rect x="148" y="783" width="716.1" height="11" fill="url(#gc28)"/>
<rect x="148" y="794" width="716.1" height="13" fill="url(#gc29)"/>
<rect x="148" y="807" width="716.1" height="14" fill="url(#gc30)"/>
<rect x="148" y="821" width="716.1" height="17" fill="url(#gc31)"/>
<rect x="148" y="838" width="716.1" height="17" fill="url(#gc32)"/>
<rect x="148" y="855" width="716.1" height="20" fill="url(#gc33)"/>
<rect x="148" y="875" width="716.1" height="23" fill="url(#gc34)"/>
<rect x="148" y="898" width="716.1" height="24" fill="url(#gc35)"/>
<rect x="148" y="922" width="716.1" height="25" fill="url(#gc36)"/>
<rect x="148" y="947" width="716.1" height="27" fill="url(#gc37)"/>
<rect x="148" y="974" width="716.1" height="28" fill="url(#gc38)"/>
<rect x="148" y="1002" width="716.1" height="27" fill="url(#gc39)"/>
<rect x="148" y="1029" width="716.1" height="29" fill="url(#gc40)"/>
<rect x="148" y="1058" width="716.1" height="28" fill="url(#gc41)"/>
<rect x="148" y="1086" width="716.1" height="30" fill="url(#gc42)"/>
<rect x="148" y="1116" width="716.1" height="31" fill="url(#gc43)"/>
<rect x="148" y="1147" width="716.1" height="14" fill="url(#gc44)"/>
<rect x="148" y="691.2" width="716.1" height="469.3" fill="url(#hlc)"/>
<path d="M148 748 h716.1 M148 783 h716.1 M148 794 h716.1 M148 807 h716.1 M148 821 h716.1 M148 838 h716.1 M148 855 h716.1 M148 875 h716.1 M148 898 h716.1 M148 922 h716.1 M148 947 h716.1 M148 974 h716.1 M148 1002 h716.1 M148 1029 h716.1 M148 1058 h716.1 M148 1086 h716.1 M148 1116 h716.1 M148 1147 h716.1" stroke="#fff" stroke-opacity=".1" stroke-width="1" fill="none"/>
<ellipse cx="535.5" cy="697" rx="7.5" ry="3.5" fill="#000"/>
<path d="M602.7 812.7 601.4 820.2 600.2 826.4 604 830.2 602.7 837.7" fill="none" stroke="#000" stroke-width="5" stroke-linejoin="round" stroke-linecap="butt" stroke-dasharray="15.5 6.7"/>
<path d="M629 811.4 629.6 817.7" fill="none" stroke="#000" stroke-width="4" stroke-linejoin="round" stroke-linecap="butt" stroke-dasharray="15.5 6.7"/>
<path d="M784 703.8 790.2 697.5 799 696.3 801.5 701.3 797.8 707.5 794 706.3 790.2 707.5 787.7 711.3Z" fill="none" stroke="#000" stroke-width="4.6" stroke-linejoin="round" stroke-linecap="butt"/>
<path d="M814 693.8 815.3 703.8 816.5 710 822.8 711.3 826.6 717.6 829.1 726.3 830.3 737.6 830.9 747.6" fill="none" stroke="#000" stroke-width="4.6" stroke-linejoin="round" stroke-linecap="butt"/>
<path d="M814 695 840.3 695.6 862.9 695" fill="none" stroke="#000" stroke-width="4.6" stroke-linejoin="round" stroke-linecap="butt"/>
<path d="M851.6 706.3 851 708.7 849.2 710.7 846.7 711.8 843.9 711.8 841.4 710.7 839.7 708.7 839.1 706.3 839.7 703.8 841.4 701.9 843.9 700.8 846.7 700.8 849.2 701.9 851 703.8Z" fill="none" stroke="#000" stroke-width="4" stroke-linejoin="round" stroke-linecap="butt"/>
<path d="M860.4 732.6 859.6 734.5 857.5 736 854.5 736.8 851.2 736.8 848.2 736 846.1 734.5 845.3 732.6 846.1 730.7 848.2 729.2 851.2 728.3 854.5 728.3 857.5 729.2 859.6 730.7Z" fill="none" stroke="#000" stroke-width="4" stroke-linejoin="round" stroke-linecap="butt"/>
<path d="M852.8 695 853.5 710 854.1 745.1" fill="none" stroke="#000" stroke-width="5" stroke-linejoin="round" stroke-linecap="butt"/>
<path d="M859.1 700 859.7 742.6" fill="none" stroke="#000" stroke-width="5" stroke-linejoin="round" stroke-linecap="butt"/>
<path d="M843 721.1 842.7 721.6 842.2 721.8 841.7 721.6 841.5 721.1 841.7 720.5 842.2 720.3 842.7 720.5Z" fill="none" stroke="#000" stroke-width="3" stroke-linejoin="round" stroke-linecap="butt"/>
<path d="M832.2 1159 831.6 1147.8 830.3 1132.7 827.8 1131.5 827.2 1110.2 825.3 1085.2 823.4 1072.6 822.2 1078.9 820.3 1092.7 815.9 1097.7 815.3 1110.2 814.7 1131.5 794 1131.5 793.4 1116.5 792.1 1102.1 789 1101.4 787.7 1085.2 785.9 1060.1 784 1035.1 782.7 1017.6 783.4 1010 785.2 1002.5 787.7 1020.1 791.5 1008.8 794 1028.2 797.8 1028.8 799 1016.3 800.9 1000.7 802.8 1010 805.3 1006.3 807.8 1001.3 810.3 1016.3 812.2 1025.1 813.4 997.5 812.8 995.3 814 982.8 817.8 970.2 820.3 959 812.8 951.5 806.5 958.3 801.5 959 797.8 951.5 794 942.7 792.7 933.3 765.2 933.3 755.8 933.9 756.4 945.2 757.1 970.2 758.3 995.3 760.2 997.5 757.7 1010 758.3 1022.6 760.2 1010 762.1 1016.3 763.3 1005 765.2 1006.3 767.7 1022.6 768.3 1047.6 767.7 1072.6 767.1 1102.7 764.6 1102.7 764 1085.2 762.7 1072.6 758.3 1072.6 757.1 1060.1 755.2 1041.3 752.7 1031.1 744.5 1030.7 743.9 1015 740.8 1016.3 740.2 1035.1 738.9 1060.1 736.4 1073.3 733.9 1062.6 731.4 1047.6 728.9 1034.5 726.4 1042.6 722.6 1041.3 719.5 1037.6 717 1050.1 715.7 1066.4 713.2 1067.6 710.7 1070.8 708.9 1066.4 706.4 1058.9 705.1 1062.6 703.9 1058.9 700.1 1057 696.3 1060.1 692.6 1065.1 687.6 1067.6 683.2 1068.3 681.9 1072.6 680.1 1085.2 676.9 1097.7 675.7 1110.2 674.4 1122.7 672.6 1112.7 670.7 1122.7 667.5 1141.5 663.8 1159" fill="none" stroke="#000" stroke-width="4.6" stroke-linejoin="round" stroke-linecap="butt"/>
<path d="M671.3 1159 672.6 1135.2 675.1 1116.5 676.3 1159" fill="none" stroke="#000" stroke-width="6" stroke-linejoin="round" stroke-linecap="butt"/>
<path d="M750.8 987.5 751.4 1007.5" fill="none" stroke="#000" stroke-width="4.6" stroke-linejoin="round" stroke-linecap="butt"/>
<path d="M771.5 1043.8 772.7 1071.4 774 1041.3" fill="none" stroke="#000" stroke-width="4.6" stroke-linejoin="round" stroke-linecap="butt"/>
<path d="M707.6 1159 708.2 1143.8 824.7 1143.8 826.6 1159" fill="none" stroke="#000" stroke-width="4.6" stroke-linejoin="round" stroke-linecap="butt"/>
<path d="M827.8 1072.6 829.1 1047.6 832.8 1045.1 834.1 1030.1 836.6 1041.3 839.1 1066.4 841 1093.9 842.8 1072.6 845.3 1088.9 847.8 1047.6 851.6 1085.2 854.1 1102.7 856.6 1072.6 858.5 1041.3 861.6 1045.1 862.9 1078.9" fill="none" stroke="#000" stroke-width="4.6" stroke-linejoin="round" stroke-linecap="butt"/>
<path d="M826.6 1078.9 830.3 1091.4 833.4 1110.2 832.8 1159" fill="none" stroke="#000" stroke-width="4.6" stroke-linejoin="round" stroke-linecap="butt"/>
<path d="M827.8 1131.5 830.3 1159" fill="none" stroke="#000" stroke-width="6" stroke-linejoin="round" stroke-linecap="butt"/>
<path d="M841 1126.5 841 1146.5" fill="none" stroke="#000" stroke-width="5" stroke-linejoin="round" stroke-linecap="butt"/>
<path d="M741.4 1015 743.9 1015 744.5 1030.1 742 1030.1" fill="none" stroke="#000" stroke-width="6" stroke-linejoin="round" stroke-linecap="butt"/>
<path d="M764 1072.6 765.2 1102.7" fill="none" stroke="#000" stroke-width="6" stroke-linejoin="round" stroke-linecap="butt"/>
<path d="M824 932.7 834.1 931.4 833.4 952.7 827.8 965.2 824.7 957.7Z" fill="none" stroke="#000" stroke-width="5" stroke-linejoin="round" stroke-linecap="butt"/>
<path d="M829.1 935.2 829.1 957.7" fill="none" stroke="#000" stroke-width="8" stroke-linejoin="round" stroke-linecap="butt"/>
<path d="M862.9 933.9 862.9 940.2" fill="none" stroke="#000" stroke-width="5" stroke-linejoin="round" stroke-linecap="butt"/>
<path d="M862.9 979 862.9 986.5" fill="none" stroke="#000" stroke-width="5" stroke-linejoin="round" stroke-linecap="butt"/>
<path d="M750.8 986.5 750.8 1003" fill="none" stroke="#000" stroke-width="4.6" stroke-linejoin="round" stroke-linecap="butt"/>
<path d="M755.2 959 755.2 964" fill="none" stroke="#000" stroke-width="5" stroke-linejoin="round" stroke-linecap="butt"/>
<path d="M150 720.1 276.4 720.1 M372.8 724.6 390.3 725.1 415.3 724.6 440.4 722.6 465.4 720.1 490.4 716.3 510.5 714.5 525.5 716.3 540.5 721.3 553 726.3 563 728.8 570.5 726.3 580.6 720.1 590.6 717.5 603.8 717.5 607.6 711.3 613.9 706.3 616.4 712.5 622.7 713.8 630.2 708.8 640.2 703.8 650.2 701.3 656.3 701.3 677.6 700.7 690.1 701.9 702.6 703.8 715.1 706.3 721.4 712.5 727.6 716.3 737.7 715 740.2 722.6 743.9 732.6 746.4 735.1 750.2 726.3 756.4 718.8 753.9 726.3 757.7 735.1 760.2 743.8 765.2 751.4 767.7 753.9 770.2 747.6 830.3 747.6 829.1 757.6 829.1 778.9 835.3 783.9 840.3 782.7 862.9 782.7 M746.4 735.1 747.2 750.1 746.7 762.6 M750.4 832.7 750.8 841.5 751.4 845 752.7 855.1 757.7 857.6 765.2 853.8 777.7 850.7 790.2 849 802.8 848.5 812.8 850 820.3 853.8 827.8 860.1 835.3 860.1 840.3 858.8 862.9 858.8 M862.9 870.1 842.8 870.1 835.3 868.8 829.1 866.3 825.3 872.6 817.8 876.3 809 878.8 796.5 877 784 875.7 771.5 873.8 758.9 871.3 752.7 868.8 750.2 870.1 748.9 876.3 746.4 882.6 747.7 887.6 750.2 892.6 751.4 896.4 755.2 898.9 765.2 900.8 777.7 902.6 790.2 903.6 802.8 904.5 815.3 905.1 821.5 903.3 826.6 898.9 834.1 900.8 846.6 901.1 862.9 900.8 M751.4 896.4 750.2 907.6 747.7 917.7 743.9 926.4 741.4 935.2 738.9 945.2 735.2 954 730.1 957.7 725.1 960.2 721.4 959 715.1 966.5 710.1 972.7 705.1 974 698.8 980.3 692.6 979 687.6 982.8 680.1 987.8 672.6 994 665 997.8 658.8 999 652.5 997.2 645 1000.3 640 1000.9 635.2 1004.2 627.7 999.1 620.2 992.9 615.1 989.1 610.1 986.6 600.1 989.1 590.1 990.4 582.6 986.6 575.1 985.4 565.1 984.1 555.1 980.4 545.1 975.4 537.5 971.6 535 960.4 535.5 958.8 528 966.3 520.5 973.8 510.5 978.8 497.9 981.4 485.4 997.6 470.4 1008.9 465.4 1017.6 461.7 1008.9 452.9 1010.1 447.9 1013.9 437.9 1017.6 430.4 1013.9 422.9 1006.4 415.3 1010.1 412.8 1027.7 409.1 1038.9 402.8 1030.2 395.3 1036.4 387.8 1031.4 380.3 1033.9 374 1040.2 367.8 1051.4 360.3 1055.2 352.8 1048.9 345.3 1045.2 340.3 1053.2 275.2 1053.2 M178.8 1053.2 150 1053.2 M150 763.9 200.1 763.9 M297.7 763.9 340.3 763.9 347.8 762.6 355.3 764.6 365.3 763.1 377.8 761.4 395.3 758.8 407.8 753.8 415.3 754.6 427.9 752.6 440.4 750.1 465.4 745.1 490.4 741.3 510.5 737.1 525.5 735.1 535.5 738.1 545.5 743.8 553 751.3 560.5 755.1 570.5 754.6 580.6 748.8 590.6 738.8 603.8 733.8 610.1 730.1 617.6 725.1 622.7 728.8 630.2 721.3 635.2 717.5 640.2 722.6 640 721.3 652.5 716.3 665 714.4 677.6 715.7 690.1 718.8 702.6 723.8 710.1 727.6 715.1 735.1 721.4 740.1 727.6 745.1 731.4 743.8 735.2 750.1 738.9 760.1 742.7 767.6 746.4 762.6 747.7 772.6 748.3 785.2 748.9 797.7 749.9 810.2 750.2 822.7 750.2 829 746.4 835.2 743.9 841.5 743.9 847.8 746.4 845 743.9 857.6 740.2 870.1 737.7 876.3 735.2 885.1 732.7 891.4 727.6 896.4 721.4 897.6 715.1 901.4 711.4 910.1 707.6 917.7 702.6 923.9 695.1 926.4 686.3 931.4 677.6 936.4 668.8 942.7 660 949 652.5 949 645 947.7 640 947.1 580.1 942.8 570.1 940.3 560.1 935.3 550.1 930.3 545.1 926.6 540.1 920.3 535 916.5 531.3 907.8 525.5 916.5 515.5 921.6 500.5 916.5 497.9 921.6 485.4 926.6 470.4 935.3 460.4 930.3 450.4 934.1 435.4 931.6 422.9 931.6 415.3 937.8 410.3 946.6 400.3 950.3 390.3 957.8 377.8 961.6 365.3 966.6 357.8 964.1 350.3 962.9 342.8 964.9 222.6 964.9 M431.6 800.2 420.4 807.7 405.3 815.2 390.3 825.2 380.3 837.7 374 845.2 375.3 865.2 382.8 872.7 392.8 879 405.3 882.8 411.6 880.3 412.8 874 427.9 872.7 450.4 869 465.4 871.5 485.4 876.5 505.5 877.7 525.5 874 534.2 866.5 540.5 870.2 550.5 877.7 565.5 881.5 580.6 886.5 593.1 892.8 603.8 897.8 610.1 897.8 620.2 900.3 627.7 905.3 635.2 909 645.2 909 655.2 907.8 658.8 907 667.5 902.6 675.1 896.4 682.6 888.9 690.1 880.1 695.1 872.6 700.1 863.8 703.9 853.8 706.4 845 710.1 837.5 715.1 831.3 717.6 822.5 718.9 821.5 721.4 822.7 726.4 829 731.4 831.5 732.7 826.5 735.8 820.2 736.4 812.7 735.8 805.2 734.5 797.7 732.7 790.2 730.1 782.7 727.6 785.2 725.1 780.2 721.4 770.1 715.1 763.9 710.1 756.4 702.6 748.9 695.1 742.6 687.6 738.8 680.1 735.1 671.3 731.3 662.5 732 655 735.1 647.5 740.1 640 742.6 636.5 736.3 631.5 738.8 627.7 745 624 751.3 619 753.8 615.2 761.3 610.2 761.3 604 763.2 598.9 763.8 595.2 768.8 588.9 770.1 585.2 775.1 578.9 778.2 570.1 778.8 561.4 778.8 555.1 777 550.1 775.1 546.4 778.2 541.3 773.8 532.6 773.8 525.1 775.1 M635.3 761.3 641.5 766.3 646.5 767 650.3 763.8 657.8 756.9 665.3 753.8 672.8 753.2 679.1 757.6 685.3 766.3 690.3 776.3 692.8 786.4 693.5 797.6 691.6 810.1 687.8 822.7 682.8 832.7 676.6 841.4 669.1 850.2 661.5 859 654 865.2 646.5 865.9 639 862.7 634 859 631.5 865.2 629 875.3 626.5 866.5 622.7 857.7 619 847.7 615.2 837.7 611.5 830.2 609 825.2 611.5 815.2 615.2 805.1 619 797.6 621.5 790.1 624 780.1 626.5 770.1 630.2 762.6Z M791.6 800.2 782.9 807.7 780.4 815.2 784.1 820.2 790.4 823.9 797.9 827.7 801.6 820.2 801.6 810.2 797.9 803.9Z" fill="none" stroke="#000" stroke-width="4.4" stroke-linejoin="round" stroke-linecap="butt" stroke-dasharray="15.5 6.7"/>
<text transform="translate(325.2,719.5) rotate(0)" text-anchor="middle" font-size="29.17" y="10.6">−2.5</text>
<text transform="translate(226.4,1051.7) rotate(0)" text-anchor="middle" font-size="29.17" y="10.6">−2.5</text>
<text transform="translate(248.9,763.4) rotate(0)" text-anchor="middle" font-size="29.17" y="10.6">−5.0</text>
<text transform="translate(173.8,963.6) rotate(0)" text-anchor="middle" font-size="29.17" y="10.6">−5.0</text>
<text transform="translate(476.9,783.1) rotate(14)" text-anchor="middle" font-size="29.17" y="10.6">−7.5</text>
</g>
<rect x="148" y="691.2" width="716.1" height="469.3" fill="none" stroke="#000" stroke-width="3.4"/>
<line x1="133.4" y1="691.2" x2="148" y2="691.2" stroke="#000" stroke-width="3.4"/>
<text x="118.8" y="702.3" text-anchor="end" font-size="29.17">0</text>
<line x1="133.4" y1="808.5" x2="148" y2="808.5" stroke="#000" stroke-width="3.4"/>
<text x="118.8" y="819.6" text-anchor="end" font-size="29.17">1000</text>
<line x1="133.4" y1="925.9" x2="148" y2="925.9" stroke="#000" stroke-width="3.4"/>
<text x="118.8" y="937" text-anchor="end" font-size="29.17">2000</text>
<line x1="133.4" y1="1043.2" x2="148" y2="1043.2" stroke="#000" stroke-width="3.4"/>
<text x="118.8" y="1054.3" text-anchor="end" font-size="29.17">3000</text>
<line x1="133.4" y1="1160.5" x2="148" y2="1160.5" stroke="#000" stroke-width="3.4"/>
<text x="118.8" y="1171.6" text-anchor="end" font-size="29.17">4000</text>
<line x1="273.4" y1="1160.5" x2="273.4" y2="1175.1" stroke="#000" stroke-width="3.4"/>
<text x="273.4" y="1211.8" text-anchor="middle" font-size="29.17">−50</text>
<line x1="483.6" y1="1160.5" x2="483.6" y2="1175.1" stroke="#000" stroke-width="3.4"/>
<text x="483.6" y="1211.8" text-anchor="middle" font-size="29.17">0</text>
<line x1="693.8" y1="1160.5" x2="693.8" y2="1175.1" stroke="#000" stroke-width="3.4"/>
<text x="693.8" y="1211.8" text-anchor="middle" font-size="29.17">50</text>
<text x="147.8" y="667.1" font-size="41.67" font-weight="bold">c</text>
<text transform="translate(21.6,925.9) rotate(-90)" text-anchor="middle" font-size="29.17">Depth (m)</text>
<text x="506.1" y="1257.3" text-anchor="middle" font-size="29.17">Latitude (degrees)</text>
</g>
<g id="panel-d">
<clipPath id="clip-d"><rect x="1079" y="691.2" width="716.1" height="469.3"/></clipPath>
<g clip-path="url(#clip-d)">
<defs><linearGradient id="gd0" gradientUnits="userSpaceOnUse" x1="1079" y1="0" x2="1795.1" y2="0"><stop offset=".000" stop-color="#f4f4f6"/><stop offset=".251" stop-color="#f4f4f6"/><stop offset=".503" stop-color="#f4f4f6"/><stop offset=".754" stop-color="#f2f2f5"/><stop offset=".809" stop-color="#f0f1f4"/><stop offset=".825" stop-color="#ebecf3"/><stop offset=".859" stop-color="#f6f6f7"/><stop offset="1.000" stop-color="#f6f6f7"/></linearGradient><linearGradient id="gd1" gradientUnits="userSpaceOnUse" x1="1079" y1="0" x2="1795.1" y2="0"><stop offset=".000" stop-color="#f3f3f5"/><stop offset=".251" stop-color="#f3f3f5"/><stop offset=".503" stop-color="#f3f3f5"/><stop offset=".700" stop-color="#f2f2f5"/><stop offset=".733" stop-color="#ededf3"/><stop offset=".809" stop-color="#ededf3"/><stop offset=".829" stop-color="#ebecf3"/><stop offset=".859" stop-color="#f5f5f6"/><stop offset="1.000" stop-color="#f6f6f7"/></linearGradient><linearGradient id="gd2" gradientUnits="userSpaceOnUse" x1="1079" y1="0" x2="1795.1" y2="0"><stop offset=".000" stop-color="#f2f2f5"/><stop offset=".251" stop-color="#f2f2f5"/><stop offset=".503" stop-color="#f2f2f5"/><stop offset=".695" stop-color="#f0f1f4"/><stop offset=".716" stop-color="#e9eaf2"/><stop offset=".767" stop-color="#e5e7f0"/><stop offset=".783" stop-color="#e5e7f0"/><stop offset=".838" stop-color="#ededf3"/><stop offset=".871" stop-color="#f5f5f6"/><stop offset="1.000" stop-color="#f5f5f6"/></linearGradient><linearGradient id="gd3" gradientUnits="userSpaceOnUse" x1="1079" y1="0" x2="1795.1" y2="0"><stop offset=".000" stop-color="#eff0f4"/><stop offset=".251" stop-color="#eff0f4"/><stop offset=".503" stop-color="#eff0f4"/><stop offset=".674" stop-color="#eeeef3"/><stop offset=".700" stop-color="#eaebf2"/><stop offset=".716" stop-color="#e3e4ef"/><stop offset=".783" stop-color="#dfe1ee"/><stop offset=".871" stop-color="#f4f4f6"/><stop offset="1.000" stop-color="#f5f5f6"/></linearGradient><linearGradient id="gd4" gradientUnits="userSpaceOnUse" x1="1079" y1="0" x2="1795.1" y2="0"><stop offset=".000" stop-color="#ededf3"/><stop offset=".251" stop-color="#ededf3"/><stop offset=".503" stop-color="#ededf3"/><stop offset=".616" stop-color="#ededf3"/><stop offset=".654" stop-color="#e5e7f0"/><stop offset=".674" stop-color="#e8e9f1"/><stop offset=".704" stop-color="#e1e2ee"/><stop offset=".716" stop-color="#dcddec"/><stop offset=".779" stop-color="#d9dbeb"/><stop offset=".834" stop-color="#e8e9f1"/><stop offset=".871" stop-color="#f4f4f6"/><stop offset="1.000" stop-color="#f5f5f6"/></linearGradient><linearGradient id="gd5" gradientUnits="userSpaceOnUse" x1="1079" y1="0" x2="1795.1" y2="0"><stop offset=".000" stop-color="#e8e9f1"/><stop offset=".155" stop-color="#eaebf2"/><stop offset=".406" stop-color="#eaebf2"/><stop offset=".616" stop-color="#e9eaf2"/><stop offset=".649" stop-color="#dddfed"/><stop offset=".670" stop-color="#e1e2ee"/><stop offset=".704" stop-color="#d8daeb"/><stop offset=".708" stop-color="#d4d4e8"/><stop offset=".742" stop-color="#d1d1e6"/><stop offset=".783" stop-color="#d5d6e9"/><stop offset=".867" stop-color="#f3f3f5"/><stop offset="1.000" stop-color="#f4f4f6"/></linearGradient><linearGradient id="gd6" gradientUnits="userSpaceOnUse" x1="1079" y1="0" x2="1795.1" y2="0"><stop offset=".000" stop-color="#e4e5f0"/><stop offset=".142" stop-color="#e8e9f1"/><stop offset=".197" stop-color="#e4e5f0"/><stop offset=".398" stop-color="#e8e9f1"/><stop offset=".532" stop-color="#e4e5f0"/><stop offset=".595" stop-color="#e8e9f1"/><stop offset=".637" stop-color="#dddfed"/><stop offset=".649" stop-color="#d8daeb"/><stop offset=".674" stop-color="#d8daeb"/><stop offset=".700" stop-color="#d1d1e6"/><stop offset=".708" stop-color="#c9c8e1"/><stop offset=".733" stop-color="#c5c2de"/><stop offset=".771" stop-color="#cccbe3"/><stop offset=".804" stop-color="#d9dbeb"/><stop offset=".829" stop-color="#e2e3ef"/><stop offset=".863" stop-color="#f2f2f5"/><stop offset="1.000" stop-color="#f4f4f6"/></linearGradient><linearGradient id="gd7" gradientUnits="userSpaceOnUse" x1="1079" y1="0" x2="1795.1" y2="0"><stop offset=".000" stop-color="#dfe1ee"/><stop offset=".063" stop-color="#e1e2ee"/><stop offset=".121" stop-color="#e5e7f0"/><stop offset=".205" stop-color="#dfe1ee"/><stop offset=".377" stop-color="#e5e7f0"/><stop offset=".528" stop-color="#dfe1ee"/><stop offset=".591" stop-color="#e5e7f0"/><stop offset=".628" stop-color="#dcddec"/><stop offset=".649" stop-color="#d2d3e7"/><stop offset=".674" stop-color="#d1d1e6"/><stop offset=".687" stop-color="#cccbe3"/><stop offset=".695" stop-color="#c9c8e1"/><stop offset=".716" stop-color="#bcb7d8"/><stop offset=".742" stop-color="#bcb7d8"/><stop offset=".829" stop-color="#dfe1ee"/><stop offset=".859" stop-color="#f0f1f4"/><stop offset=".922" stop-color="#f4f4f6"/><stop offset="1.000" stop-color="#f4f4f6"/></linearGradient><linearGradient id="gd8" gradientUnits="userSpaceOnUse" x1="1079" y1="0" x2="1795.1" y2="0"><stop offset=".000" stop-color="#dcddec"/><stop offset=".063" stop-color="#dddfed"/><stop offset=".105" stop-color="#e2e3ef"/><stop offset=".209" stop-color="#dcddec"/><stop offset=".272" stop-color="#dddfed"/><stop offset=".339" stop-color="#e3e4ef"/><stop offset=".478" stop-color="#dddfed"/><stop offset=".519" stop-color="#dadcec"/><stop offset=".582" stop-color="#e3e4ef"/><stop offset=".616" stop-color="#dddfed"/><stop offset=".658" stop-color="#cccbe3"/><stop offset=".695" stop-color="#c0bddb"/><stop offset=".716" stop-color="#b3acd2"/><stop offset=".737" stop-color="#b3acd2"/><stop offset=".779" stop-color="#c3c0dd"/><stop offset=".829" stop-color="#dee0ed"/><stop offset=".859" stop-color="#f0f1f4"/><stop offset=".905" stop-color="#f3f3f5"/><stop offset="1.000" stop-color="#f3f3f5"/></linearGradient><linearGradient id="gd9" gradientUnits="userSpaceOnUse" x1="1079" y1="0" x2="1795.1" y2="0"><stop offset=".000" stop-color="#d8daeb"/><stop offset=".067" stop-color="#dadcec"/><stop offset=".101" stop-color="#dfe1ee"/><stop offset=".155" stop-color="#dddfed"/><stop offset=".184" stop-color="#d8daeb"/><stop offset=".281" stop-color="#dadcec"/><stop offset=".344" stop-color="#e1e2ee"/><stop offset=".478" stop-color="#d9dbeb"/><stop offset=".524" stop-color="#d7d8ea"/><stop offset=".578" stop-color="#e1e2ee"/><stop offset=".616" stop-color="#d9dbeb"/><stop offset=".654" stop-color="#c6c4df"/><stop offset=".700" stop-color="#b6b0d4"/><stop offset=".721" stop-color="#a79fca"/><stop offset=".737" stop-color="#a9a1cb"/><stop offset=".775" stop-color="#bcb7d8"/><stop offset=".842" stop-color="#e5e7f0"/><stop offset=".859" stop-color="#f0f1f4"/><stop offset=".922" stop-color="#f3f3f5"/><stop offset="1.000" stop-color="#f3f3f5"/></linearGradient><linearGradient id="gd10" gradientUnits="userSpaceOnUse" x1="1079" y1="0" x2="1795.1" y2="0"><stop offset=".000" stop-color="#d5d6e9"/><stop offset=".063" stop-color="#d7d8ea"/><stop offset=".105" stop-color="#dddfed"/><stop offset=".159" stop-color="#d9dbeb"/><stop offset=".180" stop-color="#d5d6e9"/><stop offset=".272" stop-color="#d7d8ea"/><stop offset=".339" stop-color="#dee0ed"/><stop offset=".448" stop-color="#d8daeb"/><stop offset=".519" stop-color="#d1d1e6"/><stop offset=".574" stop-color="#dee0ed"/><stop offset=".607" stop-color="#d8daeb"/><stop offset=".674" stop-color="#b7b1d5"/><stop offset=".691" stop-color="#b4aed3"/><stop offset=".721" stop-color="#9f96c4"/><stop offset=".733" stop-color="#9f96c4"/><stop offset=".767" stop-color="#b1aad1"/><stop offset=".842" stop-color="#e4e5f0"/><stop offset=".859" stop-color="#f0f1f4"/><stop offset=".993" stop-color="#f3f3f5"/><stop offset="1.000" stop-color="#f2f2f5"/></linearGradient><linearGradient id="gd11" gradientUnits="userSpaceOnUse" x1="1079" y1="0" x2="1795.1" y2="0"><stop offset=".000" stop-color="#d2d3e7"/><stop offset=".067" stop-color="#d5d6e9"/><stop offset=".088" stop-color="#d9dbeb"/><stop offset=".159" stop-color="#d7d8ea"/><stop offset=".180" stop-color="#d2d3e7"/><stop offset=".272" stop-color="#d4d4e8"/><stop offset=".323" stop-color="#dadcec"/><stop offset=".364" stop-color="#dadcec"/><stop offset=".444" stop-color="#d5d6e9"/><stop offset=".515" stop-color="#cccbe3"/><stop offset=".540" stop-color="#d1d1e6"/><stop offset=".566" stop-color="#dadcec"/><stop offset=".591" stop-color="#dadcec"/><stop offset=".612" stop-color="#d2d3e7"/><stop offset=".658" stop-color="#b9b3d6"/><stop offset=".687" stop-color="#ada6ce"/><stop offset=".695" stop-color="#aba3cd"/><stop offset=".708" stop-color="#9d94c2"/><stop offset=".721" stop-color="#968bbc"/><stop offset=".737" stop-color="#988dbe"/><stop offset=".758" stop-color="#a39bc7"/><stop offset=".846" stop-color="#e7e8f1"/><stop offset=".863" stop-color="#f0f1f4"/><stop offset="1.000" stop-color="#f2f2f5"/></linearGradient><linearGradient id="gd12" gradientUnits="userSpaceOnUse" x1="1079" y1="0" x2="1795.1" y2="0"><stop offset=".000" stop-color="#d1d1e6"/><stop offset=".071" stop-color="#d4d4e8"/><stop offset=".105" stop-color="#d7d8ea"/><stop offset=".159" stop-color="#d4d4e8"/><stop offset=".209" stop-color="#cfcfe5"/><stop offset=".268" stop-color="#d1d1e6"/><stop offset=".344" stop-color="#d9dbeb"/><stop offset=".444" stop-color="#d1d1e6"/><stop offset=".519" stop-color="#c6c4df"/><stop offset=".557" stop-color="#d4d4e8"/><stop offset=".570" stop-color="#d9dbeb"/><stop offset=".595" stop-color="#d7d8ea"/><stop offset=".641" stop-color="#bcb7d8"/><stop offset=".683" stop-color="#a79fca"/><stop offset=".691" stop-color="#a59dc8"/><stop offset=".716" stop-color="#9085b8"/><stop offset=".729" stop-color="#8c80b5"/><stop offset=".746" stop-color="#9287b9"/><stop offset=".775" stop-color="#a9a1cb"/><stop offset=".838" stop-color="#dfe1ee"/><stop offset=".859" stop-color="#eeeef3"/><stop offset=".913" stop-color="#f2f2f5"/><stop offset="1.000" stop-color="#f2f2f5"/></linearGradient><linearGradient id="gd13" gradientUnits="userSpaceOnUse" x1="1079" y1="0" x2="1795.1" y2="0"><stop offset=".000" stop-color="#cfcfe5"/><stop offset=".071" stop-color="#d1d1e6"/><stop offset=".130" stop-color="#d4d4e8"/><stop offset=".197" stop-color="#cecde4"/><stop offset=".281" stop-color="#cfcfe5"/><stop offset=".344" stop-color="#d5d6e9"/><stop offset=".419" stop-color="#cfcfe5"/><stop offset=".519" stop-color="#c2bedc"/><stop offset=".536" stop-color="#c5c2de"/><stop offset=".570" stop-color="#d7d8ea"/><stop offset=".591" stop-color="#d5d6e9"/><stop offset=".633" stop-color="#bab5d7"/><stop offset=".670" stop-color="#a9a1cb"/><stop offset=".700" stop-color="#968bbc"/><stop offset=".708" stop-color="#8c80b5"/><stop offset=".721" stop-color="#8477af"/><stop offset=".742" stop-color="#887cb2"/><stop offset=".762" stop-color="#968bbc"/><stop offset=".796" stop-color="#b7b1d5"/><stop offset=".838" stop-color="#dee0ed"/><stop offset=".859" stop-color="#ededf3"/><stop offset=".905" stop-color="#f2f2f5"/><stop offset="1.000" stop-color="#f0f1f4"/></linearGradient><linearGradient id="gd14" gradientUnits="userSpaceOnUse" x1="1079" y1="0" x2="1795.1" y2="0"><stop offset=".000" stop-color="#cccbe3"/><stop offset=".126" stop-color="#d1d1e6"/><stop offset=".197" stop-color="#cbc9e2"/><stop offset=".276" stop-color="#cccbe3"/><stop offset=".348" stop-color="#d2d3e7"/><stop offset=".494" stop-color="#c0bddb"/><stop offset=".519" stop-color="#bcb7d8"/><stop offset=".536" stop-color="#bfbbda"/><stop offset=".549" stop-color="#c5c2de"/><stop offset=".570" stop-color="#d2d3e7"/><stop offset=".587" stop-color="#d2d3e7"/><stop offset=".607" stop-color="#c6c4df"/><stop offset=".628" stop-color="#b7b1d5"/><stop offset=".649" stop-color="#b1aad1"/><stop offset=".712" stop-color="#8275ad"/><stop offset=".725" stop-color="#7e70ab"/><stop offset=".746" stop-color="#8275ad"/><stop offset=".762" stop-color="#8e82b6"/><stop offset=".796" stop-color="#b4aed3"/><stop offset=".817" stop-color="#c6c4df"/><stop offset=".838" stop-color="#dddfed"/><stop offset=".855" stop-color="#eaebf2"/><stop offset=".880" stop-color="#f0f1f4"/><stop offset="1.000" stop-color="#f0f1f4"/></linearGradient><linearGradient id="gd15" gradientUnits="userSpaceOnUse" x1="1079" y1="0" x2="1795.1" y2="0"><stop offset=".000" stop-color="#cbc9e2"/><stop offset=".096" stop-color="#cccbe3"/><stop offset=".147" stop-color="#cccbe3"/><stop offset=".218" stop-color="#c8c6e0"/><stop offset=".352" stop-color="#cecde4"/><stop offset=".494" stop-color="#bcb7d8"/><stop offset=".524" stop-color="#b6b0d4"/><stop offset=".545" stop-color="#bcb7d8"/><stop offset=".574" stop-color="#cecde4"/><stop offset=".591" stop-color="#cccbe3"/><stop offset=".628" stop-color="#b3acd2"/><stop offset=".645" stop-color="#afa8d0"/><stop offset=".687" stop-color="#8c80b5"/><stop offset=".700" stop-color="#867ab0"/><stop offset=".712" stop-color="#7d6da9"/><stop offset=".725" stop-color="#7967a6"/><stop offset=".742" stop-color="#7b6aa8"/><stop offset=".758" stop-color="#8477af"/><stop offset=".783" stop-color="#9d94c2"/><stop offset=".800" stop-color="#b3acd2"/><stop offset=".817" stop-color="#c2bedc"/><stop offset=".838" stop-color="#dddfed"/><stop offset=".855" stop-color="#ebecf3"/><stop offset=".901" stop-color="#f0f1f4"/><stop offset="1.000" stop-color="#eff0f4"/></linearGradient><linearGradient id="gd16" gradientUnits="userSpaceOnUse" x1="1079" y1="0" x2="1795.1" y2="0"><stop offset=".000" stop-color="#c8c6e0"/><stop offset=".163" stop-color="#c8c6e0"/><stop offset=".239" stop-color="#c5c2de"/><stop offset=".339" stop-color="#cbc9e2"/><stop offset=".486" stop-color="#b9b3d6"/><stop offset=".524" stop-color="#b1aad1"/><stop offset=".549" stop-color="#b9b3d6"/><stop offset=".574" stop-color="#c8c6e0"/><stop offset=".591" stop-color="#c6c4df"/><stop offset=".624" stop-color="#b1aad1"/><stop offset=".654" stop-color="#a39bc7"/><stop offset=".687" stop-color="#8477af"/><stop offset=".700" stop-color="#8073ac"/><stop offset=".716" stop-color="#7661a4"/><stop offset=".737" stop-color="#7661a4"/><stop offset=".767" stop-color="#8477af"/><stop offset=".804" stop-color="#b1aad1"/><stop offset=".821" stop-color="#c3c0dd"/><stop offset=".842" stop-color="#e1e2ee"/><stop offset=".855" stop-color="#ebecf3"/><stop offset=".897" stop-color="#eff0f4"/><stop offset="1.000" stop-color="#eeeef3"/></linearGradient><linearGradient id="gd17" gradientUnits="userSpaceOnUse" x1="1079" y1="0" x2="1795.1" y2="0"><stop offset=".000" stop-color="#c6c4df"/><stop offset=".168" stop-color="#c5c2de"/><stop offset=".356" stop-color="#c5c2de"/><stop offset=".499" stop-color="#b3acd2"/><stop offset=".524" stop-color="#ada6ce"/><stop offset=".549" stop-color="#b4aed3"/><stop offset=".574" stop-color="#c2bedc"/><stop offset=".595" stop-color="#bfbbda"/><stop offset=".628" stop-color="#a9a1cb"/><stop offset=".649" stop-color="#a198c5"/><stop offset=".674" stop-color="#8a7eb3"/><stop offset=".679" stop-color="#8477af"/><stop offset=".704" stop-color="#7967a6"/><stop offset=".716" stop-color="#725ba1"/><stop offset=".729" stop-color="#70589f"/><stop offset=".742" stop-color="#725ba1"/><stop offset=".771" stop-color="#8275ad"/><stop offset=".788" stop-color="#968bbc"/><stop offset=".825" stop-color="#c5c2de"/><stop offset=".842" stop-color="#dfe1ee"/><stop offset=".855" stop-color="#eaebf2"/><stop offset=".984" stop-color="#eeeef3"/><stop offset="1.000" stop-color="#ededf3"/></linearGradient><linearGradient id="gd18" gradientUnits="userSpaceOnUse" x1="1079" y1="0" x2="1795.1" y2="0"><stop offset=".000" stop-color="#c5c2de"/><stop offset=".251" stop-color="#c0bddb"/><stop offset=".339" stop-color="#c3c0dd"/><stop offset=".503" stop-color="#ada6ce"/><stop offset=".524" stop-color="#a9a1cb"/><stop offset=".545" stop-color="#afa8d0"/><stop offset=".574" stop-color="#bdb9d9"/><stop offset=".591" stop-color="#bcb7d8"/><stop offset=".654" stop-color="#988dbe"/><stop offset=".683" stop-color="#7d6da9"/><stop offset=".695" stop-color="#7967a6"/><stop offset=".712" stop-color="#6f559e"/><stop offset=".725" stop-color="#6b4f9b"/><stop offset=".742" stop-color="#6d529c"/><stop offset=".779" stop-color="#8477af"/><stop offset=".825" stop-color="#c2bedc"/><stop offset=".842" stop-color="#dcddec"/><stop offset=".855" stop-color="#e5e7f0"/><stop offset=".993" stop-color="#eaebf2"/><stop offset="1.000" stop-color="#e9eaf2"/></linearGradient><linearGradient id="gd19" gradientUnits="userSpaceOnUse" x1="1079" y1="0" x2="1795.1" y2="0"><stop offset=".000" stop-color="#c2bedc"/><stop offset=".247" stop-color="#bdb9d9"/><stop offset=".331" stop-color="#c0bddb"/><stop offset=".515" stop-color="#a79fca"/><stop offset=".536" stop-color="#a79fca"/><stop offset=".578" stop-color="#b9b3d6"/><stop offset=".587" stop-color="#b9b3d6"/><stop offset=".607" stop-color="#afa8d0"/><stop offset=".662" stop-color="#8c80b5"/><stop offset=".683" stop-color="#7967a6"/><stop offset=".716" stop-color="#664697"/><stop offset=".742" stop-color="#684998"/><stop offset=".775" stop-color="#7d6da9"/><stop offset=".783" stop-color="#8275ad"/><stop offset=".821" stop-color="#b9b3d6"/><stop offset=".842" stop-color="#d7d8ea"/><stop offset=".855" stop-color="#dee0ed"/><stop offset=".934" stop-color="#e1e2ee"/><stop offset=".976" stop-color="#e5e7f0"/><stop offset="1.000" stop-color="#e5e7f0"/></linearGradient><linearGradient id="gd20" gradientUnits="userSpaceOnUse" x1="1079" y1="0" x2="1795.1" y2="0"><stop offset=".000" stop-color="#bfbbda"/><stop offset=".251" stop-color="#bab5d7"/><stop offset=".344" stop-color="#bab5d7"/><stop offset=".524" stop-color="#a198c5"/><stop offset=".545" stop-color="#a39bc7"/><stop offset=".574" stop-color="#b4aed3"/><stop offset=".591" stop-color="#b3acd2"/><stop offset=".658" stop-color="#887cb2"/><stop offset=".687" stop-color="#6f559e"/><stop offset=".716" stop-color="#5f3a91"/><stop offset=".729" stop-color="#5d3790"/><stop offset=".742" stop-color="#613d93"/><stop offset=".779" stop-color="#7b6aa8"/><stop offset=".796" stop-color="#8c80b5"/><stop offset=".821" stop-color="#b4aed3"/><stop offset=".846" stop-color="#d1d1e6"/><stop offset=".863" stop-color="#d7d8ea"/><stop offset=".938" stop-color="#dadcec"/><stop offset=".959" stop-color="#dfe1ee"/><stop offset="1.000" stop-color="#e2e3ef"/></linearGradient><linearGradient id="gd21" gradientUnits="userSpaceOnUse" x1="1079" y1="0" x2="1795.1" y2="0"><stop offset=".000" stop-color="#bcb7d8"/><stop offset=".209" stop-color="#b7b1d5"/><stop offset=".344" stop-color="#b6b0d4"/><stop offset=".486" stop-color="#9f96c4"/><stop offset=".540" stop-color="#9b92c1"/><stop offset=".578" stop-color="#afa8d0"/><stop offset=".599" stop-color="#a79fca"/><stop offset=".637" stop-color="#8e82b6"/><stop offset=".658" stop-color="#8073ac"/><stop offset=".679" stop-color="#6d529c"/><stop offset=".683" stop-color="#684998"/><stop offset=".716" stop-color="#552889"/><stop offset=".733" stop-color="#552889"/><stop offset=".750" stop-color="#5f3a91"/><stop offset=".788" stop-color="#7d6da9"/><stop offset=".796" stop-color="#867ab0"/><stop offset=".825" stop-color="#b4aed3"/><stop offset=".850" stop-color="#cccbe3"/><stop offset=".867" stop-color="#d2d3e7"/><stop offset=".930" stop-color="#d5d6e9"/><stop offset=".964" stop-color="#dee0ed"/><stop offset="1.000" stop-color="#dfe1ee"/></linearGradient><linearGradient id="gd22" gradientUnits="userSpaceOnUse" x1="1079" y1="0" x2="1795.1" y2="0"><stop offset=".000" stop-color="#bab5d7"/><stop offset=".134" stop-color="#b4aed3"/><stop offset=".339" stop-color="#b3acd2"/><stop offset=".515" stop-color="#968bbc"/><stop offset=".549" stop-color="#988dbe"/><stop offset=".582" stop-color="#a59dc8"/><stop offset=".599" stop-color="#9f96c4"/><stop offset=".645" stop-color="#8275ad"/><stop offset=".654" stop-color="#7d6da9"/><stop offset=".666" stop-color="#725ba1"/><stop offset=".679" stop-color="#634094"/><stop offset=".687" stop-color="#5c348e"/><stop offset=".695" stop-color="#5a318d"/><stop offset=".708" stop-color="#502382"/><stop offset=".721" stop-color="#4a1d78"/><stop offset=".733" stop-color="#4c1f7b"/><stop offset=".750" stop-color="#572b8a"/><stop offset=".792" stop-color="#7e70ab"/><stop offset=".809" stop-color="#9489bb"/><stop offset=".825" stop-color="#b1aad1"/><stop offset=".838" stop-color="#bab5d7"/><stop offset=".850" stop-color="#c9c8e1"/><stop offset=".863" stop-color="#d1d1e6"/><stop offset=".930" stop-color="#d4d4e8"/><stop offset=".959" stop-color="#dddfed"/><stop offset="1.000" stop-color="#dee0ed"/></linearGradient><linearGradient id="gd23" gradientUnits="userSpaceOnUse" x1="1079" y1="0" x2="1795.1" y2="0"><stop offset=".000" stop-color="#b7b1d5"/><stop offset=".080" stop-color="#b4aed3"/><stop offset=".105" stop-color="#b1aad1"/><stop offset=".335" stop-color="#afa8d0"/><stop offset=".528" stop-color="#8e82b6"/><stop offset=".553" stop-color="#9085b8"/><stop offset=".582" stop-color="#9b92c1"/><stop offset=".616" stop-color="#8e82b6"/><stop offset=".641" stop-color="#8073ac"/><stop offset=".658" stop-color="#745ea2"/><stop offset=".679" stop-color="#5a318d"/><stop offset=".687" stop-color="#552889"/><stop offset=".695" stop-color="#532687"/><stop offset=".712" stop-color="#42156c"/><stop offset=".721" stop-color="#3e1165"/><stop offset=".729" stop-color="#3f1268"/><stop offset=".750" stop-color="#502382"/><stop offset=".758" stop-color="#582e8c"/><stop offset=".792" stop-color="#7b6aa8"/><stop offset=".804" stop-color="#887cb2"/><stop offset=".817" stop-color="#9d94c2"/><stop offset=".825" stop-color="#ada6ce"/><stop offset=".842" stop-color="#bcb7d8"/><stop offset=".859" stop-color="#cecde4"/><stop offset=".876" stop-color="#d1d1e6"/><stop offset=".934" stop-color="#d4d4e8"/><stop offset=".959" stop-color="#dddfed"/><stop offset="1.000" stop-color="#dee0ed"/></linearGradient><linearGradient id="gd24" gradientUnits="userSpaceOnUse" x1="1079" y1="0" x2="1795.1" y2="0"><stop offset=".000" stop-color="#b4aed3"/><stop offset=".080" stop-color="#b1aad1"/><stop offset=".126" stop-color="#ada6ce"/><stop offset=".310" stop-color="#ada6ce"/><stop offset=".323" stop-color="#aba3cd"/><stop offset=".398" stop-color="#9f96c4"/><stop offset=".524" stop-color="#887cb2"/><stop offset=".557" stop-color="#887cb2"/><stop offset=".587" stop-color="#9287b9"/><stop offset=".607" stop-color="#8c80b5"/><stop offset=".641" stop-color="#7b6aa8"/><stop offset=".649" stop-color="#7661a4"/><stop offset=".666" stop-color="#644395"/><stop offset=".674" stop-color="#582e8c"/><stop offset=".683" stop-color="#522584"/><stop offset=".695" stop-color="#4c1f7b"/><stop offset=".712" stop-color="#360959"/><stop offset=".721" stop-color="#320552"/><stop offset=".733" stop-color="#380b5c"/><stop offset=".750" stop-color="#4a1d78"/><stop offset=".758" stop-color="#532687"/><stop offset=".796" stop-color="#7b6aa8"/><stop offset=".809" stop-color="#867ab0"/><stop offset=".825" stop-color="#a9a1cb"/><stop offset=".842" stop-color="#b9b3d6"/><stop offset=".855" stop-color="#c9c8e1"/><stop offset=".871" stop-color="#cfcfe5"/><stop offset=".930" stop-color="#d1d1e6"/><stop offset=".964" stop-color="#dddfed"/><stop offset="1.000" stop-color="#dddfed"/></linearGradient><linearGradient id="gd25" gradientUnits="userSpaceOnUse" x1="1079" y1="0" x2="1795.1" y2="0"><stop offset=".000" stop-color="#b1aad1"/><stop offset=".084" stop-color="#ada6ce"/><stop offset=".096" stop-color="#aba3cd"/><stop offset=".331" stop-color="#a79fca"/><stop offset=".515" stop-color="#8477af"/><stop offset=".570" stop-color="#8477af"/><stop offset=".587" stop-color="#8a7eb3"/><stop offset=".607" stop-color="#867ab0"/><stop offset=".641" stop-color="#7661a4"/><stop offset=".658" stop-color="#684998"/><stop offset=".670" stop-color="#582e8c"/><stop offset=".683" stop-color="#4d207d"/><stop offset=".691" stop-color="#471a74"/><stop offset=".708" stop-color="#300350"/><stop offset=".712" stop-color="#2d004b"/><stop offset=".733" stop-color="#2d004b"/><stop offset=".758" stop-color="#4d207d"/><stop offset=".767" stop-color="#582e8c"/><stop offset=".796" stop-color="#7764a5"/><stop offset=".813" stop-color="#887cb2"/><stop offset=".825" stop-color="#a39bc7"/><stop offset=".846" stop-color="#bcb7d8"/><stop offset=".859" stop-color="#c8c6e0"/><stop offset=".888" stop-color="#cccbe3"/><stop offset=".930" stop-color="#cfcfe5"/><stop offset=".959" stop-color="#dadcec"/><stop offset="1.000" stop-color="#dcddec"/></linearGradient><linearGradient id="gd26" gradientUnits="userSpaceOnUse" x1="1079" y1="0" x2="1795.1" y2="0"><stop offset=".000" stop-color="#ada6ce"/><stop offset=".075" stop-color="#aba3cd"/><stop offset=".130" stop-color="#a79fca"/><stop offset=".310" stop-color="#a59dc8"/><stop offset=".381" stop-color="#9990bf"/><stop offset=".440" stop-color="#8c80b5"/><stop offset=".511" stop-color="#8073ac"/><stop offset=".566" stop-color="#7e70ab"/><stop offset=".587" stop-color="#8275ad"/><stop offset=".607" stop-color="#8073ac"/><stop offset=".633" stop-color="#7661a4"/><stop offset=".658" stop-color="#634094"/><stop offset=".670" stop-color="#552889"/><stop offset=".687" stop-color="#44176f"/><stop offset=".704" stop-color="#2d004b"/><stop offset=".737" stop-color="#2d004b"/><stop offset=".746" stop-color="#360959"/><stop offset=".767" stop-color="#532687"/><stop offset=".792" stop-color="#70589f"/><stop offset=".813" stop-color="#8477af"/><stop offset=".834" stop-color="#aba3cd"/><stop offset=".859" stop-color="#c3c0dd"/><stop offset=".892" stop-color="#c9c8e1"/><stop offset=".934" stop-color="#cecde4"/><stop offset=".964" stop-color="#d8daeb"/><stop offset="1.000" stop-color="#d9dbeb"/></linearGradient><linearGradient id="gd27" gradientUnits="userSpaceOnUse" x1="1079" y1="0" x2="1795.1" y2="0"><stop offset=".000" stop-color="#a9a1cb"/><stop offset=".243" stop-color="#a39bc7"/><stop offset=".314" stop-color="#a198c5"/><stop offset=".385" stop-color="#9489bb"/><stop offset=".427" stop-color="#887cb2"/><stop offset=".507" stop-color="#7e70ab"/><stop offset=".566" stop-color="#7d6da9"/><stop offset=".587" stop-color="#7e70ab"/><stop offset=".616" stop-color="#7967a6"/><stop offset=".645" stop-color="#6a4c9a"/><stop offset=".666" stop-color="#572b8a"/><stop offset=".679" stop-color="#491c76"/><stop offset=".695" stop-color="#300350"/><stop offset=".700" stop-color="#2d004b"/><stop offset=".742" stop-color="#2d004b"/><stop offset=".750" stop-color="#360959"/><stop offset=".767" stop-color="#502382"/><stop offset=".775" stop-color="#5a318d"/><stop offset=".796" stop-color="#725ba1"/><stop offset=".817" stop-color="#867ab0"/><stop offset=".838" stop-color="#aba3cd"/><stop offset=".859" stop-color="#bfbbda"/><stop offset=".938" stop-color="#cecde4"/><stop offset=".968" stop-color="#d5d6e9"/><stop offset="1.000" stop-color="#d7d8ea"/></linearGradient><linearGradient id="gd28" gradientUnits="userSpaceOnUse" x1="1079" y1="0" x2="1795.1" y2="0"><stop offset=".000" stop-color="#a39bc7"/><stop offset=".209" stop-color="#9d94c2"/><stop offset=".306" stop-color="#9b92c1"/><stop offset=".364" stop-color="#9085b8"/><stop offset=".423" stop-color="#8073ac"/><stop offset=".582" stop-color="#7764a5"/><stop offset=".607" stop-color="#745ea2"/><stop offset=".641" stop-color="#644395"/><stop offset=".662" stop-color="#552889"/><stop offset=".674" stop-color="#471a74"/><stop offset=".691" stop-color="#2f024d"/><stop offset=".746" stop-color="#2d004b"/><stop offset=".754" stop-color="#360959"/><stop offset=".767" stop-color="#4c1f7b"/><stop offset=".775" stop-color="#572b8a"/><stop offset=".796" stop-color="#6f559e"/><stop offset=".817" stop-color="#8275ad"/><stop offset=".838" stop-color="#a39bc7"/><stop offset=".850" stop-color="#b3acd2"/><stop offset=".880" stop-color="#bdb9d9"/><stop offset=".905" stop-color="#bfbbda"/><stop offset=".964" stop-color="#cfcfe5"/><stop offset="1.000" stop-color="#d2d3e7"/></linearGradient><linearGradient id="gd29" gradientUnits="userSpaceOnUse" x1="1079" y1="0" x2="1795.1" y2="0"><stop offset=".000" stop-color="#988dbe"/><stop offset=".251" stop-color="#9489bb"/><stop offset=".318" stop-color="#9085b8"/><stop offset=".390" stop-color="#7e70ab"/><stop offset=".570" stop-color="#725ba1"/><stop offset=".603" stop-color="#6b4f9b"/><stop offset=".641" stop-color="#5a318d"/><stop offset=".649" stop-color="#552889"/><stop offset=".662" stop-color="#4d207d"/><stop offset=".683" stop-color="#350857"/><stop offset=".687" stop-color="#2f024d"/><stop offset=".750" stop-color="#2d004b"/><stop offset=".767" stop-color="#4c1f7b"/><stop offset=".775" stop-color="#572b8a"/><stop offset=".800" stop-color="#70589f"/><stop offset=".825" stop-color="#8a7eb3"/><stop offset=".846" stop-color="#aba3cd"/><stop offset=".859" stop-color="#b4aed3"/><stop offset=".909" stop-color="#b6b0d4"/><stop offset=".943" stop-color="#c5c2de"/><stop offset=".989" stop-color="#c9c8e1"/><stop offset="1.000" stop-color="#c9c8e1"/></linearGradient><linearGradient id="gd30" gradientUnits="userSpaceOnUse" x1="1079" y1="0" x2="1795.1" y2="0"><stop offset=".000" stop-color="#8e82b6"/><stop offset=".251" stop-color="#8a7eb3"/><stop offset=".314" stop-color="#867ab0"/><stop offset=".398" stop-color="#7967a6"/><stop offset=".549" stop-color="#6f559e"/><stop offset=".595" stop-color="#664697"/><stop offset=".637" stop-color="#532687"/><stop offset=".658" stop-color="#491c76"/><stop offset=".674" stop-color="#3b0e61"/><stop offset=".687" stop-color="#2d004b"/><stop offset=".746" stop-color="#2d004b"/><stop offset=".750" stop-color="#300350"/><stop offset=".762" stop-color="#4d207d"/><stop offset=".767" stop-color="#532687"/><stop offset=".796" stop-color="#6f559e"/><stop offset=".821" stop-color="#8275ad"/><stop offset=".850" stop-color="#b7b1d5"/><stop offset=".859" stop-color="#bdb9d9"/><stop offset=".876" stop-color="#bab5d7"/><stop offset=".884" stop-color="#bab5d7"/><stop offset=".901" stop-color="#bdb9d9"/><stop offset=".922" stop-color="#b9b3d6"/><stop offset=".943" stop-color="#c0bddb"/><stop offset="1.000" stop-color="#c2bedc"/></linearGradient><linearGradient id="gd31" gradientUnits="userSpaceOnUse" x1="1079" y1="0" x2="1795.1" y2="0"><stop offset=".000" stop-color="#8073ac"/><stop offset=".251" stop-color="#8073ac"/><stop offset=".310" stop-color="#7e70ab"/><stop offset=".419" stop-color="#725ba1"/><stop offset=".540" stop-color="#6a4c9a"/><stop offset=".599" stop-color="#5f3a91"/><stop offset=".628" stop-color="#532687"/><stop offset=".662" stop-color="#451871"/><stop offset=".691" stop-color="#2f024d"/><stop offset=".742" stop-color="#2d004b"/><stop offset=".754" stop-color="#4c1f7b"/><stop offset=".758" stop-color="#532687"/><stop offset=".792" stop-color="#745ea2"/><stop offset=".804" stop-color="#7b6aa8"/><stop offset=".817" stop-color="#7e70ab"/><stop offset=".829" stop-color="#8e82b6"/><stop offset=".842" stop-color="#a39bc7"/><stop offset=".855" stop-color="#b3acd2"/><stop offset=".871" stop-color="#b6b0d4"/><stop offset=".888" stop-color="#b3acd2"/><stop offset=".926" stop-color="#b7b1d5"/><stop offset=".947" stop-color="#bdb9d9"/><stop offset="1.000" stop-color="#bfbbda"/></linearGradient><linearGradient id="gd32" gradientUnits="userSpaceOnUse" x1="1079" y1="0" x2="1795.1" y2="0"><stop offset=".000" stop-color="#7967a6"/><stop offset=".251" stop-color="#7967a6"/><stop offset=".310" stop-color="#7764a5"/><stop offset=".356" stop-color="#725ba1"/><stop offset=".578" stop-color="#5f3a91"/><stop offset=".633" stop-color="#532687"/><stop offset=".687" stop-color="#41146a"/><stop offset=".704" stop-color="#390c5e"/><stop offset=".721" stop-color="#390c5e"/><stop offset=".729" stop-color="#3e1165"/><stop offset=".750" stop-color="#572b8a"/><stop offset=".788" stop-color="#7b6aa8"/><stop offset=".792" stop-color="#7e70ab"/><stop offset=".817" stop-color="#8477af"/><stop offset=".838" stop-color="#9f96c4"/><stop offset=".850" stop-color="#b3acd2"/><stop offset=".863" stop-color="#b9b3d6"/><stop offset="1.000" stop-color="#b9b3d6"/></linearGradient><linearGradient id="gd33" gradientUnits="userSpaceOnUse" x1="1079" y1="0" x2="1795.1" y2="0"><stop offset=".000" stop-color="#7967a6"/><stop offset=".251" stop-color="#7967a6"/><stop offset=".356" stop-color="#745ea2"/><stop offset=".369" stop-color="#725ba1"/><stop offset=".427" stop-color="#70589f"/><stop offset=".457" stop-color="#6d529c"/><stop offset=".545" stop-color="#6b4f9b"/><stop offset=".599" stop-color="#613d93"/><stop offset=".616" stop-color="#5f3a91"/><stop offset=".641" stop-color="#552889"/><stop offset=".670" stop-color="#522584"/><stop offset=".716" stop-color="#4f2280"/><stop offset=".733" stop-color="#572b8a"/><stop offset=".779" stop-color="#7e70ab"/><stop offset=".838" stop-color="#a198c5"/><stop offset=".846" stop-color="#a39bc7"/><stop offset=".867" stop-color="#9f96c4"/><stop offset="1.000" stop-color="#a198c5"/></linearGradient><linearGradient id="gd34" gradientUnits="userSpaceOnUse" x1="1079" y1="0" x2="1795.1" y2="0"><stop offset=".000" stop-color="#8275ad"/><stop offset=".251" stop-color="#8275ad"/><stop offset=".323" stop-color="#7d6da9"/><stop offset=".373" stop-color="#7d6da9"/><stop offset=".402" stop-color="#8073ac"/><stop offset=".448" stop-color="#7e70ab"/><stop offset=".461" stop-color="#7d6da9"/><stop offset=".515" stop-color="#7e70ab"/><stop offset=".536" stop-color="#8275ad"/><stop offset=".557" stop-color="#7e70ab"/><stop offset=".603" stop-color="#725ba1"/><stop offset=".620" stop-color="#6f559e"/><stop offset=".649" stop-color="#644395"/><stop offset=".662" stop-color="#5d3790"/><stop offset=".670" stop-color="#5c348e"/><stop offset=".683" stop-color="#5d3790"/><stop offset=".704" stop-color="#5a318d"/><stop offset=".725" stop-color="#644395"/><stop offset=".771" stop-color="#8275ad"/><stop offset=".842" stop-color="#b7b1d5"/><stop offset=".855" stop-color="#c0bddb"/><stop offset=".884" stop-color="#c0bddb"/><stop offset=".905" stop-color="#bab5d7"/><stop offset=".934" stop-color="#bab5d7"/><stop offset=".951" stop-color="#c2bedc"/><stop offset="1.000" stop-color="#c2bedc"/></linearGradient><linearGradient id="gd35" gradientUnits="userSpaceOnUse" x1="1079" y1="0" x2="1795.1" y2="0"><stop offset=".000" stop-color="#8e82b6"/><stop offset=".251" stop-color="#8e82b6"/><stop offset=".344" stop-color="#887cb2"/><stop offset=".423" stop-color="#9489bb"/><stop offset=".486" stop-color="#988dbe"/><stop offset=".532" stop-color="#a39bc7"/><stop offset=".540" stop-color="#a39bc7"/><stop offset=".570" stop-color="#9489bb"/><stop offset=".658" stop-color="#7b6aa8"/><stop offset=".704" stop-color="#7661a4"/><stop offset=".733" stop-color="#7d6da9"/><stop offset=".758" stop-color="#8c80b5"/><stop offset=".821" stop-color="#b9b3d6"/><stop offset=".838" stop-color="#d2d3e7"/><stop offset=".850" stop-color="#dee0ed"/><stop offset=".884" stop-color="#e2e3ef"/><stop offset=".934" stop-color="#dddfed"/><stop offset=".955" stop-color="#e2e3ef"/><stop offset="1.000" stop-color="#e3e4ef"/></linearGradient><linearGradient id="gd36" gradientUnits="userSpaceOnUse" x1="1079" y1="0" x2="1795.1" y2="0"><stop offset=".000" stop-color="#9b92c1"/><stop offset=".251" stop-color="#9990bf"/><stop offset=".331" stop-color="#9b92c1"/><stop offset=".394" stop-color="#a79fca"/><stop offset=".457" stop-color="#aba3cd"/><stop offset=".482" stop-color="#b3acd2"/><stop offset=".540" stop-color="#b6b0d4"/><stop offset=".620" stop-color="#9f96c4"/><stop offset=".708" stop-color="#9085b8"/><stop offset=".742" stop-color="#9b92c1"/><stop offset=".792" stop-color="#b7b1d5"/><stop offset=".821" stop-color="#cfcfe5"/><stop offset=".850" stop-color="#f3f3f5"/><stop offset=".943" stop-color="#f6f6f7"/><stop offset="1.000" stop-color="#f5f5f6"/></linearGradient><linearGradient id="gd37" gradientUnits="userSpaceOnUse" x1="1079" y1="0" x2="1795.1" y2="0"><stop offset=".000" stop-color="#a9a1cb"/><stop offset=".251" stop-color="#a79fca"/><stop offset=".323" stop-color="#aba3cd"/><stop offset=".385" stop-color="#b7b1d5"/><stop offset=".457" stop-color="#bcb7d8"/><stop offset=".528" stop-color="#c9c8e1"/><stop offset=".637" stop-color="#b7b1d5"/><stop offset=".700" stop-color="#afa8d0"/><stop offset=".729" stop-color="#b3acd2"/><stop offset=".788" stop-color="#c8c6e0"/><stop offset=".821" stop-color="#d9dbeb"/><stop offset=".850" stop-color="#f5f5f6"/><stop offset="1.000" stop-color="#f7f7f6"/></linearGradient><linearGradient id="gd38" gradientUnits="userSpaceOnUse" x1="1079" y1="0" x2="1795.1" y2="0"><stop offset=".000" stop-color="#b6b0d4"/><stop offset=".251" stop-color="#b4aed3"/><stop offset=".327" stop-color="#bab5d7"/><stop offset=".465" stop-color="#cecde4"/><stop offset=".511" stop-color="#d8daeb"/><stop offset=".561" stop-color="#d7d8ea"/><stop offset=".637" stop-color="#cccbe3"/><stop offset=".704" stop-color="#c8c6e0"/><stop offset=".746" stop-color="#cecde4"/><stop offset=".809" stop-color="#e1e2ee"/><stop offset=".855" stop-color="#f6f6f7"/><stop offset=".964" stop-color="#f7f6f3"/><stop offset="1.000" stop-color="#f7f6f3"/></linearGradient><linearGradient id="gd39" gradientUnits="userSpaceOnUse" x1="1079" y1="0" x2="1795.1" y2="0"><stop offset=".000" stop-color="#c2bedc"/><stop offset=".251" stop-color="#c3c0dd"/><stop offset=".318" stop-color="#c8c6e0"/><stop offset=".385" stop-color="#d2d3e7"/><stop offset=".511" stop-color="#d9dbeb"/><stop offset=".733" stop-color="#dadcec"/><stop offset=".859" stop-color="#f7f7f6"/><stop offset="1.000" stop-color="#f7f6f3"/></linearGradient><linearGradient id="gd40" gradientUnits="userSpaceOnUse" x1="1079" y1="0" x2="1795.1" y2="0"><stop offset=".000" stop-color="#cfcfe5"/><stop offset=".251" stop-color="#cfcfe5"/><stop offset=".360" stop-color="#d8daeb"/><stop offset=".612" stop-color="#dddfed"/><stop offset=".716" stop-color="#e4e5f0"/><stop offset=".804" stop-color="#f6f6f7"/><stop offset="1.000" stop-color="#f7f6f3"/></linearGradient><linearGradient id="gd41" gradientUnits="userSpaceOnUse" x1="1079" y1="0" x2="1795.1" y2="0"><stop offset=".000" stop-color="#dcddec"/><stop offset=".251" stop-color="#dadcec"/><stop offset=".381" stop-color="#dadcec"/><stop offset=".507" stop-color="#dee0ed"/><stop offset=".645" stop-color="#e3e4ef"/><stop offset=".733" stop-color="#f0f1f4"/><stop offset=".771" stop-color="#f7f7f6"/><stop offset="1.000" stop-color="#f7f6f3"/></linearGradient><linearGradient id="gd42" gradientUnits="userSpaceOnUse" x1="1079" y1="0" x2="1795.1" y2="0"><stop offset=".000" stop-color="#e5e7f0"/><stop offset=".251" stop-color="#e5e7f0"/><stop offset=".503" stop-color="#e1e2ee"/><stop offset=".587" stop-color="#e1e2ee"/><stop offset=".683" stop-color="#ebecf3"/><stop offset=".746" stop-color="#f7f7f6"/><stop offset=".767" stop-color="#f8f4ee"/><stop offset=".788" stop-color="#f8f4ee"/><stop offset=".804" stop-color="#f7f7f6"/><stop offset=".913" stop-color="#f7f6f3"/><stop offset="1.000" stop-color="#f7f6f3"/></linearGradient><linearGradient id="gd43" gradientUnits="userSpaceOnUse" x1="1079" y1="0" x2="1795.1" y2="0"><stop offset=".000" stop-color="#ededf3"/><stop offset=".251" stop-color="#ededf3"/><stop offset=".444" stop-color="#e7e8f1"/><stop offset=".557" stop-color="#dfe1ee"/><stop offset=".624" stop-color="#e4e5f0"/><stop offset=".737" stop-color="#f7f7f6"/><stop offset=".775" stop-color="#f8f4ee"/><stop offset=".825" stop-color="#f7f6f3"/><stop offset="1.000" stop-color="#f7f6f3"/></linearGradient><linearGradient id="gd44" gradientUnits="userSpaceOnUse" x1="1079" y1="0" x2="1795.1" y2="0"><stop offset=".000" stop-color="#f2f2f5"/><stop offset=".251" stop-color="#f2f2f5"/><stop offset=".419" stop-color="#eff0f4"/><stop offset=".486" stop-color="#e3e4ef"/><stop offset=".603" stop-color="#dddfed"/><stop offset=".666" stop-color="#eeeef3"/><stop offset=".742" stop-color="#f7f7f6"/><stop offset=".762" stop-color="#f7f6f3"/><stop offset=".775" stop-color="#f7f7f6"/><stop offset=".838" stop-color="#f7f6f3"/><stop offset="1.000" stop-color="#f7f6f3"/></linearGradient><pattern id="hld" patternUnits="userSpaceOnUse" x="1081.4" y="0" width="8.4" height="16"><rect x="0" y="0" width="1" height="16" fill="#fff" opacity=".15"/><rect x="2.1" y="0" width="1" height="16" fill="#fff" opacity=".15"/><rect x="4.2" y="0" width="1" height="16" fill="#fff" opacity=".07"/><rect x="6.3" y="0" width="1" height="16" fill="#fff" opacity=".04"/></pattern></defs>
<rect x="1079" y="691" width="716.1" height="3" fill="url(#gd0)"/>
<rect x="1079" y="694" width="716.1" height="3" fill="url(#gd1)"/>
<rect x="1079" y="697" width="716.1" height="3" fill="url(#gd2)"/>
<rect x="1079" y="700" width="716.1" height="3" fill="url(#gd3)"/>
<rect x="1079" y="703" width="716.1" height="3" fill="url(#gd4)"/>
<rect x="1079" y="706" width="716.1" height="3" fill="url(#gd5)"/>
<rect x="1079" y="709" width="716.1" height="3" fill="url(#gd6)"/>
<rect x="1079" y="712" width="716.1" height="3" fill="url(#gd7)"/>
<rect x="1079" y="715" width="716.1" height="3" fill="url(#gd8)"/>
<rect x="1079" y="718" width="716.1" height="3" fill="url(#gd9)"/>
<rect x="1079" y="721" width="716.1" height="3" fill="url(#gd10)"/>
<rect x="1079" y="724" width="716.1" height="3" fill="url(#gd11)"/>
<rect x="1079" y="727" width="716.1" height="3" fill="url(#gd12)"/>
<rect x="1079" y="730" width="716.1" height="3" fill="url(#gd13)"/>
<rect x="1079" y="733" width="716.1" height="3" fill="url(#gd14)"/>
<rect x="1079" y="736" width="716.1" height="3" fill="url(#gd15)"/>
<rect x="1079" y="739" width="716.1" height="3" fill="url(#gd16)"/>
<rect x="1079" y="742" width="716.1" height="3" fill="url(#gd17)"/>
<rect x="1079" y="745" width="716.1" height="3" fill="url(#gd18)"/>
<rect x="1079" y="748" width="716.1" height="3" fill="url(#gd19)"/>
<rect x="1079" y="751" width="716.1" height="4" fill="url(#gd20)"/>
<rect x="1079" y="755" width="716.1" height="4" fill="url(#gd21)"/>
<rect x="1079" y="759" width="716.1" height="4" fill="url(#gd22)"/>
<rect x="1079" y="763" width="716.1" height="4" fill="url(#gd23)"/>
<rect x="1079" y="767" width="716.1" height="4" fill="url(#gd24)"/>
<rect x="1079" y="771" width="716.1" height="4" fill="url(#gd25)"/>
<rect x="1079" y="775" width="716.1" height="4" fill="url(#gd26)"/>
<rect x="1079" y="779" width="716.1" height="4" fill="url(#gd27)"/>
<rect x="1079" y="783" width="716.1" height="11" fill="url(#gd28)"/>
<rect x="1079" y="794" width="716.1" height="13" fill="url(#gd29)"/>
<rect x="1079" y="807" width="716.1" height="14" fill="url(#gd30)"/>
<rect x="1079" y="821" width="716.1" height="17" fill="url(#gd31)"/>
<rect x="1079" y="838" width="716.1" height="17" fill="url(#gd32)"/>
<rect x="1079" y="855" width="716.1" height="20" fill="url(#gd33)"/>
<rect x="1079" y="875" width="716.1" height="23" fill="url(#gd34)"/>
<rect x="1079" y="898" width="716.1" height="24" fill="url(#gd35)"/>
<rect x="1079" y="922" width="716.1" height="25" fill="url(#gd36)"/>
<rect x="1079" y="947" width="716.1" height="27" fill="url(#gd37)"/>
<rect x="1079" y="974" width="716.1" height="28" fill="url(#gd38)"/>
<rect x="1079" y="1002" width="716.1" height="27" fill="url(#gd39)"/>
<rect x="1079" y="1029" width="716.1" height="29" fill="url(#gd40)"/>
<rect x="1079" y="1058" width="716.1" height="28" fill="url(#gd41)"/>
<rect x="1079" y="1086" width="716.1" height="30" fill="url(#gd42)"/>
<rect x="1079" y="1116" width="716.1" height="31" fill="url(#gd43)"/>
<rect x="1079" y="1147" width="716.1" height="14" fill="url(#gd44)"/>
<rect x="1079" y="691.2" width="716.1" height="469.3" fill="url(#hld)"/>
<path d="M1079 748 h716.1 M1079 783 h716.1 M1079 794 h716.1 M1079 807 h716.1 M1079 821 h716.1 M1079 838 h716.1 M1079 855 h716.1 M1079 875 h716.1 M1079 898 h716.1 M1079 922 h716.1 M1079 947 h716.1 M1079 974 h716.1 M1079 1002 h716.1 M1079 1029 h716.1 M1079 1058 h716.1 M1079 1086 h716.1 M1079 1116 h716.1 M1079 1147 h716.1" stroke="#fff" stroke-opacity=".1" stroke-width="1" fill="none"/>
<circle cx="1414.2" cy="1130.3" r="4.2" fill="#000"/>
<path d="M1722.2 864.4 1743.4 863.8" fill="none" stroke="#000" stroke-width="4.5" stroke-linejoin="round" stroke-linecap="butt" stroke-dasharray="15.5 6.7"/>
<path d="M1565.2 745.1 1569 755.1 1575.2 770.1 1578.2 760.1" fill="none" stroke="#000" stroke-width="4.05" stroke-linejoin="round" stroke-linecap="butt" stroke-dasharray="15.5 6.7"/>
<path d="M1702.1 807.7 1699.6 814 1702.1 820.2" fill="none" stroke="#000" stroke-width="4.5" stroke-linejoin="round" stroke-linecap="butt" stroke-dasharray="15.5 6.7"/>
<path d="M1379.1 698 1407.9 697" fill="none" stroke="#000" stroke-width="3.15" stroke-linejoin="round" stroke-linecap="butt"/>
<path d="M1399.7 703.8 1399.1 706.8 1397.6 709.3 1395.4 710.6 1392.9 710.6 1390.7 709.3 1389.2 706.8 1388.6 703.8 1389.2 700.7 1390.7 698.3 1392.9 696.9 1395.4 696.9 1397.6 698.3 1399.1 700.7Z" fill="none" stroke="#000" stroke-width="3.15" stroke-linejoin="round" stroke-linecap="butt"/>
<path d="M1443 698.8 1453 696.3 1460.5 692.5 1455.5 698.8 1465.5 702.5 1473 703.8 1480.5 700 1484.3 692.5" fill="none" stroke="#000" stroke-width="3.15" stroke-linejoin="round" stroke-linecap="butt"/>
<path d="M1483.5 697.5 1482.8 700.3 1480.8 702.3 1478 703 1475.3 702.3 1473.2 700.3 1472.5 697.5 1473.2 694.8 1475.3 692.8 1478 692 1480.8 692.8 1482.8 694.8Z" fill="none" stroke="#000" stroke-width="3.15" stroke-linejoin="round" stroke-linecap="butt"/>
<path d="M1722.2 696.9 1725.9 707.5 1735.9 697.5 1739.7 693.8Z" fill="none" stroke="#000" stroke-width="4.14" stroke-linejoin="round" stroke-linecap="butt"/>
<path d="M1739.7 694.4 1742.2 696.3 1744.7 703.8 1748.5 710 1754.7 711.3 1757.2 716.3 1759.7 723.8 1761 732.6" fill="none" stroke="#000" stroke-width="4.14" stroke-linejoin="round" stroke-linecap="butt"/>
<path d="M1739.7 694.4 1791 695" fill="none" stroke="#000" stroke-width="4.5" stroke-linejoin="round" stroke-linecap="butt"/>
<path d="M1791 695 1788.5 728.8" fill="none" stroke="#000" stroke-width="4.5" stroke-linejoin="round" stroke-linecap="butt"/>
<path d="M1702.1 947.7 1702.1 933.3 1686.5 933.3 1688.4 957.7 1689.6 982.8 1690.2 997.5 1691.5 1007.5 1689.6 1008.8 1687.7 1016.3 1688.4 1035.1" fill="none" stroke="#000" stroke-width="4.14" stroke-linejoin="round" stroke-linecap="butt"/>
<path d="M1693.4 1006.3 1697.1 1016.3 1699.6 1035.1 1703.4 1037.6 1704.6 1065.1 1702.1 1102.7 1699.6 1102.7 1698.4 1060.1 1697.1 1035.1 1695.9 1016.3 1693.4 1006.3" fill="none" stroke="#000" stroke-width="5.4" stroke-linejoin="round" stroke-linecap="butt"/>
<path d="M1700.9 1037.6 1702.1 1097.7" fill="none" stroke="#000" stroke-width="7.2" stroke-linejoin="round" stroke-linecap="butt"/>
<path d="M1704.6 1072.6 1711.5 1072.6 1712.1 1035.1 1712.1 1010 1714.7 1011.3 1718.4 1022.6 1720.9 1013.8 1723.4 1022.6 1725.9 1035.1 1730.9 1042.6 1733.4 1028.8 1735.9 1012.5 1739.7 1022.6 1742.8 1027.6 1744.1 1010 1743.4 995 1746 988.8 1748.5 985" fill="none" stroke="#000" stroke-width="4.14" stroke-linejoin="round" stroke-linecap="butt"/>
<path d="M1714.7 1011.3 1718.4 1022.6 1720.9 1013.8 1723.4 1022.6" fill="none" stroke="#000" stroke-width="5.4" stroke-linejoin="round" stroke-linecap="butt"/>
<path d="M1733.4 938.9 1737.2 944 1740.9 949 1746 951.5 1752.2 957.7 1756 945.2 1757.2 932.7 1763.5 932.1 1762.2 950.2 1758.5 965.2 1753.5 964 1749.7 970.2 1747.2 982.8 1746 989" fill="none" stroke="#000" stroke-width="4.14" stroke-linejoin="round" stroke-linecap="butt"/>
<path d="M1758.5 932.7 1761 932.7 1760.3 951.5 1757.8 951.5 1758.5 932.7" fill="none" stroke="#000" stroke-width="5.4" stroke-linejoin="round" stroke-linecap="butt"/>
<path d="M1733.4 938.9 1740.9 949 1752.2 957.7" fill="none" stroke="#000" stroke-width="5.4" stroke-linejoin="round" stroke-linecap="butt"/>
<path d="M1592.8 1159.1 1597.8 1142.8 1602.3 1122.8 1603.3 1150.3 1604.8 1157.8 1606.5 1125.3 1609 1100.3 1612.8 1085.2 1616.5 1082.7 1619 1075.2 1625.3 1067.7 1631.6 1064 1636.6 1067.7 1640.3 1071.5 1645.3 1065.2 1647.8 1050.2 1649.8 1038.9 1654.1 1042.7 1659.1 1036.4 1661.6 1047.7 1664.1 1060.2 1666.6 1072.7 1665.3 1090.2 1664.1 1101.5 1650.3 1101.5 1645.3 1101.5 1644.1 1117.8 1642.8 1130.3 1639.1 1131.5 1637.8 1145.3 1636.6 1159.1" fill="none" stroke="#000" stroke-width="4.14" stroke-linejoin="round" stroke-linecap="butt"/>
<path d="M1646.6 1102.8 1650.3 1130.3 1651.6 1102.8" fill="none" stroke="#000" stroke-width="4.5" stroke-linejoin="round" stroke-linecap="butt"/>
<path d="M1600.3 1140.3 1602.8 1122.8 1604.3 1157.8" fill="none" stroke="#000" stroke-width="5.4" stroke-linejoin="round" stroke-linecap="butt"/>
<path d="M1607.8 1159.1 1610.3 1155.8 1612.8 1159.1" fill="none" stroke="#000" stroke-width="3.6" stroke-linejoin="round" stroke-linecap="butt"/>
<path d="M1764.2 1038.9 1763 1062.7 1762.5 1087.7 1763 1112.8 1761.7 1126.5 1756.7 1129 1755.5 1140.3 1757.5 1159.1" fill="none" stroke="#000" stroke-width="4.14" stroke-linejoin="round" stroke-linecap="butt"/>
<path d="M1770.5 1105.3 1774.2 1082.7 1777.5 1056.4 1780.5 1082.7 1784.2 1106.5 1786.7 1072.7 1789.2 1053.9 1793 1060.2" fill="none" stroke="#000" stroke-width="4.5" stroke-linejoin="round" stroke-linecap="butt"/>
<path d="M1770.5 1095.2 1775.5 1085.2" fill="none" stroke="#000" stroke-width="4.5" stroke-linejoin="round" stroke-linecap="butt"/>
<path d="M1746.7 1122.8 1746.7 1132.8" fill="none" stroke="#000" stroke-width="4.05" stroke-linejoin="round" stroke-linecap="butt"/>
<path d="M1669.8 1040.2 1670.4 1045.2" fill="none" stroke="#000" stroke-width="4.05" stroke-linejoin="round" stroke-linecap="butt"/>
<path d="M1686.9 1042.2 1686.6 1042.9 1685.9 1043.2 1685.2 1042.9 1684.9 1042.2 1685.2 1041.5 1685.9 1041.2 1686.6 1041.5Z" fill="none" stroke="#000" stroke-width="2.7" stroke-linejoin="round" stroke-linecap="butt"/>
<path d="M1778.2 1157.8 1778 1158.4 1777.5 1158.6 1777 1158.4 1776.7 1157.8 1777 1157.3 1777.5 1157.1 1778 1157.3Z" fill="none" stroke="#000" stroke-width="2.7" stroke-linejoin="round" stroke-linecap="butt"/>
<path d="M1080 719.5 1123.8 719.5 M1198.9 719.5 1270.3 719.5 1277.8 720.6 1287.8 724.6 1300.3 727.6 1315.3 728.8 1332.8 728.8 1350.4 728.1 1370.4 726.3 1395.4 723.1 1420.4 720.1 1440.5 718.3 1455.5 718.8 1468 722.1 1478 726.3 1485.5 731.3 1493.1 733.8 1500.6 732.1 1510.7 725.1 1520.7 720.1 1530.2 716.3 1537.7 711.3 1542.7 705 1550.2 710 1557.7 712.5 1565.2 708.8 1570.2 705 1575.2 711.3 1580.2 706.3 1590.3 703 1602.8 702 1615.3 702 1627.8 703 1640.3 705 1650.3 709.5 1640.8 705 1654.6 711.3 1665.8 713.8 1670.8 718.8 1672.1 726.3 1673.3 733.8 1678.3 737.6 1682.1 732.6 1685.9 716.3 1688.4 721.3 1685.9 728.8 1684.6 737.6 1689.6 742.6 1690.2 750.1 1692.1 752.6 1699.6 747.6 1714.7 747.6 1737.2 747.6 1747.2 748.9 1757.2 749.5 1758.5 760.1 1759.1 777.7 1759.7 786.4 1764.7 790.2 1771 788.3 1778.5 788.3 1794.8 788.3 M1754.7 754.5 1749.1 755.1 1748.5 765.1 1748.5 778.3 1743.4 778.9 1742.8 765.1 1742.2 750.1 M1142.6 762.6 1272.8 762.6 1280.3 761.4 1287.8 763.9 1300.3 763.9 1315.3 762.6 1330.3 760.1 1339.1 755.1 1347.8 757.6 1360.4 754.6 1375.4 752.1 1395.4 748.8 1415.4 746.3 1433 744.6 1445.5 740.1 1455.5 738.8 1465.5 741.3 1475.5 745.6 1483 750.1 1486.8 756.3 1492.6 757.6 1500.1 756.3 1510.2 750.1 1520.2 742.6 1530.2 736.3 1537.7 732.6 1540.2 738.8 1543.9 733.8 1550.2 727.6 1555.2 730.1 1562.7 725.1 1567.7 720.1 1572.7 726.3 1580.2 720.1 1590.3 716.3 1602.8 715.5 1615.3 717.5 1627.8 721.3 1632 723.8 1642 728.8 1649.5 737.6 1657.1 741.3 1663.3 747.6 1667.1 756.4 1670.8 765.1 1674.6 772.6 1677.1 760.1 1678.3 777.7 1679.6 791.4 1680.8 803.9 1682.1 816.5 1682.7 829 1682.7 832.5 1683.3 845 1685.9 852.6 1693.4 850 1707.1 848.2 1722.2 846.5 1737.2 846.3 1747.2 848.8 1757.2 853.8 1764.7 855.7 1778.5 854.1 1794.8 853.8 M1080 828.4 1270.3 828.4 1272.8 835.2 1276.5 838.2 1282.8 830.2 1290.3 827.7 1300.3 823.9 1312.8 818.9 1322.8 815.2 1332.8 811.4 1339.1 802.7 1347.8 801.4 1357.9 797.6 1367.9 793.1 1377.9 788.9 1390.4 787.1 1402.9 785.1 1415.4 782.1 1430.5 778.1 1445.5 776.4 1460.5 773.1 1470.5 771.4 1478 773.9 1485.5 773.1 1493 778.9 1502.6 779.6 1512.7 777.6 1522.7 772.6 1530.2 766.4 1535.2 768.1 1540.2 763.9 1550.2 757.6 1557.7 753.8 1565.2 745.1 1570.2 740.1 1574 746.3 1580.2 740.1 1587.7 733.8 1597.8 731.3 1607.8 732.6 1617.8 736.3 1627.8 742.6 1637.8 747.6 1645.3 755.1 1650.3 765.1 1656.6 770.1 1660.3 777.6 1664.1 785.1 1665.3 800.2 1666.6 820.2 1665.3 840.2 1661.6 847.7 1657.8 855.2 1654.1 845.2 1650.3 835.2 1647.8 845.2 1642.8 852.7 1637.8 862.7 1634.1 875.2 1631.6 885.3 1625.3 892.8 1617.8 900.3 1610.3 907.8 1602.8 915.3 1595.3 920.3 1587.7 924.1 1580.2 923.3 1572.7 919 1565.2 916.5 1555.2 915.3 1545.2 912.8 1535.2 910.3 1525.2 905.3 1515.2 901.5 1505.1 897.8 1495.1 895.3 1485.1 892.8 1477.6 890.3 1470.1 882.8 1463.8 876.5 1455.5 885.8 1445.5 889 1438 890.3 1427.9 886.5 1420.4 892.3 1410.4 891.5 1400.4 890.3 1390.4 887.8 1380.4 883.3 1370.4 885.3 1357.9 887.8 1345.3 891.5 1341.6 897.8 1335.3 896.5 1327.8 900.3 1317.8 901.5 1307.8 897.8 1297.8 895.3 1290.3 891.5 1282.8 890.3 1277.8 882.8 1274 876.5 1270.3 880.8 1131.3 880.8 M1580.2 765.1 1575.2 770.1 1570.2 762.6 1565.2 767.6 1560.2 775.1 1556.5 785.1 1550.2 797.6 1545.2 802.7 1537.7 807.7 1531.4 815.2 1528.9 827.7 1527.7 840.2 1530.2 852.7 1535.2 860.2 1542.7 865.2 1547.7 872.7 1552.7 875.2 1556.5 882.8 1560.2 872.7 1562.7 865.2 1567.7 870.2 1572.7 867.7 1577.7 877.7 1581.5 882.8 1587.7 881.5 1592.8 875.2 1597.8 867.7 1605.3 860.2 1611.5 850.2 1616.5 840.2 1620.3 830.2 1624 820.2 1627.8 812.7 1631.6 805.2 1632.8 795.1 1632.3 785.1 M1587.2 810.2 1586.9 815.6 1585.8 819.9 1584.3 822.4 1582.7 822.4 1581.2 819.9 1580.1 815.6 1579.7 810.2 1580.1 804.7 1581.2 800.4 1582.7 798 1584.3 798 1585.8 800.4 1586.9 804.7Z M1794.8 881.3 1778.5 881.1 1766 880.1 1759.7 877 1753.5 883.9 1740.9 887.6 1728.4 885.7 1712.1 883.9 1697.1 881.3 1687.1 880.1 1683.3 876.3 1680.8 882.6 1678.3 890.1 1674.6 888.9 1670.8 892.6 1667.1 900.1 1662.1 910.1 1655.8 918.9 1648.3 920.2 1640.8 928.9 1638.3 937.7 1634.5 944 1628.3 946.5 1622 947.7 1612.8 951.6 1605.3 955.3 1597.8 960.4 1590.3 964.9 1580.2 964.1 1570.2 962.4 1560.2 962.9 1552.7 957.8 1547.7 951.6 1540.2 950.8 1530.2 951.6 1520.7 950.3 1510.7 946.6 1500.6 944.8 1490.6 942.8 1483.1 937.8 1475.6 930.3 1466.8 924.1 1463.6 914 1455.5 922.8 1448 926.6 1438 930.3 1430.5 927.8 1422.9 932.8 1412.9 937.8 1402.9 945.3 1395.4 950.3 1387.9 944.1 1380.4 949.1 1374.1 945.8 1365.4 944.1 1355.4 942.3 1345.3 951.6 1339.1 955.3 1331.6 957.8 1325.3 965.4 1315.3 971.6 1305.3 975.9 1295.3 980.4 1287.8 976.6 1280.3 978.4 1272.8 981.1 1131.3 981.1 M1791 906.4 1778.5 907 1766 907.6 1761 903.9 1757.2 903.3 1752.2 908.9 1740.9 910.1 1728.4 908.3 1712.1 907.6 1697.1 906.4 1685.9 906.4 1683.3 902.6 1682.1 910.1 1679.6 920.2 1677.1 926.4 1674.6 932.7 1672.1 940.2 1669.6 950.2 1667.1 960.2 1664.6 967.7 1659.6 971.5 1654.6 975.3 1650.8 974 1644.5 981.5 1639.5 990.3 1632 994 1624.5 996.5 1615.3 1002.9 1605.3 1007.9 1595.3 1012.9 1585.2 1011.7 1575.2 1012.9 1567.7 1017.9 1557.7 1012.9 1550.2 1007.9 1542.7 999.1 1535.2 1000.4 1525.7 1004.2 1515.7 1002.9 1505.6 1000.4 1495.6 996.6 1488.1 994.1 1480.6 990.4 1473.1 986.6 1465.6 980.4 1461.8 971.6 1456.7 976.3 1450.5 983.9 1443 987.6 1435.5 990.1 1430.5 996.4 1422.9 1006.4 1415.4 1011.4 1402.9 1017.6 1397.9 1026.4 1395.4 1035.2 1387.9 1023.9 1380.4 1025.2 1372.9 1036.4 1365.4 1042.7 1360.4 1035.2 1355.4 1030.2 1350.4 1040.2 1346.6 1022.7 1345.3 1050.2 1344.1 1072.7 1340.3 1040.2 1336.6 1062.7 1335.3 1045.2 1327.8 1051.4 1322.8 1038.9 1320.3 1043.9 1312.8 1047.7 1305.3 1051.4 1297.8 1057.7 1290.3 1064 1282.8 1061.5 1275.3 1060.2 1270.3 1065.2 1131.3 1065.2 M1725.9 798.9 1717.2 798.3 1709.6 801.4 1708.4 810.2 1709.6 820.2 1712.1 827.7 1719.7 832.7 1728.4 837.1 M1730.9 807.1 1738.4 810.2 1738.4 820.2 1734.7 827.7" fill="none" stroke="#000" stroke-width="4.4" stroke-linejoin="round" stroke-linecap="butt" stroke-dasharray="15.5 6.7"/>
<text transform="translate(1161.4,719) rotate(0)" text-anchor="middle" font-size="29.17" y="10.6">−2</text>
<text transform="translate(1107.5,762.1) rotate(0)" text-anchor="middle" font-size="29.17" y="10.6">−4</text>
<text transform="translate(1098,880) rotate(0)" text-anchor="middle" font-size="29.17" y="10.6">−6</text>
<text transform="translate(1611.3,753.1) rotate(-24)" text-anchor="middle" font-size="29.17" y="10.6">−8</text>
<text transform="translate(1098,980.1) rotate(0)" text-anchor="middle" font-size="29.17" y="10.6">−4</text>
<text transform="translate(1098,1064.5) rotate(0)" text-anchor="middle" font-size="29.17" y="10.6">−2</text>
<text transform="translate(1775.4,742.3) rotate(0)" text-anchor="middle" font-size="29.17" y="10.6">0</text>
<text transform="translate(1713.6,930.8) rotate(18)" text-anchor="middle" font-size="29.17" y="10.6">0</text>
<text transform="translate(1672.9,1014.6) rotate(-42)" text-anchor="middle" font-size="29.17" y="10.6">0</text>
<text transform="translate(1686.1,1070.7) rotate(0)" text-anchor="middle" font-size="29.17" y="10.6">0</text>
<text transform="translate(1764.2,1072.7) rotate(90)" text-anchor="middle" font-size="29.17" y="10.6">0</text>
<text transform="translate(1748.4,1100.3) rotate(-50)" text-anchor="middle" font-size="29.17" y="10.6">0</text>
</g>
<rect x="1079" y="691.2" width="716.1" height="469.3" fill="none" stroke="#000" stroke-width="3.4"/>
<line x1="1064.4" y1="691.2" x2="1079" y2="691.2" stroke="#000" stroke-width="3.4"/>
<text x="1049.8" y="702.3" text-anchor="end" font-size="29.17">0</text>
<line x1="1064.4" y1="808.5" x2="1079" y2="808.5" stroke="#000" stroke-width="3.4"/>
<text x="1049.8" y="819.6" text-anchor="end" font-size="29.17">1000</text>
<line x1="1064.4" y1="925.9" x2="1079" y2="925.9" stroke="#000" stroke-width="3.4"/>
<text x="1049.8" y="937" text-anchor="end" font-size="29.17">2000</text>
<line x1="1064.4" y1="1043.2" x2="1079" y2="1043.2" stroke="#000" stroke-width="3.4"/>
<text x="1049.8" y="1054.3" text-anchor="end" font-size="29.17">3000</text>
<line x1="1064.4" y1="1160.5" x2="1079" y2="1160.5" stroke="#000" stroke-width="3.4"/>
<text x="1049.8" y="1171.6" text-anchor="end" font-size="29.17">4000</text>
<line x1="1204.4" y1="1160.5" x2="1204.4" y2="1175.1" stroke="#000" stroke-width="3.4"/>
<text x="1204.4" y="1211.8" text-anchor="middle" font-size="29.17">−50</text>
<line x1="1414.6" y1="1160.5" x2="1414.6" y2="1175.1" stroke="#000" stroke-width="3.4"/>
<text x="1414.6" y="1211.8" text-anchor="middle" font-size="29.17">0</text>
<line x1="1624.8" y1="1160.5" x2="1624.8" y2="1175.1" stroke="#000" stroke-width="3.4"/>
<text x="1624.8" y="1211.8" text-anchor="middle" font-size="29.17">50</text>
<text x="1078.8" y="667.1" font-size="41.67" font-weight="bold">d</text>
<text x="1437" y="1257.3" text-anchor="middle" font-size="29.17">Latitude (degrees)</text>
</g>
<defs><linearGradient id="cbg" gradientUnits="userSpaceOnUse" x1="123.9" y1="0" x2="1764.6" y2="0"><stop offset="0.0000" stop-color="#2d004b"/><stop offset="0.0156" stop-color="#330655"/><stop offset="0.0312" stop-color="#390c5e"/><stop offset="0.0469" stop-color="#3f1268"/><stop offset="0.0625" stop-color="#451871"/><stop offset="0.0781" stop-color="#4c1f7b"/><stop offset="0.0938" stop-color="#522584"/><stop offset="0.1094" stop-color="#582e8c"/><stop offset="0.1250" stop-color="#5f3a91"/><stop offset="0.1406" stop-color="#664697"/><stop offset="0.1562" stop-color="#6d529c"/><stop offset="0.1719" stop-color="#745ea2"/><stop offset="0.1875" stop-color="#7b6aa8"/><stop offset="0.2031" stop-color="#8275ad"/><stop offset="0.2188" stop-color="#8a7eb3"/><stop offset="0.2344" stop-color="#9287b9"/><stop offset="0.2500" stop-color="#9990bf"/><stop offset="0.2656" stop-color="#a198c5"/><stop offset="0.2812" stop-color="#a9a1cb"/><stop offset="0.2969" stop-color="#b1aad1"/><stop offset="0.3125" stop-color="#b7b1d5"/><stop offset="0.3281" stop-color="#bdb9d9"/><stop offset="0.3438" stop-color="#c3c0dd"/><stop offset="0.3594" stop-color="#c9c8e1"/><stop offset="0.3750" stop-color="#cfcfe5"/><stop offset="0.3906" stop-color="#d5d6e9"/><stop offset="0.4062" stop-color="#dadcec"/><stop offset="0.4219" stop-color="#dfe1ee"/><stop offset="0.4375" stop-color="#e4e5f0"/><stop offset="0.4531" stop-color="#e9eaf2"/><stop offset="0.4688" stop-color="#eeeef3"/><stop offset="0.4844" stop-color="#f3f3f5"/><stop offset="0.5000" stop-color="#f7f7f6"/><stop offset="0.5156" stop-color="#f8f3ec"/><stop offset="0.5312" stop-color="#f9efe1"/><stop offset="0.5469" stop-color="#faecd7"/><stop offset="0.5625" stop-color="#fce8cd"/><stop offset="0.5781" stop-color="#fde5c3"/><stop offset="0.5938" stop-color="#fee1b9"/><stop offset="0.6094" stop-color="#fedbac"/><stop offset="0.6250" stop-color="#fed59f"/><stop offset="0.6406" stop-color="#fecf92"/><stop offset="0.6562" stop-color="#fdc885"/><stop offset="0.6719" stop-color="#fdc278"/><stop offset="0.6875" stop-color="#fdbc6b"/><stop offset="0.7031" stop-color="#fbb55e"/><stop offset="0.7188" stop-color="#f7ac52"/><stop offset="0.7344" stop-color="#f2a446"/><stop offset="0.7500" stop-color="#ee9b39"/><stop offset="0.7656" stop-color="#e9932d"/><stop offset="0.7812" stop-color="#e58a20"/><stop offset="0.7969" stop-color="#e08214"/><stop offset="0.8125" stop-color="#d97b12"/><stop offset="0.8281" stop-color="#d27510"/><stop offset="0.8438" stop-color="#cb6e0d"/><stop offset="0.8594" stop-color="#c4680b"/><stop offset="0.8750" stop-color="#bd6109"/><stop offset="0.8906" stop-color="#b65a07"/><stop offset="0.9062" stop-color="#ae5506"/><stop offset="0.9219" stop-color="#a65107"/><stop offset="0.9375" stop-color="#9e4c07"/><stop offset="0.9531" stop-color="#954807"/><stop offset="0.9688" stop-color="#8d4307"/><stop offset="0.9844" stop-color="#853e08"/><stop offset="1.0000" stop-color="#7f3b08"/></linearGradient></defs>
<g id="colorbar">
<path d="M123.9 1313.4 L1764.6 1313.4 L1846.1 1336.3 L1764.6 1359.3 L123.9 1359.3 L42.4 1336.3 Z" fill="url(#cbg)" stroke="#000" stroke-width="3.4" stroke-linejoin="miter"/>
<line x1="123.9" y1="1359.3" x2="123.9" y2="1374.9" stroke="#000" stroke-width="3.4"/>
<text x="123.9" y="1411" text-anchor="middle" font-size="29.17">−10.0</text>
<line x1="329" y1="1359.3" x2="329" y2="1374.9" stroke="#000" stroke-width="3.4"/>
<text x="329" y="1411" text-anchor="middle" font-size="29.17">−7.5</text>
<line x1="534.1" y1="1359.3" x2="534.1" y2="1374.9" stroke="#000" stroke-width="3.4"/>
<text x="534.1" y="1411" text-anchor="middle" font-size="29.17">−5.0</text>
<line x1="739.2" y1="1359.3" x2="739.2" y2="1374.9" stroke="#000" stroke-width="3.4"/>
<text x="739.2" y="1411" text-anchor="middle" font-size="29.17">−2.5</text>
<line x1="944.2" y1="1359.3" x2="944.2" y2="1374.9" stroke="#000" stroke-width="3.4"/>
<text x="944.2" y="1411" text-anchor="middle" font-size="29.17">0.0</text>
<line x1="1149.3" y1="1359.3" x2="1149.3" y2="1374.9" stroke="#000" stroke-width="3.4"/>
<text x="1149.3" y="1411" text-anchor="middle" font-size="29.17">2.5</text>
<line x1="1354.4" y1="1359.3" x2="1354.4" y2="1374.9" stroke="#000" stroke-width="3.4"/>
<text x="1354.4" y="1411" text-anchor="middle" font-size="29.17">5.0</text>
<line x1="1559.5" y1="1359.3" x2="1559.5" y2="1374.9" stroke="#000" stroke-width="3.4"/>
<text x="1559.5" y="1411" text-anchor="middle" font-size="29.17">7.5</text>
<line x1="1764.6" y1="1359.3" x2="1764.6" y2="1374.9" stroke="#000" stroke-width="3.4"/>
<text x="1764.6" y="1411" text-anchor="middle" font-size="29.17">10.0</text>
<text x="944.2" y="1455.5" text-anchor="middle" font-size="29.17">AMOC strength (Sv)</text>
</g>
</svg></body></html>
